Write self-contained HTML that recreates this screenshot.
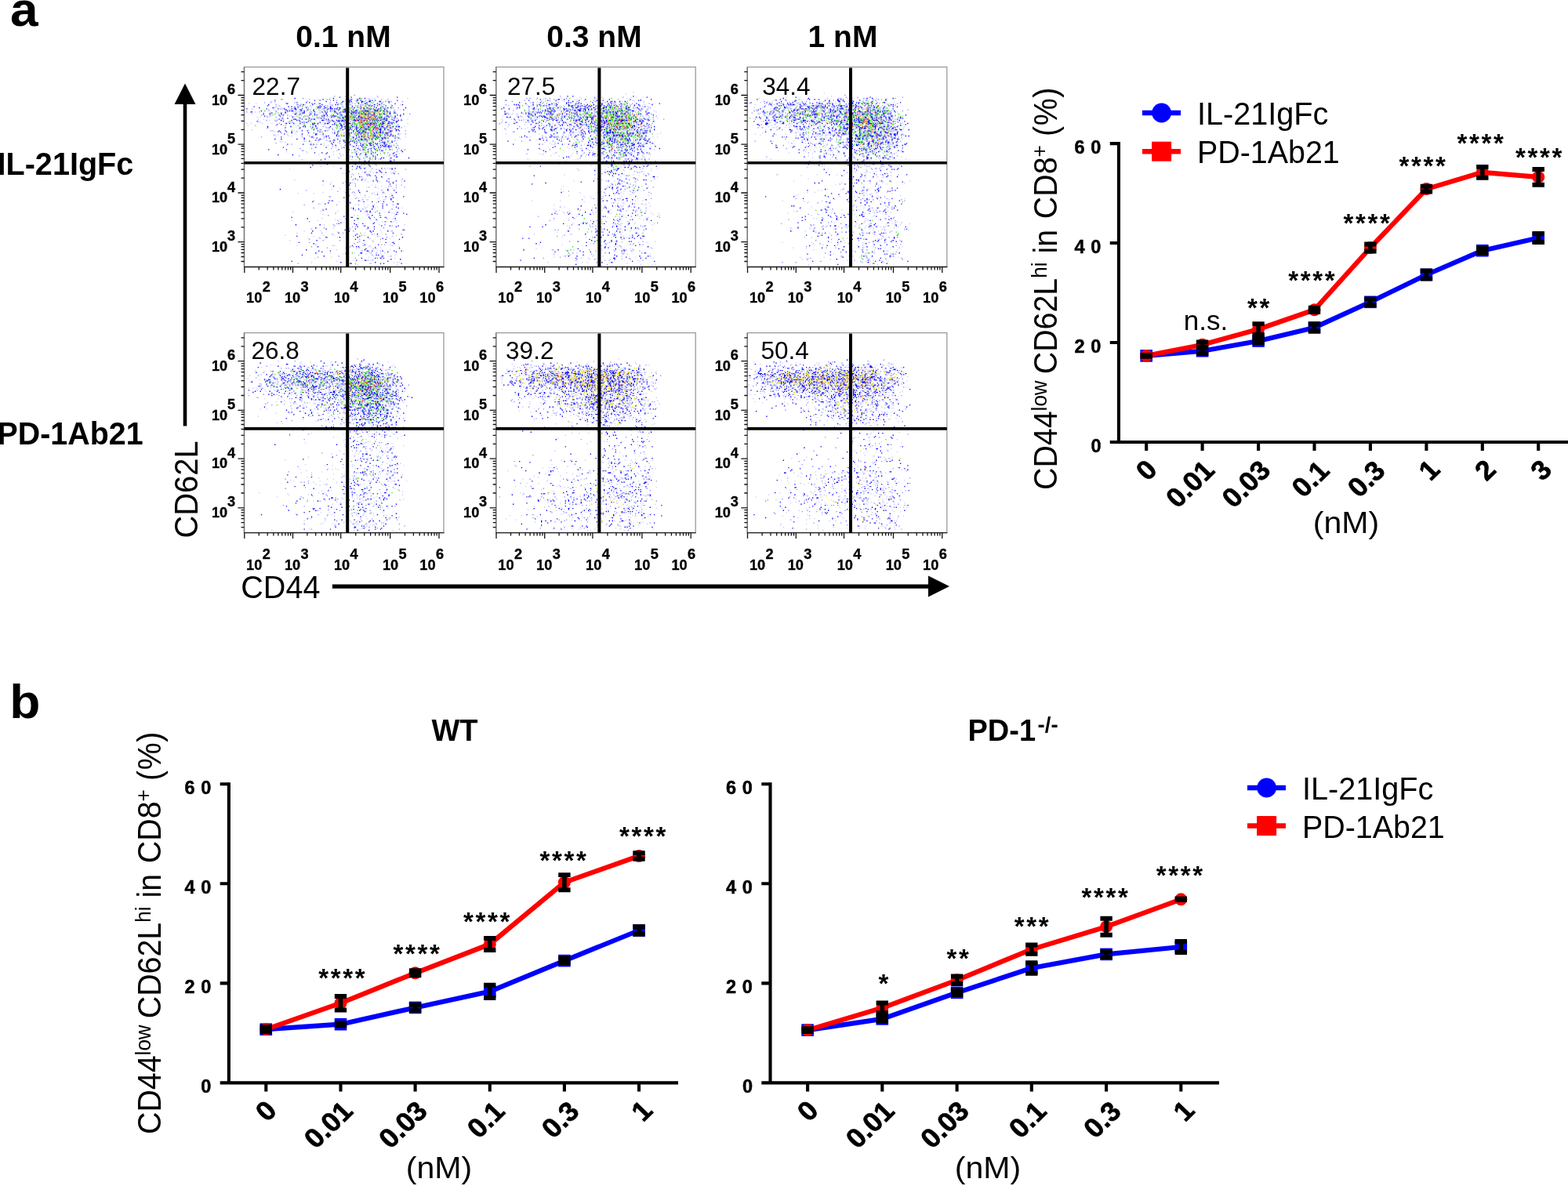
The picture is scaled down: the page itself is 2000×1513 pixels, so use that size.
<!DOCTYPE html>
<html lang="en"><head><meta charset="utf-8"><title>Figure</title>
<style>
html,body{margin:0;padding:0;background:#fff;}
body{width:2000px;height:1513px;overflow:hidden;}
svg{display:block;font-family:"Liberation Sans", sans-serif;fill:#000;}
svg text{fill:#000;}
.tl text{}
</style></head><body>
<svg width="2000" height="1513" viewBox="0 0 2000 1513">
<defs><filter id="bt" x="-5%" y="-5%" width="110%" height="110%"><feGaussianBlur stdDeviation="0.45"/></filter><filter id="bl" x="-5%" y="-5%" width="110%" height="110%"><feGaussianBlur stdDeviation="0.35"/></filter></defs>
<rect width="2000" height="1513" fill="#fff"/>
<g transform="translate(311.5,85.5) scale(1.333)" filter="url(#bl)">
<path d="M105 27h1M86 28h1M127 28h1M56 30h1M35 31h1M36 31h1M62 31h1M79 31h1M100 31h1M109 31h1M119 31h1M131 31h1M137 31h1M82 32h1M88 32h1M107 32h1M116 32h1M60 33h1M107 33h1M115 33h1M140 33h1M151 33h1M19 34h1M25 34h1M48 34h1M82 34h1M100 34h1M101 34h1M108 34h1M132 34h1M64 35h1M65 35h1M71 35h1M90 35h1M99 35h1M117 35h1M30 36h1M50 36h1M51 36h1M54 36h1M93 36h1M97 36h1M101 36h1M111 36h1M113 36h1M118 36h1M120 36h1M33 37h1M56 37h1M63 37h1M77 37h1M79 37h1M84 37h1M103 37h1M106 37h1M108 37h1M116 37h1M120 37h1M30 38h1M48 38h1M60 38h1M70 38h1M94 38h1M116 38h1M28 39h1M51 39h1M71 39h1M78 39h1M79 39h1M83 39h1M100 39h1M111 39h1M118 39h1M124 39h1M142 39h1M147 39h1M34 40h1M36 40h1M47 40h1M61 40h1M74 40h1M87 40h1M99 40h1M104 40h1M129 40h1M131 40h1M133 40h1M23 41h1M63 41h1M94 41h1M97 41h1M98 41h1M131 41h1M30 42h1M76 42h1M84 42h1M99 42h1M122 42h1M143 42h1M2 43h1M14 43h1M30 43h1M49 43h1M53 43h1M63 43h1M64 43h1M143 43h1M18 44h1M24 44h1M25 44h1M50 44h1M62 44h1M72 44h1M75 44h1M105 44h1M111 44h1M125 44h1M133 44h1M64 45h1M92 45h1M98 45h1M103 45h1M110 45h1M158 45h1M16 46h1M25 46h1M36 46h1M41 46h1M75 46h1M99 46h1M110 46h1M118 46h1M121 46h1M129 46h1M136 46h1M21 47h1M24 47h1M45 47h1M58 47h1M60 47h1M79 47h1M82 47h1M85 47h1M97 47h1M106 47h1M121 47h1M22 48h1M30 48h1M56 48h1M61 48h1M85 48h1M86 48h1M97 48h1M129 48h1M130 48h1M134 48h1M141 48h1M70 49h1M71 49h1M74 49h1M92 49h1M109 49h1M114 49h1M122 49h1M130 49h1M131 49h1M133 49h1M146 49h1M37 50h1M95 50h1M97 50h1M99 50h1M115 50h1M150 50h1M21 51h1M29 51h1M31 51h1M63 51h1M76 51h1M78 51h1M80 51h1M81 51h1M92 51h1M113 51h1M142 51h1M30 52h1M43 52h1M63 52h1M80 52h1M82 52h1M84 52h1M86 52h1M94 52h1M97 52h1M101 52h1M111 52h1M112 52h1M118 52h1M125 52h1M42 53h1M46 53h1M60 53h1M87 53h1M96 53h1M103 53h1M104 53h1M119 53h1M120 53h1M131 53h1M139 53h1M33 54h1M39 54h1M66 54h1M140 54h1M70 55h1M76 55h1M93 55h1M116 55h1M123 55h1M125 55h1M126 55h1M141 55h1M147 55h1M10 56h1M30 56h1M39 56h1M105 56h1M115 56h1M124 56h1M63 57h1M65 57h1M75 57h1M91 57h1M104 57h1M105 57h1M116 57h1M58 58h1M69 58h1M78 58h1M96 58h1M102 58h1M106 58h1M109 58h1M130 58h1M134 58h1M135 58h1M137 58h1M140 58h1M150 58h1M52 59h1M53 59h1M84 59h1M91 59h1M124 59h1M127 59h1M129 59h1M135 59h1M140 59h1M72 60h1M73 60h1M84 60h1M117 60h1M125 60h1M138 60h1M146 60h1M25 61h1M27 61h1M79 61h1M86 61h1M100 61h1M125 61h1M138 61h1M139 61h1M154 61h1M50 62h1M111 62h1M35 63h1M66 63h1M84 63h1M89 63h1M95 63h1M113 63h1M138 63h1M86 64h1M100 64h1M105 64h1M135 64h1M154 64h1M28 65h1M55 65h1M75 65h1M95 65h1M106 65h1M111 65h1M127 65h1M62 66h1M101 66h1M141 66h1M16 67h1M55 67h1M76 67h1M100 67h1M103 67h1M127 67h1M133 67h1M146 67h1M66 68h1M100 68h1M114 68h1M122 68h1M123 68h1M73 69h1M119 69h1M78 70h1M94 70h1M97 70h1M113 70h1M115 70h1M122 70h1M144 70h1M57 71h1M81 71h1M102 71h1M117 71h1M143 71h1M110 72h1M117 72h1M131 72h1M30 73h1M91 73h1M105 73h1M139 73h1M145 73h1M45 74h1M64 74h1M69 74h1M111 74h1M114 74h1M127 74h1M96 75h1M101 75h1M127 75h1M134 75h1M140 75h1M146 75h1M84 76h1M105 76h1M128 76h1M131 76h1M139 76h1M93 77h1M114 77h1M53 78h1M64 78h1M83 78h1M109 78h1M119 78h1M141 79h1M146 79h1M153 79h1M55 80h1M56 80h1M106 80h1M111 80h1M146 81h1M106 82h1M121 82h1M137 82h1M91 83h1M134 83h1M110 84h1M115 84h1M122 84h1M139 84h1M52 85h1M92 85h1M101 85h1M138 85h1M90 87h1M114 87h1M125 87h1M139 88h1M55 89h1M122 89h1M110 90h1M113 91h1M115 91h1M123 91h1M124 91h1M71 92h1M111 92h1M114 92h1M133 92h1M115 93h1M125 93h1M112 94h1M126 94h1M108 96h1M114 97h1M122 97h1M134 97h1M139 97h1M126 98h1M154 98h1M116 100h1M129 100h1M144 100h1M127 101h1M142 101h1M109 102h1M147 102h1M104 103h1M118 104h1M112 105h1M126 105h1M113 107h1M151 107h1M108 108h1M127 110h1M142 110h1M94 111h1M82 112h1M106 112h1M145 113h1M150 113h1M106 114h1M138 114h1M140 114h1M119 115h1M125 115h1M145 115h1M153 115h1M101 117h1M59 118h1M131 118h1M89 119h1M109 119h1M103 120h1M105 120h1M132 120h1M133 120h1M122 121h1M100 123h1M115 123h1M81 124h1M82 124h1M107 125h1M113 127h1M66 128h1M83 128h1M110 128h1M71 131h1M57 132h1M88 132h1M109 132h1M142 132h1M66 135h1M102 135h1M113 136h1M141 136h1M106 137h1M116 138h1M127 138h1M117 139h1M125 139h1M87 140h1M118 141h1M146 141h1M80 142h1M130 142h1M119 143h1M124 144h1M134 144h1M136 145h1M89 147h1M62 148h1M134 148h1M135 148h1M88 150h1M85 151h1M134 151h1M86 152h1M114 152h1M141 152h1M103 153h1M106 153h1M118 153h1M76 154h1M133 154h1M64 155h1M101 155h1M117 155h1M151 156h1M153 156h1M104 157h1M141 157h1M89 158h1M74 159h1M94 159h1M84 160h1M107 160h1M108 160h1M122 160h1M135 160h1M150 160h1M112 161h1M104 162h1M127 162h1M79 163h1M136 163h1M72 164h1M62 165h1M110 165h1M130 165h1M75 166h1M91 166h1M99 167h1M110 167h1M62 168h1M108 168h1M141 168h1M105 169h1M68 170h1M131 170h1M134 170h1M141 171h1M64 172h1M101 172h1M104 172h1M79 173h1M97 173h1M110 173h1M123 174h1M148 174h1M112 176h1M130 176h1M119 177h1M121 178h1M126 178h1M99 180h1M109 180h1M122 180h1M90 181h1M140 181h1M70 182h1M106 183h1M127 183h1M118 185h1M122 185h1M51 188h1M120 188h1" stroke="#9090ff" stroke-width="1" fill="none"/>
<path d="M97 28h1M91 29h1M102 29h1M146 29h1M48 30h1M85 30h1M110 30h1M115 30h1M75 31h1M97 31h1M108 31h1M29 32h1M67 32h1M72 32h1M85 32h1M101 32h1M111 32h1M120 32h1M122 32h1M125 32h1M146 32h1M78 33h1M94 33h1M100 33h1M102 33h1M112 33h1M119 33h1M120 33h1M130 33h1M138 33h1M50 34h1M59 34h1M62 34h1M88 34h1M93 34h1M112 34h1M117 34h1M138 34h1M40 35h1M41 35h1M67 35h1M98 35h1M115 35h1M116 35h1M127 35h1M131 35h1M144 35h1M23 36h1M65 36h1M74 36h1M87 36h1M89 36h1M124 36h1M151 36h1M22 37h1M53 37h1M98 37h1M122 37h1M127 37h1M135 37h1M141 37h1M9 38h1M42 38h1M45 38h1M51 38h1M71 38h1M111 38h1M124 38h1M132 38h1M14 39h1M27 39h1M48 39h1M59 39h1M70 39h1M72 39h1M77 39h1M89 39h1M114 39h1M117 39h1M130 39h1M137 39h1M140 39h1M154 39h1M2 40h1M21 40h1M32 40h1M48 40h1M49 40h1M55 40h1M76 40h1M83 40h1M84 40h1M96 40h1M114 40h1M121 40h1M123 40h1M128 40h1M134 40h1M39 41h1M40 41h1M49 41h1M53 41h1M60 41h1M66 41h1M79 41h1M95 41h1M96 41h1M99 41h1M104 41h1M107 41h1M120 41h1M127 41h1M134 41h1M152 41h1M16 42h1M41 42h1M43 42h1M45 42h1M46 42h1M54 42h1M57 42h1M66 42h1M82 42h1M96 42h1M106 42h1M113 42h1M115 42h1M116 42h1M117 42h1M118 42h1M125 42h1M127 42h1M130 42h1M133 42h1M6 43h1M7 43h1M39 43h1M57 43h1M67 43h1M74 43h1M77 43h1M79 43h1M86 43h1M87 43h1M92 43h1M94 43h1M95 43h1M96 43h1M104 43h1M105 43h1M110 43h1M134 43h1M137 43h1M139 43h1M26 44h1M35 44h1M39 44h1M55 44h1M56 44h1M57 44h1M78 44h1M88 44h1M91 44h1M119 44h1M143 44h1M144 44h1M18 45h1M24 45h1M35 45h1M48 45h1M53 45h1M63 45h1M118 45h1M120 45h1M124 45h1M133 45h1M152 45h1M33 46h1M37 46h1M62 46h1M67 46h1M69 46h1M76 46h1M85 46h1M92 46h1M93 46h1M105 46h1M107 46h1M116 46h1M122 46h1M123 46h1M146 46h1M149 46h1M34 47h1M76 47h1M84 47h1M86 47h1M96 47h1M102 47h1M124 47h1M144 47h1M149 47h1M46 48h1M90 48h1M99 48h1M125 48h1M144 48h1M36 49h1M41 49h1M53 49h1M73 49h1M76 49h1M91 49h1M107 49h1M112 49h1M116 49h1M134 49h1M136 49h1M143 49h1M33 50h1M47 50h1M49 50h1M55 50h1M59 50h1M64 50h1M66 50h1M78 50h1M80 50h1M119 50h1M126 50h1M132 50h1M133 50h1M134 50h1M45 51h1M50 51h1M52 51h1M74 51h1M75 51h1M84 51h1M88 51h1M93 51h1M99 51h1M104 51h1M106 51h1M114 51h1M120 51h1M122 51h1M124 51h1M126 51h1M130 51h1M135 51h1M136 51h1M143 51h1M147 51h1M150 51h1M12 52h1M37 52h1M61 52h1M85 52h1M89 52h1M90 52h1M91 52h1M93 52h1M95 52h1M132 52h1M138 52h1M55 53h1M57 53h1M81 53h1M110 53h1M122 53h1M138 53h1M140 53h1M142 53h1M145 53h1M40 54h1M43 54h1M47 54h1M53 54h1M65 54h1M67 54h1M77 54h1M80 54h1M86 54h1M91 54h1M97 54h1M98 54h1M100 54h1M101 54h1M105 54h1M118 54h1M120 54h1M121 54h1M126 54h1M130 54h1M137 54h1M141 54h1M31 55h1M35 55h1M66 55h1M84 55h1M86 55h1M92 55h1M103 55h1M113 55h1M132 55h1M57 56h1M92 56h1M93 56h1M97 56h1M102 56h1M126 56h1M44 57h1M56 57h1M58 57h1M68 57h1M82 57h1M93 57h1M107 57h1M114 57h1M119 57h1M136 57h1M142 57h1M147 57h1M148 57h1M22 58h1M39 58h1M53 58h1M65 58h1M81 58h1M93 58h1M98 58h1M101 58h1M111 58h1M114 58h1M127 58h1M133 58h1M69 59h1M92 59h1M96 59h1M116 59h1M117 59h1M123 59h1M128 59h1M130 59h1M144 59h1M66 60h1M94 60h1M100 60h1M102 60h1M107 60h1M110 60h1M123 60h1M129 60h1M130 60h1M134 60h1M137 60h1M145 60h1M147 60h1M33 61h1M39 61h1M55 61h1M60 61h1M70 61h1M90 61h1M108 61h1M109 61h1M113 61h1M130 61h1M145 61h1M148 61h1M32 62h1M34 62h1M40 62h1M45 62h1M72 62h1M89 62h1M104 62h1M110 62h1M113 62h1M123 62h1M126 62h1M129 62h1M130 62h1M132 62h1M139 62h1M140 62h1M45 63h1M100 63h1M109 63h1M116 63h1M124 63h1M130 63h1M132 63h1M137 63h1M38 64h1M55 64h1M68 64h1M69 64h1M89 64h1M108 64h1M140 64h1M147 64h1M68 65h1M88 65h1M100 65h1M109 65h1M125 65h1M129 65h1M140 65h1M78 66h1M80 66h1M88 66h1M90 66h1M95 66h1M112 66h1M125 66h1M130 66h1M139 66h1M142 66h1M144 66h1M35 67h1M64 67h1M65 67h1M78 67h1M104 67h1M109 67h1M110 67h1M112 67h1M114 67h1M123 67h1M134 67h1M57 68h1M69 68h1M81 68h1M104 68h1M107 68h1M127 68h1M131 68h1M132 68h1M135 68h1M137 68h1M147 68h1M29 69h1M35 69h1M50 69h1M57 69h1M72 69h1M89 69h1M106 69h1M111 69h1M116 69h1M122 69h1M132 69h1M68 70h1M71 70h1M85 70h1M86 70h1M95 70h1M112 70h1M82 71h1M91 71h1M98 71h1M99 71h1M107 71h1M129 71h1M137 71h1M141 71h1M85 72h1M96 72h1M100 72h1M105 72h1M123 72h1M132 72h1M83 73h1M107 73h1M111 73h1M120 73h1M133 73h1M134 73h1M41 74h1M56 74h1M66 74h1M73 74h1M84 74h1M101 74h1M113 74h1M120 74h1M123 74h1M126 74h1M134 74h1M136 74h1M87 75h1M99 75h1M107 75h1M111 75h1M113 75h1M117 75h1M120 75h1M130 75h1M135 75h1M138 75h1M104 76h1M112 76h1M133 76h1M135 76h1M138 76h1M140 76h1M37 77h1M68 77h1M78 77h1M95 77h1M113 77h1M116 77h1M130 77h1M138 77h1M145 77h1M108 78h1M124 78h1M23 79h1M40 79h1M90 79h1M100 79h1M105 79h1M110 79h1M113 79h1M114 79h1M129 79h1M121 80h1M127 80h1M131 80h1M132 80h1M150 80h1M118 81h1M151 81h1M67 82h1M79 82h1M123 82h1M125 82h1M143 82h1M78 83h1M99 83h1M116 83h1M121 83h1M32 84h1M46 84h1M107 84h1M116 84h1M127 84h1M145 84h1M143 85h1M81 86h1M103 86h1M108 86h1M117 86h1M125 86h1M145 86h1M146 86h1M131 87h1M133 87h1M140 87h1M157 87h1M77 88h1M120 88h1M130 88h1M73 89h1M98 89h1M115 90h1M119 90h1M139 90h1M140 90h1M133 91h1M76 92h1M106 92h1M143 92h1M150 92h1M79 93h1M106 93h1M65 94h1M119 94h1M103 95h1M108 95h1M110 95h1M120 95h1M63 96h1M110 96h1M92 97h1M107 97h1M111 97h1M115 97h1M131 97h1M141 97h1M144 97h1M141 98h1M129 99h1M100 100h1M130 100h1M126 101h1M131 101h1M135 101h1M143 102h1M117 103h1M119 103h1M120 104h1M125 104h1M106 107h1M138 107h1M112 108h1M126 108h1M75 109h1M123 109h1M127 109h1M136 109h1M153 109h1M97 110h1M138 110h1M101 111h1M142 111h1M139 112h1M100 113h1M85 114h1M34 117h1M137 117h1M109 118h1M143 118h1M117 119h1M97 120h1M110 120h1M145 120h1M127 122h1M152 124h1M95 125h1M140 126h1M140 127h1M81 128h1M84 128h1M109 128h1M65 129h1M114 129h1M122 129h1M128 129h1M133 129h1M142 129h1M80 130h1M101 130h1M77 131h1M132 131h1M146 131h1M147 131h1M136 132h1M123 133h1M132 133h1M145 134h1M104 135h1M132 135h1M147 135h1M78 136h1M104 136h1M109 136h1M122 136h1M75 137h1M111 138h1M117 138h1M120 138h1M120 139h1M138 139h1M146 139h1M129 140h1M152 140h1M145 141h1M155 141h1M122 142h1M95 143h1M45 144h1M102 144h1M103 144h1M119 144h1M130 144h1M135 144h1M60 145h1M97 145h1M120 145h1M144 145h1M126 146h1M105 147h1M98 148h1M140 148h1M92 149h1M124 149h1M90 150h1M105 150h1M113 150h1M123 150h1M49 151h1M72 151h1M131 152h1M139 152h1M147 152h1M108 153h1M124 153h1M145 153h1M68 154h1M118 154h1M78 155h1M106 155h1M124 155h1M96 156h1M152 156h1M65 157h1M100 157h1M120 157h1M123 157h1M64 159h1M90 159h1M142 159h1M99 160h1M127 160h1M50 162h1M110 162h1M78 163h1M91 163h1M118 163h1M151 163h1M132 164h1M106 165h1M135 165h1M148 165h1M69 166h1M114 166h1M52 168h1M135 168h1M66 169h1M143 169h1M115 170h1M128 170h1M103 171h1M70 172h1M107 172h1M109 172h1M148 173h1M116 174h1M59 175h1M115 175h1M82 176h1M117 176h1M118 176h1M122 176h1M132 176h1M143 176h1M150 176h1M74 177h1M137 177h1M145 177h1M68 178h1M97 178h1M111 178h1M112 178h1M97 179h1M55 180h1M126 180h1M76 181h1M131 182h1M112 183h1M125 183h1M130 183h1M133 183h1M140 184h1M149 184h1M107 185h1M115 185h1M116 185h1M45 186h1M137 186h1M92 187h1M125 187h1M101 188h1M102 188h1M130 188h1M133 188h1M150 188h1" stroke="#1010ff" stroke-width="1" fill="none"/>
<path d="M128 29h1M82 30h1M108 30h1M112 30h1M118 30h1M120 30h1M124 30h1M156 30h1M70 31h1M72 31h1M103 31h1M112 31h1M106 32h1M135 32h1M25 33h1M26 33h1M29 33h1M95 33h1M96 33h1M124 33h1M133 33h1M137 33h1M29 34h1M39 34h1M41 34h1M103 34h1M114 34h1M122 34h1M131 34h1M4 35h1M11 35h1M54 35h1M81 35h1M96 35h1M103 35h1M105 35h1M106 35h1M112 35h1M122 35h1M129 35h1M57 36h1M58 36h1M69 36h1M82 36h1M83 36h1M84 36h1M91 36h1M100 36h1M102 36h1M116 36h1M128 36h1M131 36h1M134 36h1M140 36h1M144 36h1M149 36h1M51 37h1M80 37h1M82 37h1M87 37h1M109 37h1M112 37h1M118 37h1M130 37h1M131 37h1M150 37h1M34 38h1M58 38h1M83 38h1M85 38h1M89 38h1M93 38h1M98 38h1M107 38h1M110 38h1M29 39h1M32 39h1M38 39h1M52 39h1M61 39h1M64 39h1M87 39h1M92 39h1M97 39h1M103 39h1M110 39h1M132 39h1M134 39h1M7 40h1M35 40h1M37 40h1M43 40h1M60 40h1M68 40h1M71 40h1M75 40h1M98 40h1M100 40h1M103 40h1M113 40h1M118 40h1M122 40h1M135 40h1M136 40h1M137 40h1M140 40h1M7 41h1M28 41h1M42 41h1M44 41h1M75 41h1M76 41h1M78 41h1M82 41h1M83 41h1M85 41h1M88 41h1M101 41h1M103 41h1M108 41h1M109 41h1M112 41h1M129 41h1M139 41h1M143 41h1M144 41h1M147 41h1M149 41h1M20 42h1M23 42h1M24 42h1M40 42h1M51 42h1M53 42h1M55 42h1M56 42h1M59 42h1M60 42h1M72 42h1M73 42h1M83 42h1M87 42h1M90 42h1M95 42h1M98 42h1M110 42h1M134 42h1M10 43h1M47 43h1M48 43h1M52 43h1M55 43h1M62 43h1M69 43h1M71 43h1M85 43h1M88 43h1M90 43h1M93 43h1M107 43h1M108 43h1M109 43h1M115 43h1M7 44h1M30 44h1M46 44h1M53 44h1M65 44h1M83 44h1M90 44h1M97 44h1M99 44h1M103 44h1M121 44h1M126 44h1M128 44h1M131 44h1M145 44h1M7 45h1M25 45h1M27 45h1M38 45h1M55 45h1M70 45h1M76 45h1M99 45h1M106 45h1M108 45h1M109 45h1M132 45h1M138 45h1M144 45h1M146 45h1M17 46h1M18 46h1M60 46h1M71 46h1M77 46h1M89 46h1M95 46h1M97 46h1M102 46h1M111 46h1M115 46h1M120 46h1M131 46h1M134 46h1M137 46h1M140 46h1M41 47h1M43 47h1M48 47h1M59 47h1M73 47h1M92 47h1M103 47h1M105 47h1M111 47h1M113 47h1M117 47h1M123 47h1M128 47h1M131 47h1M135 47h1M138 47h1M139 47h1M12 48h1M15 48h1M34 48h1M37 48h1M67 48h1M70 48h1M71 48h1M72 48h1M79 48h1M80 48h1M91 48h1M92 48h1M100 48h1M107 48h1M108 48h1M118 48h1M122 48h1M126 48h1M132 48h1M135 48h1M35 49h1M42 49h1M46 49h1M52 49h1M57 49h1M64 49h1M65 49h1M69 49h1M75 49h1M82 49h1M93 49h1M99 49h1M100 49h1M110 49h1M120 49h1M128 49h1M132 49h1M13 50h1M18 50h1M31 50h1M63 50h1M77 50h1M87 50h1M92 50h1M100 50h1M103 50h1M106 50h1M113 50h1M138 50h1M145 50h1M156 50h1M13 51h1M24 51h1M34 51h1M37 51h1M49 51h1M61 51h1M68 51h1M72 51h1M89 51h1M91 51h1M95 51h1M100 51h1M102 51h1M103 51h1M133 51h1M137 51h1M141 51h1M149 51h1M14 52h1M35 52h1M56 52h1M57 52h1M60 52h1M79 52h1M99 52h1M102 52h1M107 52h1M108 52h1M115 52h1M123 52h1M13 53h1M15 53h1M45 53h1M56 53h1M64 53h1M76 53h1M98 53h1M114 53h1M116 53h1M126 53h1M134 53h1M146 53h1M2 54h1M6 54h1M17 54h1M26 54h1M45 54h1M48 54h1M56 54h1M57 54h1M73 54h1M87 54h1M88 54h1M96 54h1M99 54h1M104 54h1M106 54h1M107 54h1M109 54h1M112 54h1M115 54h1M127 54h1M139 54h1M156 54h1M47 55h1M54 55h1M80 55h1M85 55h1M97 55h1M98 55h1M99 55h1M101 55h1M108 55h1M111 55h1M133 55h1M135 55h1M138 55h1M139 55h1M3 56h1M37 56h1M49 56h1M67 56h1M89 56h1M109 56h1M116 56h1M119 56h1M121 56h1M133 56h1M134 56h1M136 56h1M144 56h1M52 57h1M77 57h1M100 57h1M106 57h1M112 57h1M115 57h1M121 57h1M126 57h1M127 57h1M130 57h1M133 57h1M139 57h1M143 57h1M153 57h1M38 58h1M49 58h1M64 58h1M70 58h1M79 58h1M80 58h1M87 58h1M89 58h1M103 58h1M105 58h1M110 58h1M115 58h1M122 58h1M146 58h1M147 58h1M21 59h1M80 59h1M99 59h1M103 59h1M105 59h1M109 59h1M113 59h1M119 59h1M133 59h1M136 59h1M139 59h1M141 59h1M7 60h1M38 60h1M46 60h1M55 60h1M61 60h1M78 60h1M81 60h1M90 60h1M99 60h1M101 60h1M103 60h1M135 60h1M139 60h1M142 60h1M48 61h1M50 61h1M54 61h1M61 61h1M80 61h1M96 61h1M97 61h1M99 61h1M110 61h1M115 61h1M119 61h1M124 61h1M128 61h1M129 61h1M132 61h1M134 61h1M135 61h1M29 62h1M136 62h1M67 63h1M74 63h1M93 63h1M96 63h1M104 63h1M122 63h1M131 63h1M134 63h1M41 64h1M49 64h1M72 64h1M106 64h1M112 64h1M117 64h1M118 64h1M131 64h1M134 64h1M139 64h1M149 64h1M29 65h1M32 65h1M41 65h1M60 65h1M73 65h1M96 65h1M104 65h1M105 65h1M112 65h1M114 65h1M124 65h1M131 65h1M148 65h1M30 66h1M42 66h1M45 66h1M54 66h1M65 66h1M75 66h1M77 66h1M89 66h1M98 66h1M109 66h1M110 66h1M128 66h1M131 66h1M135 66h1M136 66h1M63 67h1M77 67h1M92 67h1M99 67h1M102 67h1M105 67h1M117 67h1M122 67h1M138 67h1M154 67h1M76 68h1M87 68h1M111 68h1M120 68h1M143 68h1M75 69h1M92 69h1M104 69h1M108 69h1M110 69h1M114 69h1M134 69h1M149 69h1M67 70h1M79 70h1M98 70h1M105 70h1M108 70h1M110 70h1M121 70h1M126 70h1M129 70h1M130 70h1M137 70h1M138 70h1M141 70h1M146 70h1M34 71h1M36 71h1M59 71h1M84 71h1M85 71h1M94 71h1M106 71h1M118 71h1M121 71h1M125 71h1M132 71h1M133 71h1M134 71h1M138 71h1M35 72h1M39 72h1M64 72h1M70 72h1M89 72h1M113 72h1M130 72h1M76 73h1M95 73h1M114 73h1M122 73h1M130 73h1M55 74h1M121 74h1M131 74h1M133 74h1M40 75h1M64 75h1M65 75h1M76 75h1M80 75h1M92 75h1M97 75h1M103 75h1M109 75h1M119 75h1M129 75h1M142 75h1M147 75h1M88 76h1M103 76h1M107 76h1M109 76h1M116 76h1M121 76h1M125 76h1M132 76h1M87 77h1M98 77h1M106 77h1M109 77h1M115 77h1M117 77h1M136 77h1M141 77h1M147 77h1M93 78h1M106 78h1M111 78h1M113 78h1M120 78h1M128 78h1M130 78h1M133 78h1M135 78h1M138 78h1M147 78h1M148 78h1M98 79h1M115 79h1M127 79h1M154 79h1M88 80h1M89 80h1M102 80h1M108 80h1M110 80h1M114 80h1M116 80h1M40 81h1M59 81h1M85 81h1M97 81h1M105 81h1M113 81h1M119 81h1M121 81h1M125 81h1M129 81h1M130 81h1M132 81h1M145 81h1M60 82h1M102 82h1M105 82h1M109 82h1M112 82h1M114 82h1M122 82h1M117 83h1M119 83h1M122 83h1M137 83h1M148 83h1M71 84h1M85 84h1M94 84h1M98 84h1M111 85h1M115 85h1M116 85h1M119 85h1M136 85h1M139 85h1M106 86h1M120 86h1M99 87h1M100 87h1M119 87h1M126 87h1M76 88h1M103 88h1M115 88h1M119 88h1M128 88h1M129 88h1M78 89h1M101 89h1M102 89h1M106 89h1M107 89h1M125 89h1M71 90h1M124 90h1M132 90h1M143 90h1M132 91h1M140 91h1M109 92h1M127 92h1M146 93h1M106 94h1M73 95h1M85 95h1M114 95h1M116 96h1M120 96h1M137 97h1M43 98h1M106 98h1M128 98h1M131 98h1M135 98h1M143 98h1M121 99h1M113 100h1M120 100h1M98 101h1M120 101h1M123 101h1M140 101h1M94 102h1M96 102h1M103 102h1M118 102h1M141 102h1M102 103h1M133 103h1M117 105h1M132 106h1M104 107h1M116 107h1M137 107h1M48 108h1M103 108h1M104 108h1M116 108h1M150 108h1M115 109h1M126 109h1M83 110h1M118 110h1M129 110h1M143 110h1M150 110h1M103 111h1M105 111h1M75 113h1M101 113h1M122 113h1M125 113h1M131 114h1M117 115h1M126 115h1M135 115h1M91 116h1M128 116h1M142 116h1M83 117h1M132 117h1M145 117h1M98 119h1M104 119h1M133 119h1M75 120h1M124 120h1M127 120h1M51 121h1M66 121h1M106 121h1M132 121h1M134 121h1M140 121h1M111 122h1M125 122h1M105 123h1M142 123h1M119 124h1M132 124h1M139 124h1M113 125h1M116 125h1M129 125h1M109 126h1M127 126h1M135 126h1M117 127h1M118 127h1M133 127h1M134 127h1M130 128h1M132 128h1M90 129h1M100 129h1M141 129h1M126 130h1M73 131h1M114 131h1M106 132h1M118 132h1M124 132h1M115 134h1M117 134h1M127 134h1M116 135h1M123 135h1M125 135h1M151 135h1M75 136h1M115 136h1M147 136h1M104 137h1M110 137h1M139 137h1M73 138h1M89 138h1M118 138h1M126 138h1M46 139h1M115 139h1M121 139h1M147 139h1M141 140h1M143 140h1M75 141h1M105 142h1M108 142h1M117 142h1M144 142h1M143 143h1M129 144h1M74 145h1M142 145h1M87 146h1M92 146h1M45 147h1M70 147h1M108 147h1M127 147h1M144 147h1M145 147h1M90 148h1M132 148h1M142 148h1M104 149h1M109 149h1M145 149h1M76 151h1M105 151h1M129 151h1M153 151h1M107 152h1M85 154h1M100 154h1M105 155h1M119 155h1M130 156h1M57 157h1M73 157h1M140 157h1M131 158h1M50 159h1M115 159h1M124 160h1M39 161h1M75 161h1M86 161h1M114 161h1M115 161h1M145 161h1M66 162h1M77 162h1M99 162h1M129 162h1M141 162h1M142 162h1M71 163h1M89 163h1M95 163h1M61 164h1M77 164h1M119 164h1M120 164h1M139 164h1M43 166h1M122 166h1M109 167h1M130 167h1M143 167h1M113 169h1M114 169h1M139 170h1M50 171h1M84 171h1M85 171h1M86 171h1M99 171h1M113 171h1M120 171h1M119 172h1M121 172h1M125 172h1M148 172h1M130 173h1M107 174h1M126 174h1M88 175h1M113 175h1M139 175h1M124 176h1M127 176h1M152 176h1M70 177h1M82 178h1M105 178h1M130 178h1M134 178h1M55 179h1M69 179h1M94 179h1M116 179h1M131 180h1M144 180h1M123 181h1M138 181h1M83 182h1M112 182h1M119 182h1M129 182h1M67 183h1M126 183h1M131 183h1M144 183h1M123 184h1M131 184h1M104 185h1M120 185h1M88 186h1M106 186h1M64 187h1M143 187h1M146 187h1M148 187h1M121 188h1M134 188h1M106 189h1M108 189h1M130 189h1M146 189h1" stroke="#ccccff" stroke-width="1" fill="none"/>
<path d="M111 30h1M81 31h1M100 32h1M135 33h1M109 34h1M121 34h1M123 34h1M92 35h1M117 36h1M125 36h1M133 36h1M115 37h1M121 37h1M55 38h1M69 38h1M108 38h1M121 38h1M131 38h1M140 38h1M108 39h1M135 39h1M95 40h1M115 40h1M117 40h1M130 40h1M61 41h1M71 41h1M89 41h1M100 41h1M115 41h1M116 41h1M136 41h1M19 42h1M77 42h1M108 42h1M124 42h1M129 42h1M132 42h1M41 43h1M111 43h1M113 43h1M119 43h1M121 43h1M123 43h1M124 43h1M125 43h1M127 43h1M133 43h1M136 43h1M144 43h1M32 44h1M101 44h1M110 44h1M112 44h1M116 44h1M123 44h1M113 45h1M127 45h1M130 45h1M136 45h1M27 46h1M52 46h1M83 46h1M84 46h1M91 46h1M103 46h1M50 47h1M57 47h1M65 47h1M77 47h1M88 47h1M93 47h1M101 47h1M104 47h1M112 47h1M114 47h1M125 47h1M127 47h1M129 47h1M130 47h1M140 47h1M52 48h1M69 48h1M103 48h1M104 48h1M106 48h1M119 48h1M123 48h1M128 48h1M95 49h1M102 49h1M104 49h1M108 49h1M123 49h1M135 49h1M61 50h1M96 50h1M101 50h1M108 50h1M116 50h1M118 50h1M124 50h1M125 50h1M131 50h1M62 51h1M83 51h1M116 51h1M123 51h1M125 51h1M131 51h1M44 52h1M105 52h1M119 52h1M124 52h1M129 52h1M67 53h1M105 53h1M113 53h1M121 53h1M123 53h1M128 53h1M133 53h1M92 54h1M110 54h1M117 54h1M119 54h1M134 54h1M143 54h1M57 55h1M63 55h1M88 55h1M90 55h1M106 55h1M110 55h1M112 55h1M115 55h1M58 56h1M111 56h1M112 56h1M123 56h1M127 56h1M128 56h1M129 56h1M146 56h1M45 57h1M89 57h1M95 57h1M122 57h1M123 57h1M100 58h1M116 58h1M118 58h1M123 58h1M132 58h1M136 58h1M141 58h1M148 58h1M64 59h1M67 59h1M88 59h1M106 59h1M108 59h1M114 59h1M118 59h1M120 59h1M125 59h1M131 59h1M105 60h1M113 60h1M120 60h1M131 60h1M45 61h1M92 61h1M107 61h1M120 61h1M121 61h1M133 61h1M74 62h1M90 62h1M107 62h1M115 63h1M127 63h1M101 64h1M121 64h1M122 64h1M132 64h1M92 65h1M97 65h1M107 65h1M121 65h1M130 65h1M142 65h1M93 66h1M100 66h1M113 66h1M114 66h1M123 66h1M126 66h1M137 66h1M97 67h1M116 67h1M125 67h1M130 67h1M109 68h1M121 68h1M124 68h1M126 68h1M128 68h1M101 69h1M126 69h1M129 69h1M135 69h1M96 70h1M104 70h1M111 70h1M119 70h1M104 71h1M105 71h1M110 71h1M114 71h1M116 71h1M122 71h1M123 71h1M108 72h1M120 72h1M133 72h1M137 72h1M100 73h1M115 73h1M129 73h1M116 74h1M117 74h1M114 75h1M143 75h1M123 76h1M99 78h1M115 78h1M135 79h1M115 80h1M126 80h1M107 81h1M103 82h1M115 82h1M116 82h1M118 82h1M133 82h1M134 82h1M130 83h1M125 85h1M116 86h1M123 86h1M109 87h1M120 87h1M135 91h1M114 93h1M118 93h1M103 98h1M102 105h1M106 126h1M129 142h1M109 145h1M111 159h1M123 167h1M114 171h1M103 178h1M106 188h1" stroke="#40e818" stroke-width="1" fill="none"/>
<path d="M102 31h1M108 32h1M113 33h1M129 33h1M72 35h1M109 35h1M56 36h1M129 36h1M72 37h1M119 37h1M73 38h1M76 38h1M82 38h1M103 38h1M82 39h1M91 39h1M105 39h1M126 39h1M38 40h1M45 40h1M80 40h1M82 40h1M86 40h1M88 40h1M91 40h1M111 40h1M119 40h1M54 41h1M90 41h1M124 41h1M125 41h1M86 42h1M102 42h1M107 42h1M126 42h1M136 42h1M100 43h1M103 43h1M114 43h1M118 43h1M102 44h1M104 44h1M106 44h1M107 44h1M109 44h1M114 44h1M124 44h1M139 44h1M49 45h1M67 45h1M78 45h1M89 45h1M102 45h1M112 45h1M115 45h1M116 45h1M129 45h1M134 45h1M139 45h1M79 46h1M19 47h1M74 47h1M87 47h1M109 47h1M110 47h1M118 47h1M126 47h1M136 47h1M137 47h1M83 48h1M94 48h1M96 48h1M98 48h1M105 48h1M109 48h1M120 48h1M131 48h1M138 48h1M62 49h1M94 49h1M111 49h1M113 49h1M115 49h1M118 49h1M127 49h1M129 49h1M48 50h1M67 50h1M105 50h1M110 50h1M123 50h1M136 50h1M141 50h1M35 51h1M90 51h1M94 51h1M96 51h1M105 51h1M108 51h1M109 51h1M128 51h1M53 52h1M117 52h1M127 52h1M134 52h1M145 52h1M146 52h1M59 53h1M72 53h1M97 53h1M112 53h1M125 53h1M132 53h1M70 54h1M79 54h1M116 54h1M123 54h1M132 54h1M133 54h1M138 54h1M65 55h1M95 55h1M114 55h1M117 55h1M120 55h1M124 55h1M129 55h1M131 55h1M68 56h1M88 56h1M107 56h1M120 56h1M137 56h1M139 56h1M22 57h1M96 57h1M103 57h1M118 57h1M125 57h1M129 57h1M131 57h1M132 57h1M145 57h1M107 58h1M112 58h1M119 58h1M124 58h1M139 58h1M101 59h1M107 59h1M111 59h1M115 59h1M134 59h1M116 60h1M119 60h1M77 61h1M98 61h1M104 61h1M114 61h1M140 61h1M108 62h1M114 62h1M61 63h1M86 63h1M102 63h1M110 63h1M112 63h1M118 63h1M126 63h1M135 63h1M75 64h1M111 64h1M114 64h1M124 64h1M136 64h1M118 65h1M123 65h1M134 65h1M137 65h1M107 66h1M124 66h1M118 67h1M126 67h1M128 67h1M119 68h1M134 68h1M144 68h1M112 69h1M115 69h1M125 69h1M109 70h1M117 70h1M131 70h1M62 71h1M95 71h1M101 71h1M103 71h1M134 72h1M141 72h1M119 73h1M121 73h1M125 73h1M127 73h1M63 74h1M121 75h1M132 75h1M124 76h1M134 76h1M137 76h1M128 77h1M121 78h1M118 79h1M125 79h1M139 79h1M74 82h1M107 83h1M111 83h1M142 83h1M123 85h1M110 88h1M125 88h1M143 89h1M134 92h1M115 101h1M110 105h1M131 105h1M126 106h1M145 109h1M137 118h1M141 123h1M135 124h1M142 125h1M123 134h1M108 145h1M107 151h1M115 152h1M137 157h1M121 158h1M106 161h1M108 163h1M142 168h1M125 173h1M71 176h1M128 180h1M132 181h1" stroke="#0000f0" stroke-width="1" fill="none"/>
<path d="M111 37h1M112 39h1M118 41h1M128 43h1M136 44h1M111 45h1M116 47h1M120 47h1M121 48h1M124 49h1M102 50h1M95 54h1M113 54h1M132 56h1M113 57h1M113 58h1M118 60h1M121 63h1M125 64h1M122 66h1M129 67h1M133 68h1M117 69h1" stroke="#ff8a10" stroke-width="1" fill="none"/>
<path d="M114 37h1M109 39h1M119 39h1M69 40h1M124 40h1M112 43h1M126 43h1M115 44h1M117 44h1M125 45h1M104 46h1M106 46h1M113 46h1M113 48h1M111 50h1M128 52h1M129 54h1M136 55h1M108 57h1M110 57h1M120 57h1M117 58h1M128 58h1M112 62h1M113 64h1M120 64h1M127 64h1M128 64h1M123 70h1M123 73h1M122 87h1" stroke="#e8d020" stroke-width="1" fill="none"/>
<path d="M102 39h1M120 39h1M133 39h1M101 40h1M126 41h1M130 41h1M94 42h1M105 42h1M111 42h1M119 42h1M117 43h1M129 43h1M86 44h1M98 44h1M108 44h1M132 44h1M29 45h1M104 45h1M121 45h1M131 45h1M54 46h1M100 46h1M109 46h1M114 46h1M117 46h1M119 46h1M130 46h1M75 48h1M89 48h1M110 48h1M114 48h1M115 48h1M89 49h1M103 49h1M117 50h1M120 50h1M127 50h1M135 50h1M127 51h1M129 51h1M109 52h1M113 52h1M136 52h1M109 53h1M115 53h1M117 53h1M124 53h1M127 53h1M103 54h1M108 54h1M111 54h1M114 54h1M122 54h1M125 54h1M105 55h1M107 55h1M128 55h1M130 55h1M51 56h1M103 56h1M110 56h1M125 56h1M101 57h1M111 57h1M141 57h1M88 58h1M120 58h1M129 58h1M111 60h1M112 60h1M114 60h1M115 60h1M126 60h1M127 60h1M111 61h1M116 61h1M120 62h1M120 63h1M128 63h1M133 63h1M107 64h1M123 64h1M130 64h1M116 65h1M135 65h1M121 66h1M127 66h1M148 68h1M102 69h1M113 69h1M121 69h1M114 70h1M115 76h1M123 77h1M126 78h1M122 81h1" stroke="#48f000" stroke-width="1" fill="none"/>
<path d="M114 41h1M128 41h1M116 43h1M120 43h1M124 46h1M101 48h1M111 48h1M112 48h1M117 49h1M119 49h1M125 49h1M112 50h1M107 51h1M111 51h1M115 51h1M117 51h1M106 52h1M114 52h1M111 53h1M124 54h1M118 55h1M121 55h1M122 55h1M113 56h1M108 58h1M125 58h1M126 58h1M126 59h1M122 61h1M127 61h1M141 61h1M115 62h1M116 62h1M129 63h1M136 63h1M120 66h1" stroke="#ff2000" stroke-width="1" fill="none"/>
<path d="M112 42h1M122 43h1M114 45h1M119 45h1M123 45h1M125 46h1M115 47h1M119 47h1M122 47h1M97 49h1M121 49h1M58 50h1M107 50h1M121 50h1M122 50h1M130 50h1M112 51h1M110 52h1M120 52h1M122 52h1M133 52h1M119 55h1M117 56h1M131 56h1M137 57h1M121 58h1M106 63h1M93 65h1M115 65h1M115 66h1M118 66h1M115 67h1M123 75h1" stroke="#ff7a10" stroke-width="1" fill="none"/>
</g>
<rect x="311.5" y="85.5" width="254.5" height="255.0" fill="none" stroke="#9a9a9a" stroke-width="1.3"/>
<line x1="311.0" y1="340.5" x2="566.5" y2="340.5" stroke="#222" stroke-width="1.4"/>
<line x1="311.5" y1="85.5" x2="311.5" y2="340.5" stroke="#777" stroke-width="1.4"/>
<line x1="443.2" y1="86.5" x2="443.2" y2="340.5" stroke="#000" stroke-width="4"/>
<line x1="311.5" y1="207.8" x2="566.0" y2="207.8" stroke="#000" stroke-width="3.6"/>
<path d="M311.8 340.5v7.5M330.3 340.5v4M341.2 340.5v4M348.9 340.5v4M354.9 340.5v4M359.8 340.5v4M363.9 340.5v4M367.5 340.5v4M370.7 340.5v4M373.5 340.5v7.5M391.9 340.5v4M402.7 340.5v4M410.3 340.5v4M416.3 340.5v4M421.1 340.5v4M425.2 340.5v4M428.8 340.5v4M431.9 340.5v4M434.7 340.5v7.5M453.7 340.5v4M464.8 340.5v4M472.6 340.5v4M478.7 340.5v4M483.7 340.5v4M487.9 340.5v4M491.6 340.5v4M494.8 340.5v4M497.7 340.5v7.5M516.5 340.5v4M527.4 340.5v4M535.2 340.5v4M541.2 340.5v4M546.2 340.5v4M550.3 340.5v4M554.0 340.5v4M557.1 340.5v4M560.0 340.5v7.5" stroke="#111" stroke-width="1.3" fill="none"/>
<path d="M311.5 308.7h-8M311.5 289.9h-4M311.5 278.9h-4M311.5 271.1h-4M311.5 265.1h-4M311.5 260.1h-4M311.5 256.0h-4M311.5 252.3h-4M311.5 249.2h-4M311.5 246.0h-8M311.5 227.2h-4M311.5 216.2h-4M311.5 208.4h-4M311.5 202.4h-4M311.5 197.4h-4M311.5 193.3h-4M311.5 189.6h-4M311.5 186.5h-4M311.5 184.2h-8M311.5 165.4h-4M311.5 154.4h-4M311.5 146.6h-4M311.5 140.6h-4M311.5 135.6h-4M311.5 131.5h-4M311.5 127.8h-4M311.5 124.7h-4M311.5 121.5h-8M311.5 102.7h-4M311.5 91.7h-4M311.5 333.5h-4M311.5 327.5h-4M311.5 322.5h-4M311.5 318.4h-4M311.5 314.7h-4M311.5 311.6h-4" stroke="#111" stroke-width="1.3" fill="none"/>
<g font-size="18.2" font-weight="bold" class="tl" stroke="#000" stroke-width="0.35" filter="url(#bt)">
<text x="314.1" y="385.8">10</text><text x="334.7" y="372.0">2</text>
<text x="362.9" y="385.8">10</text><text x="383.5" y="372.0">3</text>
<text x="425.9" y="385.8">10</text><text x="446.5" y="372.0">4</text>
<text x="487.9" y="385.8">10</text><text x="508.5" y="372.0">5</text>
<text x="535.3" y="385.8">10</text><text x="555.9" y="372.0">6</text>
<text x="269.9" y="321.0">10</text><text x="289.9" y="307.2">3</text>
<text x="269.9" y="258.3">10</text><text x="289.9" y="244.5">4</text>
<text x="269.9" y="196.5">10</text><text x="289.9" y="182.7">5</text>
<text x="269.9" y="133.8">10</text><text x="289.9" y="120.0">6</text>
</g>
<text x="321.6" y="120.8" font-size="31.5">22.7</text>
<g transform="translate(632.7,85.5) scale(1.333)" filter="url(#bl)">
<path d="M131 24h1M124 26h1M86 28h1M80 29h1M101 29h1M129 29h1M140 29h1M62 30h1M81 30h1M102 30h1M125 30h1M38 31h1M45 31h1M64 31h1M75 31h1M77 31h1M116 31h1M117 31h1M47 32h1M63 32h1M84 32h1M127 32h1M130 32h1M131 32h1M47 33h1M57 33h1M65 33h1M69 33h1M78 33h1M94 33h1M109 33h1M114 33h1M120 33h1M132 33h1M141 33h1M32 34h1M33 34h1M39 34h1M49 34h1M55 34h1M86 34h1M102 34h1M117 34h1M141 34h1M35 35h1M55 35h1M80 35h1M89 35h1M127 35h1M29 36h1M46 36h1M56 36h1M57 36h1M66 36h1M80 36h1M99 36h1M110 36h1M112 36h1M113 36h1M117 36h1M119 36h1M128 36h1M129 36h1M137 36h1M142 36h1M11 37h1M12 37h1M30 37h1M33 37h1M47 37h1M55 37h1M61 37h1M64 37h1M74 37h1M79 37h1M80 37h1M85 37h1M88 37h1M97 37h1M99 37h1M102 37h1M109 37h1M119 37h1M122 37h1M124 37h1M133 37h1M39 38h1M44 38h1M51 38h1M60 38h1M62 38h1M71 38h1M83 38h1M89 38h1M91 38h1M100 38h1M108 38h1M111 38h1M121 38h1M127 38h1M128 38h1M131 38h1M138 38h1M34 39h1M38 39h1M56 39h1M62 39h1M64 39h1M72 39h1M81 39h1M112 39h1M119 39h1M133 39h1M13 40h1M38 40h1M40 40h1M70 40h1M87 40h1M90 40h1M99 40h1M109 40h1M120 40h1M123 40h1M131 40h1M132 40h1M12 41h1M16 41h1M31 41h1M36 41h1M37 41h1M42 41h1M45 41h1M46 41h1M49 41h1M60 41h1M61 41h1M68 41h1M69 41h1M84 41h1M95 41h1M99 41h1M103 41h1M109 41h1M113 41h1M115 41h1M125 41h1M129 41h1M134 41h1M138 41h1M140 41h1M16 42h1M36 42h1M46 42h1M55 42h1M58 42h1M65 42h1M69 42h1M71 42h1M77 42h1M88 42h1M93 42h1M96 42h1M101 42h1M107 42h1M117 42h1M129 42h1M132 42h1M136 42h1M151 42h1M24 43h1M30 43h1M37 43h1M39 43h1M48 43h1M56 43h1M69 43h1M88 43h1M97 43h1M100 43h1M104 43h1M113 43h1M131 43h1M135 43h1M153 43h1M16 44h1M25 44h1M36 44h1M49 44h1M51 44h1M53 44h1M59 44h1M64 44h1M103 44h1M110 44h1M111 44h1M112 44h1M127 44h1M135 44h1M137 44h1M144 44h1M12 45h1M15 45h1M19 45h1M20 45h1M26 45h1M29 45h1M32 45h1M46 45h1M49 45h1M51 45h1M58 45h1M69 45h1M73 45h1M79 45h1M82 45h1M85 45h1M91 45h1M93 45h1M94 45h1M96 45h1M99 45h1M105 45h1M113 45h1M128 45h1M132 45h1M143 45h1M150 45h1M32 46h1M33 46h1M51 46h1M67 46h1M79 46h1M88 46h1M91 46h1M92 46h1M107 46h1M127 46h1M143 46h1M6 47h1M28 47h1M34 47h1M37 47h1M42 47h1M44 47h1M49 47h1M60 47h1M67 47h1M75 47h1M82 47h1M87 47h1M91 47h1M104 47h1M107 47h1M109 47h1M112 47h1M128 47h1M129 47h1M133 47h1M134 47h1M143 47h1M24 48h1M25 48h1M30 48h1M37 48h1M40 48h1M55 48h1M71 48h1M93 48h1M95 48h1M102 48h1M107 48h1M118 48h1M12 49h1M36 49h1M41 49h1M50 49h1M60 49h1M63 49h1M64 49h1M66 49h1M77 49h1M80 49h1M83 49h1M85 49h1M96 49h1M113 49h1M117 49h1M120 49h1M132 49h1M154 49h1M5 50h1M14 50h1M21 50h1M26 50h1M28 50h1M39 50h1M67 50h1M72 50h1M90 50h1M98 50h1M104 50h1M113 50h1M114 50h1M123 50h1M125 50h1M136 50h1M144 50h1M147 50h1M6 51h1M26 51h1M31 51h1M33 51h1M45 51h1M59 51h1M61 51h1M62 51h1M78 51h1M86 51h1M92 51h1M93 51h1M98 51h1M101 51h1M112 51h1M138 51h1M144 51h1M17 52h1M30 52h1M31 52h1M47 52h1M48 52h1M60 52h1M61 52h1M64 52h1M68 52h1M70 52h1M75 52h1M79 52h1M87 52h1M96 52h1M97 52h1M98 52h1M104 52h1M110 52h1M112 52h1M122 52h1M127 52h1M134 52h1M145 52h1M30 53h1M31 53h1M37 53h1M47 53h1M83 53h1M88 53h1M96 53h1M99 53h1M108 53h1M110 53h1M111 53h1M113 53h1M118 53h1M124 53h1M132 53h1M133 53h1M136 53h1M141 53h1M18 54h1M39 54h1M54 54h1M59 54h1M69 54h1M72 54h1M81 54h1M94 54h1M97 54h1M101 54h1M108 54h1M110 54h1M122 54h1M131 54h1M132 54h1M134 54h1M135 54h1M2 55h1M27 55h1M37 55h1M49 55h1M56 55h1M59 55h1M62 55h1M83 55h1M85 55h1M87 55h1M88 55h1M96 55h1M134 55h1M20 56h1M45 56h1M55 56h1M65 56h1M70 56h1M78 56h1M83 56h1M89 56h1M97 56h1M101 56h1M105 56h1M120 56h1M134 56h1M136 56h1M138 56h1M143 56h1M11 57h1M40 57h1M70 57h1M95 57h1M105 57h1M107 57h1M108 57h1M109 57h1M133 57h1M134 57h1M138 57h1M145 57h1M30 58h1M34 58h1M44 58h1M48 58h1M61 58h1M64 58h1M71 58h1M75 58h1M81 58h1M84 58h1M94 58h1M101 58h1M109 58h1M117 58h1M120 58h1M121 58h1M122 58h1M131 58h1M134 58h1M135 58h1M27 59h1M33 59h1M42 59h1M61 59h1M70 59h1M78 59h1M82 59h1M84 59h1M90 59h1M114 59h1M121 59h1M132 59h1M9 60h1M41 60h1M44 60h1M51 60h1M61 60h1M66 60h1M74 60h1M83 60h1M89 60h1M96 60h1M98 60h1M100 60h1M106 60h1M125 60h1M128 60h1M130 60h1M140 60h1M145 60h1M32 61h1M91 61h1M112 61h1M115 61h1M119 61h1M121 61h1M122 61h1M127 61h1M128 61h1M131 61h1M136 61h1M141 61h1M57 62h1M64 62h1M74 62h1M76 62h1M78 62h1M79 62h1M81 62h1M85 62h1M90 62h1M94 62h1M95 62h1M96 62h1M112 62h1M117 62h1M122 62h1M124 62h1M130 62h1M136 62h1M142 62h1M148 62h1M71 63h1M74 63h1M80 63h1M96 63h1M115 63h1M118 63h1M127 63h1M157 63h1M9 64h1M41 64h1M93 64h1M95 64h1M96 64h1M98 64h1M101 64h1M104 64h1M109 64h1M133 64h1M139 64h1M154 64h1M63 65h1M64 65h1M74 65h1M76 65h1M82 65h1M91 65h1M100 65h1M102 65h1M121 65h1M122 65h1M126 65h1M130 65h1M134 65h1M136 65h1M143 65h1M58 66h1M64 66h1M69 66h1M77 66h1M84 66h1M100 66h1M110 66h1M111 66h1M114 66h1M116 66h1M127 66h1M22 67h1M32 67h1M53 67h1M67 67h1M85 67h1M93 67h1M102 67h1M106 67h1M110 67h1M116 67h1M119 67h1M126 67h1M131 67h1M136 67h1M139 67h1M142 67h1M150 67h1M154 67h1M41 68h1M60 68h1M68 68h1M83 68h1M89 68h1M104 68h1M125 68h1M132 68h1M135 68h1M137 68h1M147 68h1M64 69h1M74 69h1M94 69h1M95 69h1M96 69h1M97 69h1M101 69h1M103 69h1M124 69h1M128 69h1M133 69h1M142 69h1M18 70h1M38 70h1M96 70h1M100 70h1M120 70h1M127 70h1M134 70h1M135 70h1M141 70h1M146 70h1M49 71h1M81 71h1M89 71h1M107 71h1M114 71h1M117 71h1M123 71h1M124 71h1M132 71h1M134 71h1M136 71h1M46 72h1M56 72h1M105 72h1M111 72h1M119 72h1M122 72h1M124 72h1M133 72h1M141 72h1M51 73h1M56 73h1M91 73h1M97 73h1M105 73h1M112 73h1M117 73h1M118 73h1M131 73h1M132 73h1M53 74h1M55 74h1M56 74h1M65 74h1M84 74h1M90 74h1M99 74h1M107 74h1M115 74h1M126 74h1M134 74h1M136 74h1M141 74h1M142 74h1M147 74h1M96 75h1M99 75h1M103 75h1M106 75h1M110 75h1M115 75h1M122 75h1M127 75h1M128 75h1M132 75h1M151 75h1M91 76h1M104 76h1M123 76h1M128 76h1M134 76h1M135 76h1M148 76h1M50 77h1M68 77h1M102 77h1M111 77h1M113 77h1M124 77h1M125 77h1M131 77h1M70 78h1M80 78h1M81 78h1M82 78h1M97 78h1M110 78h1M116 78h1M123 78h1M127 78h1M131 78h1M132 78h1M134 78h1M146 78h1M31 79h1M43 79h1M73 79h1M76 79h1M88 79h1M113 79h1M116 79h1M118 79h1M130 79h1M136 79h1M141 79h1M151 79h1M64 80h1M91 80h1M105 80h1M109 80h1M117 80h1M118 80h1M123 80h1M143 80h1M93 81h1M109 81h1M111 81h1M114 81h1M119 81h1M120 81h1M121 81h1M127 81h1M98 82h1M102 82h1M106 82h1M108 82h1M109 82h1M114 82h1M124 82h1M128 82h1M141 82h1M41 83h1M45 83h1M55 83h1M73 83h1M83 83h1M110 83h1M122 83h1M123 83h1M130 83h1M137 83h1M44 84h1M82 84h1M86 84h1M98 84h1M102 84h1M103 84h1M110 84h1M113 84h1M117 84h1M128 84h1M136 84h1M147 84h1M52 85h1M60 85h1M71 85h1M96 85h1M97 85h1M101 85h1M105 85h1M110 85h1M114 85h1M85 86h1M92 86h1M117 86h1M120 86h1M131 86h1M141 86h1M70 87h1M108 87h1M127 87h1M135 87h1M142 87h1M30 88h1M78 88h1M99 88h1M117 88h1M118 88h1M136 88h1M138 88h1M139 88h1M140 88h1M76 89h1M101 89h1M103 89h1M125 89h1M132 89h1M139 89h1M66 90h1M128 90h1M50 91h1M78 91h1M90 91h1M102 91h1M106 91h1M135 91h1M100 92h1M129 92h1M60 93h1M98 93h1M143 93h1M148 93h1M91 94h1M108 94h1M140 94h1M119 95h1M107 96h1M111 96h1M119 96h1M122 96h1M77 97h1M95 97h1M115 97h1M148 97h1M154 97h1M78 98h1M104 98h1M121 98h1M130 98h1M138 98h1M79 99h1M98 99h1M113 99h1M122 99h1M148 99h1M103 100h1M107 100h1M134 100h1M141 100h1M141 102h1M65 103h1M122 103h1M131 103h1M141 103h1M126 104h1M136 104h1M112 105h1M119 105h1M154 105h1M94 107h1M131 107h1M101 108h1M74 109h1M113 109h1M132 109h1M98 110h1M120 111h1M126 112h1M133 112h1M64 114h1M106 114h1M109 114h1M122 114h1M130 114h1M139 114h1M128 115h1M145 115h1M106 116h1M131 116h1M62 117h1M136 117h1M118 118h1M64 119h1M122 119h1M133 119h1M80 120h1M119 120h1M132 120h1M104 121h1M121 121h1M131 121h1M118 122h1M128 122h1M69 123h1M105 123h1M113 123h1M134 123h1M146 123h1M84 124h1M90 124h1M99 124h1M120 124h1M91 126h1M135 126h1M34 128h1M61 128h1M117 128h1M120 128h1M133 128h1M140 128h1M84 129h1M128 129h1M110 130h1M121 130h1M130 130h1M146 130h1M122 131h1M143 131h1M55 132h1M97 132h1M141 132h1M143 132h1M103 133h1M104 133h1M114 133h1M119 133h1M121 133h1M147 133h1M65 134h1M120 134h1M129 134h1M92 135h1M102 135h1M121 135h1M55 136h1M60 137h1M101 137h1M109 137h1M125 137h1M143 137h1M70 138h1M108 138h1M124 138h1M143 138h1M64 139h1M92 139h1M95 139h1M65 140h1M68 140h1M108 140h1M110 140h1M148 140h1M155 140h1M93 141h1M135 141h1M150 141h1M121 142h1M135 142h1M156 142h1M77 143h1M117 143h1M137 143h1M106 144h1M118 144h1M124 144h1M143 144h1M145 144h1M75 145h1M116 145h1M118 145h1M137 145h1M69 146h1M101 146h1M104 146h1M115 146h1M141 146h1M69 147h1M128 147h1M101 148h1M125 148h1M126 148h1M133 149h1M73 150h1M81 150h1M111 150h1M120 150h1M132 150h1M151 150h1M154 150h1M89 151h1M112 151h1M114 151h1M117 151h1M118 151h1M149 151h1M68 152h1M70 152h1M89 152h1M119 152h1M113 153h1M117 153h1M124 153h1M119 155h1M132 155h1M134 155h1M149 156h1M91 157h1M95 157h1M101 157h1M118 157h1M123 157h1M128 157h1M58 158h1M91 158h1M114 158h1M120 158h1M134 158h1M113 159h1M116 159h1M36 160h1M71 160h1M72 160h1M106 160h1M112 160h1M119 160h1M134 160h1M95 161h1M106 161h1M139 161h1M141 161h1M63 162h1M121 162h1M128 162h1M131 162h1M86 163h1M110 163h1M122 163h1M125 163h1M138 163h1M119 164h1M129 164h1M98 167h1M120 167h1M152 167h1M120 168h1M136 168h1M144 168h1M90 169h1M106 169h1M115 169h1M128 169h1M41 170h1M63 170h1M130 170h1M82 171h1M108 172h1M113 172h1M116 172h1M144 172h1M38 174h1M100 174h1M120 174h1M128 174h1M130 174h1M149 174h1M53 175h1M67 175h1M74 175h1M101 175h1M112 175h1M66 176h1M130 176h1M77 178h1M71 179h1M125 179h1M147 179h1M68 180h1M93 180h1M64 181h1M92 181h1M102 181h1M120 181h1M55 182h1M99 182h1M113 182h1M133 182h1M81 183h1M88 183h1M96 183h1M120 183h1M150 183h1M89 184h1M109 184h1M120 184h1M135 185h1M137 186h1M49 187h1M82 187h1M87 187h1M108 187h1M125 188h1M98 189h1M138 189h1M149 189h1M152 189h1" stroke="#ccccff" stroke-width="1" fill="none"/>
<path d="M61 28h1M94 29h1M121 29h1M29 30h1M32 30h1M39 30h1M47 30h1M51 30h1M67 30h1M94 30h1M55 31h1M138 31h1M27 32h1M51 32h1M93 32h1M15 33h1M77 33h1M90 33h1M95 33h1M98 33h1M111 33h1M125 33h1M45 34h1M59 34h1M104 34h1M113 34h1M114 34h1M44 35h1M48 35h1M100 35h1M130 35h1M146 35h1M9 36h1M42 36h1M53 36h1M75 36h1M76 36h1M84 36h1M107 36h1M108 36h1M114 36h1M118 36h1M120 36h1M122 36h1M132 36h1M19 37h1M35 37h1M42 37h1M46 37h1M81 37h1M95 37h1M96 37h1M112 37h1M120 37h1M128 37h1M22 38h1M50 38h1M58 38h1M65 38h1M76 38h1M95 38h1M103 38h1M104 38h1M114 38h1M140 38h1M145 38h1M48 39h1M54 39h1M74 39h1M78 39h1M94 39h1M110 39h1M120 39h1M131 39h1M134 39h1M147 39h1M19 40h1M31 40h1M50 40h1M52 40h1M58 40h1M66 40h1M69 40h1M100 40h1M113 40h1M145 40h1M27 41h1M52 41h1M53 41h1M77 41h1M90 41h1M104 41h1M108 41h1M124 41h1M144 41h1M8 42h1M31 42h1M50 42h1M54 42h1M62 42h1M76 42h1M81 42h1M98 42h1M99 42h1M106 42h1M110 42h1M112 42h1M122 42h1M138 42h1M143 42h1M34 43h1M38 43h1M62 43h1M66 43h1M94 43h1M95 43h1M98 43h1M115 43h1M119 43h1M10 44h1M30 44h1M46 44h1M65 44h1M85 44h1M92 44h1M97 44h1M102 44h1M119 44h1M121 44h1M128 44h1M130 44h1M11 45h1M28 45h1M60 45h1M61 45h1M68 45h1M80 45h1M86 45h1M101 45h1M102 45h1M148 45h1M31 46h1M42 46h1M48 46h1M70 46h1M81 46h1M84 46h1M85 46h1M94 46h1M97 46h1M100 46h1M101 46h1M106 46h1M116 46h1M124 46h1M135 46h1M145 46h1M20 47h1M23 47h1M51 47h1M56 47h1M63 47h1M66 47h1M69 47h1M84 47h1M94 47h1M106 47h1M140 47h1M153 47h1M11 48h1M63 48h1M70 48h1M72 48h1M78 48h1M88 48h1M89 48h1M91 48h1M100 48h1M117 48h1M123 48h1M127 48h1M146 48h1M150 48h1M54 49h1M110 49h1M125 49h1M137 49h1M38 50h1M46 50h1M59 50h1M62 50h1M76 50h1M78 50h1M102 50h1M117 50h1M131 50h1M138 50h1M143 50h1M160 50h1M18 51h1M22 51h1M24 51h1M34 51h1M35 51h1M43 51h1M48 51h1M49 51h1M95 51h1M103 51h1M106 51h1M113 51h1M139 51h1M145 51h1M41 52h1M71 52h1M80 52h1M86 52h1M100 52h1M109 52h1M114 52h1M125 52h1M141 52h1M151 52h1M5 53h1M20 53h1M28 53h1M58 53h1M65 53h1M74 53h1M116 53h1M3 54h1M40 54h1M43 54h1M64 54h1M67 54h1M93 54h1M96 54h1M102 54h1M117 54h1M129 54h1M138 54h1M149 54h1M12 55h1M60 55h1M82 55h1M84 55h1M89 55h1M103 55h1M105 55h1M135 55h1M144 55h1M51 56h1M72 56h1M82 56h1M91 56h1M95 56h1M99 56h1M100 56h1M117 56h1M123 56h1M127 56h1M145 56h1M148 56h1M22 57h1M46 57h1M51 57h1M91 57h1M111 57h1M112 57h1M116 57h1M139 57h1M142 57h1M143 57h1M146 57h1M35 58h1M40 58h1M41 58h1M58 58h1M102 58h1M105 58h1M110 58h1M124 58h1M137 58h1M145 58h1M8 59h1M24 59h1M52 59h1M65 59h1M68 59h1M79 59h1M86 59h1M95 59h1M96 59h1M100 59h1M112 59h1M127 59h1M133 59h1M141 59h1M142 59h1M144 59h1M151 59h1M72 60h1M91 60h1M104 60h1M110 60h1M121 60h1M139 60h1M147 60h1M83 61h1M89 61h1M95 61h1M138 61h1M140 61h1M147 61h1M16 62h1M17 62h1M35 62h1M47 62h1M65 62h1M73 62h1M107 62h1M134 62h1M137 62h1M143 62h1M48 63h1M64 63h1M65 63h1M70 63h1M73 63h1M81 63h1M85 63h1M94 63h1M97 63h1M105 63h1M130 63h1M138 63h1M142 63h1M144 63h1M105 64h1M111 64h1M112 64h1M122 64h1M127 64h1M96 65h1M98 65h1M106 65h1M107 65h1M110 65h1M114 65h1M139 65h1M44 66h1M96 66h1M107 66h1M47 67h1M56 67h1M57 67h1M59 67h1M66 67h1M72 67h1M84 67h1M111 67h1M138 67h1M48 68h1M69 68h1M111 68h1M114 68h1M131 68h1M62 69h1M77 69h1M108 69h1M114 69h1M121 69h1M135 69h1M137 69h1M78 70h1M95 70h1M108 70h1M115 70h1M116 70h1M119 70h1M145 70h1M24 71h1M54 71h1M82 71h1M98 71h1M102 71h1M128 71h1M97 72h1M103 72h1M127 72h1M136 72h1M74 73h1M88 73h1M107 73h1M113 73h1M150 73h1M44 74h1M98 74h1M100 74h1M130 74h1M140 74h1M76 75h1M81 75h1M98 75h1M100 75h1M107 75h1M117 75h1M140 75h1M105 76h1M119 76h1M129 76h1M110 77h1M127 77h1M120 78h1M130 78h1M138 78h1M51 79h1M89 80h1M98 80h1M116 80h1M119 80h1M132 80h1M139 80h1M102 81h1M103 81h1M108 81h1M132 81h1M57 82h1M84 82h1M92 82h1M99 82h1M129 82h1M146 82h1M29 83h1M77 83h1M95 83h1M102 83h1M121 83h1M127 83h1M128 83h1M141 83h1M146 83h1M93 84h1M106 84h1M118 84h1M119 84h1M94 85h1M111 85h1M108 86h1M119 86h1M132 86h1M80 87h1M111 87h1M117 87h1M123 88h1M124 88h1M129 88h1M142 88h1M146 88h1M110 89h1M118 89h1M133 89h1M97 90h1M102 90h1M110 90h1M135 90h1M152 90h1M52 91h1M60 91h1M84 91h1M91 91h1M108 91h1M59 92h1M97 92h1M124 92h1M97 93h1M120 93h1M122 93h1M126 93h1M122 94h1M32 95h1M112 96h1M131 96h1M140 97h1M132 100h1M139 100h1M111 101h1M135 101h1M137 101h1M101 102h1M145 102h1M94 103h1M146 103h1M124 104h1M125 104h1M127 104h1M131 106h1M132 106h1M151 107h1M135 108h1M105 109h1M117 109h1M148 109h1M122 110h1M133 110h1M110 112h1M111 112h1M128 112h1M111 113h1M114 113h1M131 113h1M123 114h1M133 114h1M150 115h1M105 116h1M110 116h1M125 116h1M111 117h1M123 117h1M141 118h1M69 119h1M116 119h1M128 119h1M97 120h1M103 120h1M130 120h1M146 120h1M114 121h1M148 121h1M104 123h1M102 124h1M93 126h1M101 126h1M113 126h1M116 126h1M118 126h1M148 126h1M82 127h1M105 128h1M114 128h1M98 130h1M112 130h1M116 131h1M132 131h1M139 131h1M94 132h1M61 134h1M126 134h1M103 135h1M143 135h1M119 136h1M80 137h1M134 137h1M138 137h1M57 138h1M133 138h1M68 139h1M133 139h1M139 139h1M58 141h1M89 141h1M118 141h1M139 142h1M40 143h1M114 143h1M129 143h1M154 143h1M156 144h1M55 145h1M74 145h1M144 145h1M128 146h1M51 147h1M90 147h1M96 147h1M113 147h1M105 148h1M117 148h1M85 149h1M87 149h1M127 149h1M154 149h1M101 150h1M114 150h1M116 150h1M126 150h1M72 151h1M126 151h1M138 152h1M90 153h1M92 153h1M98 153h1M100 153h1M140 153h1M70 154h1M135 154h1M79 155h1M101 155h1M118 155h1M129 155h1M136 155h1M56 156h1M59 156h1M141 156h1M68 157h1M87 158h1M101 158h1M102 158h1M133 159h1M140 159h1M111 160h1M113 160h1M65 161h1M114 161h1M112 162h1M92 163h1M120 165h1M97 166h1M115 166h1M70 167h1M140 167h1M108 168h1M93 169h1M104 169h1M131 169h1M105 170h1M128 170h1M140 170h1M100 171h1M119 172h1M103 173h1M148 173h1M54 175h1M89 175h1M114 175h1M124 175h1M131 175h1M95 176h1M113 176h1M123 176h1M129 176h1M137 176h1M73 178h1M104 178h1M120 178h1M122 178h1M139 178h1M143 178h1M55 179h1M91 179h1M121 179h1M70 180h1M66 181h1M147 181h1M61 182h1M45 183h1M127 183h1M77 184h1M94 184h1M128 184h1M76 185h1M104 185h1M108 185h1M140 185h1M96 187h1M111 187h1M106 189h1" stroke="#9090ff" stroke-width="1" fill="none"/>
<path d="M68 28h1M108 31h1M96 32h1M73 33h1M123 33h1M22 34h1M35 34h1M69 34h1M53 35h1M110 35h1M58 36h1M93 36h1M82 37h1M100 37h1M103 37h1M125 37h1M132 37h1M80 38h1M97 38h1M105 38h1M119 38h1M20 39h1M76 39h1M93 39h1M105 39h1M109 39h1M127 39h1M36 40h1M49 40h1M51 40h1M84 40h1M91 40h1M117 40h1M119 40h1M139 40h1M47 41h1M78 41h1M79 41h1M80 41h1M105 41h1M107 41h1M126 41h1M128 41h1M49 42h1M68 42h1M79 42h1M80 42h1M85 42h1M103 42h1M116 42h1M118 42h1M120 42h1M52 43h1M55 43h1M70 43h1M105 43h1M109 43h1M112 43h1M43 44h1M72 44h1M86 44h1M99 44h1M106 44h1M115 44h1M120 44h1M37 45h1M63 45h1M75 45h1M115 45h1M123 45h1M136 45h1M138 45h1M144 45h1M58 46h1M77 46h1M114 46h1M43 47h1M45 47h1M65 47h1M115 47h1M116 47h1M118 47h1M120 47h1M131 47h1M21 48h1M31 48h1M46 48h1M47 48h1M52 48h1M86 48h1M92 48h1M99 48h1M110 48h1M111 48h1M116 48h1M120 48h1M53 49h1M72 49h1M87 49h1M98 49h1M104 49h1M105 49h1M115 49h1M124 49h1M127 49h1M129 49h1M51 50h1M55 50h1M92 50h1M110 50h1M118 50h1M120 50h1M128 50h1M145 50h1M54 51h1M63 51h1M74 51h1M79 51h1M100 51h1M105 51h1M109 51h1M120 51h1M121 51h1M122 51h1M133 51h1M45 52h1M76 52h1M81 52h1M82 52h1M88 52h1M101 52h1M103 52h1M105 52h1M113 52h1M119 52h1M120 52h1M131 52h1M137 52h1M64 53h1M85 53h1M94 53h1M98 53h1M103 53h1M134 53h1M139 53h1M17 54h1M38 54h1M75 54h1M90 54h1M103 54h1M113 54h1M115 54h1M116 54h1M120 54h1M121 54h1M124 54h1M127 54h1M139 54h1M144 54h1M63 55h1M71 55h1M80 55h1M81 55h1M86 55h1M107 55h1M110 55h1M127 55h1M114 56h1M131 56h1M132 56h1M141 56h1M37 57h1M88 57h1M100 57h1M102 57h1M106 57h1M119 57h1M125 57h1M132 57h1M36 58h1M80 58h1M100 58h1M126 58h1M129 58h1M130 58h1M136 58h1M97 59h1M113 59h1M116 59h1M118 59h1M76 60h1M103 60h1M109 60h1M132 60h1M81 61h1M96 61h1M100 61h1M108 61h1M109 61h1M125 61h1M142 61h1M144 61h1M84 62h1M109 62h1M111 62h1M89 63h1M111 63h1M112 63h1M119 63h1M125 63h1M140 63h1M126 64h1M131 64h1M104 65h1M112 65h1M120 65h1M137 65h1M76 66h1M113 66h1M118 66h1M120 66h1M121 66h1M123 66h1M143 66h1M75 67h1M82 67h1M103 67h1M121 67h1M98 68h1M103 68h1M108 68h1M120 68h1M124 68h1M58 69h1M91 69h1M92 69h1M98 69h1M99 69h1M119 69h1M138 69h1M125 70h1M126 70h1M137 70h1M70 71h1M110 71h1M111 71h1M113 71h1M126 71h1M144 71h1M88 72h1M106 72h1M121 72h1M123 73h1M136 73h1M101 74h1M108 74h1M116 74h1M131 74h1M132 74h1M131 75h1M110 76h1M136 76h1M108 77h1M132 77h1M86 78h1M101 78h1M110 79h1M123 79h1M128 79h1M82 80h1M120 80h1M124 80h1M130 80h1M122 82h1M123 82h1M126 82h1M135 82h1M140 82h1M97 84h1M129 84h1M131 85h1M134 87h1M112 90h1M110 94h1M123 96h1M129 97h1M114 102h1M111 104h1M141 108h1M120 109h1M121 114h1M144 116h1M131 118h1M125 128h1M130 131h1M78 136h1M131 137h1M116 155h1M95 158h1M113 161h1M136 161h1M110 167h1M127 167h1M137 181h1" stroke="#0000f0" stroke-width="1" fill="none"/>
<path d="M73 28h1M131 28h1M144 29h1M42 31h1M59 31h1M60 31h1M65 31h1M85 31h1M128 31h1M148 31h1M9 32h1M31 32h1M49 32h1M57 32h1M69 32h1M79 32h1M102 32h1M136 32h1M138 32h1M106 33h1M110 33h1M113 33h1M118 33h1M42 34h1M67 34h1M71 34h1M79 34h1M92 34h1M109 34h1M28 35h1M57 35h1M67 35h1M76 35h1M78 35h1M81 35h1M101 35h1M107 35h1M119 35h1M125 35h1M134 35h1M156 35h1M17 36h1M19 36h1M21 36h1M35 36h1M41 36h1M50 36h1M51 36h1M69 36h1M87 36h1M101 36h1M136 36h1M149 36h1M22 37h1M39 37h1M45 37h1M48 37h1M57 37h1M69 37h1M70 37h1M72 37h1M73 37h1M78 37h1M86 37h1M89 37h1M91 37h1M106 37h1M108 37h1M110 37h1M115 37h1M137 37h1M31 38h1M72 38h1M78 38h1M84 38h1M85 38h1M88 38h1M90 38h1M109 38h1M116 38h1M124 38h1M142 38h1M7 39h1M22 39h1M36 39h1M51 39h1M59 39h1M73 39h1M77 39h1M87 39h1M97 39h1M98 39h1M102 39h1M103 39h1M113 39h1M124 39h1M126 39h1M135 39h1M5 40h1M12 40h1M35 40h1M54 40h1M64 40h1M65 40h1M67 40h1M80 40h1M81 40h1M83 40h1M85 40h1M88 40h1M95 40h1M97 40h1M102 40h1M124 40h1M125 40h1M136 40h1M40 41h1M55 41h1M65 41h1M71 41h1M73 41h1M75 41h1M85 41h1M88 41h1M94 41h1M120 41h1M127 41h1M137 41h1M44 42h1M47 42h1M53 42h1M56 42h1M67 42h1M75 42h1M83 42h1M102 42h1M130 42h1M131 42h1M8 43h1M35 43h1M40 43h1M42 43h1M50 43h1M51 43h1M77 43h1M96 43h1M108 43h1M111 43h1M114 43h1M116 43h1M124 43h1M125 43h1M143 43h1M24 44h1M28 44h1M31 44h1M39 44h1M41 44h1M52 44h1M74 44h1M76 44h1M87 44h1M91 44h1M101 44h1M105 44h1M109 44h1M114 44h1M123 44h1M126 44h1M145 44h1M146 44h1M8 45h1M9 45h1M31 45h1M33 45h1M48 45h1M50 45h1M52 45h1M54 45h1M67 45h1M77 45h1M97 45h1M112 45h1M119 45h1M122 45h1M34 46h1M37 46h1M53 46h1M89 46h1M110 46h1M112 46h1M128 46h1M132 46h1M150 46h1M30 47h1M35 47h1M41 47h1M46 47h1M74 47h1M78 47h1M93 47h1M95 47h1M98 47h1M100 47h1M114 47h1M117 47h1M124 47h1M10 48h1M13 48h1M39 48h1M44 48h1M65 48h1M80 48h1M83 48h1M87 48h1M90 48h1M101 48h1M133 48h1M33 49h1M48 49h1M49 49h1M57 49h1M62 49h1M70 49h1M74 49h1M81 49h1M91 49h1M92 49h1M97 49h1M102 49h1M114 49h1M131 49h1M141 49h1M17 50h1M53 50h1M68 50h1M79 50h1M80 50h1M86 50h1M87 50h1M91 50h1M122 50h1M129 50h1M134 50h1M135 50h1M142 50h1M30 51h1M37 51h1M57 51h1M58 51h1M76 51h1M77 51h1M85 51h1M102 51h1M108 51h1M114 51h1M117 51h1M119 51h1M124 51h1M125 51h1M137 51h1M140 51h1M146 51h1M34 52h1M91 52h1M116 52h1M132 52h1M133 52h1M138 52h1M140 52h1M150 52h1M9 53h1M19 53h1M35 53h1M41 53h1M60 53h1M66 53h1M82 53h1M91 53h1M101 53h1M105 53h1M119 53h1M50 54h1M80 54h1M92 54h1M107 54h1M126 54h1M33 55h1M51 55h1M70 55h1M77 55h1M94 55h1M97 55h1M98 55h1M101 55h1M106 55h1M116 55h1M136 55h1M146 55h1M41 56h1M48 56h1M56 56h1M61 56h1M63 56h1M68 56h1M77 56h1M86 56h1M96 56h1M98 56h1M103 56h1M125 56h1M128 56h1M53 57h1M74 57h1M78 57h1M93 57h1M101 57h1M113 57h1M118 57h1M130 57h1M151 57h1M45 58h1M53 58h1M95 58h1M97 58h1M108 58h1M115 58h1M118 58h1M123 58h1M125 58h1M148 58h1M20 59h1M41 59h1M44 59h1M56 59h1M57 59h1M62 59h1M73 59h1M88 59h1M105 59h1M106 59h1M122 59h1M34 60h1M36 60h1M46 60h1M52 60h1M53 60h1M55 60h1M67 60h1M70 60h1M101 60h1M112 60h1M114 60h1M117 60h1M135 60h1M138 60h1M151 60h1M35 61h1M53 61h1M67 61h1M71 61h1M88 61h1M94 61h1M134 61h1M143 61h1M31 62h1M37 62h1M46 62h1M71 62h1M88 62h1M91 62h1M93 62h1M103 62h1M105 62h1M106 62h1M114 62h1M125 62h1M135 62h1M147 62h1M47 63h1M58 63h1M82 63h1M102 63h1M106 63h1M107 63h1M108 63h1M109 63h1M116 63h1M128 63h1M131 63h1M135 63h1M141 63h1M143 63h1M55 64h1M83 64h1M85 64h1M106 64h1M121 64h1M125 64h1M128 64h1M130 64h1M141 64h1M52 65h1M71 65h1M78 65h1M81 65h1M103 65h1M113 65h1M115 65h1M116 65h1M117 65h1M118 65h1M127 65h1M133 65h1M27 66h1M53 66h1M83 66h1M90 66h1M98 66h1M112 66h1M115 66h1M126 66h1M129 66h1M135 66h1M139 66h1M24 67h1M29 67h1M51 67h1M52 67h1M55 67h1M63 67h1M99 67h1M105 67h1M44 68h1M95 68h1M99 68h1M109 68h1M127 68h1M142 68h1M41 69h1M42 69h1M68 69h1M83 69h1M109 69h1M111 69h1M113 69h1M123 69h1M125 69h1M127 69h1M141 69h1M146 69h1M32 70h1M45 70h1M48 70h1M60 70h1M89 70h1M109 70h1M113 70h1M128 70h1M133 70h1M142 70h1M143 70h1M11 71h1M62 71h1M99 71h1M108 71h1M145 71h1M92 72h1M95 72h1M101 72h1M113 72h1M115 72h1M118 72h1M147 72h1M59 73h1M96 73h1M102 73h1M103 73h1M106 73h1M108 73h1M111 73h1M125 73h1M126 73h1M129 73h1M130 73h1M135 73h1M138 73h1M143 73h1M144 73h1M149 73h1M16 74h1M41 74h1M63 74h1M69 74h1M76 74h1M77 74h1M93 74h1M119 74h1M120 74h1M121 74h1M123 74h1M73 75h1M75 75h1M87 75h1M88 75h1M90 75h1M119 75h1M124 75h1M130 75h1M137 75h1M56 76h1M77 76h1M90 76h1M99 76h1M121 76h1M125 76h1M127 76h1M138 76h1M140 76h1M141 76h1M152 76h1M54 77h1M75 77h1M92 77h1M115 77h1M117 77h1M41 78h1M99 78h1M102 78h1M103 78h1M129 78h1M147 78h1M156 78h1M30 79h1M104 79h1M125 79h1M135 79h1M138 79h1M45 80h1M108 80h1M113 80h1M125 80h1M47 81h1M77 81h1M139 81h1M89 82h1M101 82h1M113 82h1M115 82h1M118 82h1M136 82h1M144 82h1M93 83h1M94 83h1M88 84h1M92 84h1M112 84h1M124 84h1M135 84h1M81 85h1M98 85h1M106 85h1M107 85h1M113 85h1M122 85h1M124 85h1M67 86h1M69 86h1M105 86h1M64 87h1M103 87h1M107 87h1M110 87h1M115 87h1M126 88h1M134 88h1M135 88h1M97 89h1M130 89h1M142 89h1M105 90h1M122 90h1M124 90h1M127 90h1M129 90h1M140 91h1M148 91h1M111 92h1M113 92h1M116 92h1M139 92h1M154 92h1M110 93h1M111 94h1M127 94h1M145 94h1M42 95h1M110 95h1M132 95h1M133 95h1M141 95h1M144 95h1M153 95h1M126 96h1M134 96h1M137 96h1M116 97h1M117 97h1M116 98h1M94 99h1M110 99h1M115 99h1M106 100h1M108 100h1M110 100h1M104 101h1M109 101h1M112 102h1M120 102h1M108 103h1M117 103h1M36 104h1M143 104h1M150 105h1M151 105h1M97 107h1M116 107h1M124 107h1M133 107h1M118 108h1M143 108h1M93 109h1M107 109h1M81 110h1M47 111h1M117 111h1M125 111h1M34 112h1M116 112h1M118 112h1M143 112h1M108 115h1M111 115h1M116 115h1M127 115h1M136 115h1M111 116h1M115 116h1M104 117h1M119 117h1M116 118h1M135 118h1M62 120h1M115 120h1M112 121h1M117 121h1M108 123h1M133 124h1M110 126h1M124 126h1M125 126h1M113 127h1M121 127h1M130 127h1M143 127h1M102 128h1M106 128h1M81 133h1M111 133h1M116 133h1M127 133h1M104 134h1M117 134h1M132 134h1M95 135h1M105 135h1M136 135h1M121 136h1M91 137h1M116 137h1M118 137h1M107 138h1M119 138h1M85 139h1M107 139h1M56 140h1M70 140h1M130 140h1M142 140h1M53 141h1M69 141h1M79 141h1M90 141h1M82 142h1M126 142h1M133 142h1M102 143h1M104 143h1M120 143h1M73 144h1M112 146h1M118 146h1M130 146h1M144 146h1M116 147h1M148 147h1M93 148h1M83 149h1M112 149h1M64 150h1M83 150h1M86 150h1M92 150h1M99 150h1M103 150h1M127 150h1M47 151h1M79 151h1M115 152h1M142 152h1M32 153h1M44 153h1M99 153h1M111 153h1M115 153h1M123 153h1M129 154h1M133 154h1M95 155h1M103 155h1M143 155h1M106 156h1M123 156h1M69 157h1M96 157h1M115 157h1M108 158h1M118 158h1M134 159h1M85 160h1M96 161h1M102 161h1M107 161h1M130 161h1M135 162h1M140 162h1M141 162h1M94 163h1M100 163h1M114 163h1M119 163h1M130 163h1M25 164h1M31 164h1M122 164h1M127 164h1M132 164h1M138 164h1M89 165h1M91 166h1M104 166h1M110 166h1M78 167h1M94 167h1M103 167h1M115 167h1M129 167h1M42 168h1M86 168h1M38 169h1M114 169h1M114 170h1M137 170h1M86 171h1M133 171h1M104 172h1M145 172h1M104 173h1M107 173h1M78 174h1M114 174h1M26 175h1M59 175h1M122 175h1M68 176h1M80 176h1M120 176h1M122 176h1M56 177h1M83 177h1M90 177h1M99 178h1M108 178h1M142 178h1M83 180h1M113 180h1M69 181h1M77 181h1M115 181h1M145 181h1M124 182h1M36 183h1M76 183h1M112 183h1M113 183h1M138 183h1M143 183h1M113 184h1M23 185h1M130 186h1M151 186h1M101 187h1M110 187h1M98 188h1M76 189h1" stroke="#1010ff" stroke-width="1" fill="none"/>
<path d="M70 30h1M110 30h1M43 33h1M124 34h1M112 35h1M120 35h1M122 35h1M39 36h1M98 36h1M123 36h1M25 37h1M43 37h1M75 37h1M98 37h1M42 38h1M69 38h1M107 38h1M115 38h1M126 38h1M52 39h1M55 39h1M61 39h1M85 39h1M86 39h1M104 39h1M108 39h1M111 39h1M122 39h1M42 40h1M101 40h1M103 40h1M111 40h1M115 40h1M35 41h1M70 41h1M98 41h1M110 41h1M112 41h1M119 41h1M27 42h1M52 42h1M64 42h1M119 42h1M126 42h1M32 43h1M46 43h1M80 43h1M84 43h1M89 43h1M102 43h1M103 43h1M121 43h1M128 43h1M136 43h1M96 44h1M100 44h1M104 44h1M107 44h1M70 45h1M83 45h1M88 45h1M109 45h1M111 45h1M116 45h1M120 45h1M137 45h1M60 46h1M80 46h1M90 46h1M105 46h1M109 46h1M115 46h1M122 46h1M131 46h1M32 47h1M62 47h1M76 47h1M86 47h1M90 47h1M105 47h1M108 47h1M113 47h1M121 47h1M126 47h1M132 47h1M138 47h1M57 48h1M75 48h1M85 48h1M104 48h1M105 48h1M106 48h1M119 48h1M129 48h1M100 49h1M109 49h1M111 49h1M112 49h1M116 49h1M118 49h1M126 49h1M128 49h1M33 50h1M74 50h1M82 50h1M84 50h1M95 50h1M106 50h1M115 50h1M133 50h1M139 50h1M150 50h1M44 51h1M50 51h1M89 51h1M96 51h1M115 51h1M123 51h1M127 51h1M108 52h1M111 52h1M95 53h1M97 53h1M109 53h1M122 53h1M125 53h1M127 53h1M129 53h1M86 54h1M118 54h1M123 54h1M108 55h1M112 55h1M113 55h1M114 55h1M117 55h1M121 55h1M124 55h1M126 55h1M116 56h1M121 56h1M122 56h1M129 56h1M130 56h1M90 57h1M121 57h1M131 57h1M89 58h1M91 58h1M96 58h1M104 58h1M146 58h1M108 59h1M111 59h1M119 59h1M120 59h1M124 59h1M139 59h1M94 60h1M95 60h1M105 60h1M123 60h1M129 60h1M55 61h1M92 61h1M98 61h1M105 61h1M106 61h1M126 61h1M146 61h1M97 62h1M108 62h1M110 62h1M113 62h1M120 62h1M113 63h1M114 63h1M117 63h1M121 63h1M122 63h1M129 63h1M134 63h1M137 63h1M118 64h1M119 64h1M137 64h1M149 64h1M108 65h1M135 65h1M102 66h1M106 66h1M108 66h1M122 66h1M128 66h1M130 66h1M132 66h1M136 66h1M58 67h1M109 67h1M112 67h1M114 67h1M120 67h1M124 67h1M133 67h1M140 67h1M88 68h1M116 68h1M123 68h1M139 68h1M106 69h1M107 69h1M110 69h1M120 69h1M134 69h1M102 70h1M104 70h1M121 70h1M123 70h1M124 70h1M131 70h1M90 71h1M125 71h1M76 72h1M79 72h1M112 72h1M126 72h1M131 72h1M116 73h1M109 74h1M109 75h1M111 75h1M129 75h1M139 75h1M72 76h1M103 76h1M116 76h1M99 77h1M107 77h1M118 77h1M119 77h1M120 77h1M129 77h1M61 78h1M124 78h1M117 79h1M110 80h1M124 81h1M105 82h1M117 82h1M101 83h1M119 83h1M121 84h1M123 84h1M140 85h1M99 86h1M118 87h1M106 90h1M143 90h1M112 91h1M113 93h1M114 95h1M115 95h1M112 98h1M113 98h1M114 98h1M128 98h1M107 102h1M127 108h1M132 116h1M98 134h1M138 139h1M115 141h1M84 145h1M95 152h1M88 155h1M58 162h1M96 166h1M114 167h1M118 171h1M73 172h1M71 175h1M69 178h1" stroke="#40e818" stroke-width="1" fill="none"/>
<path d="M90 36h1M106 36h1M125 38h1M125 39h1M117 41h1M122 41h1M108 42h1M71 43h1M121 46h1M52 47h1M58 47h1M94 48h1M109 48h1M109 50h1M132 51h1M112 53h1M123 53h1M79 54h1M111 54h1M114 54h1M53 56h1M111 56h1M118 56h1M114 57h1M107 58h1M114 58h1M114 64h1M123 67h1M121 68h1M143 69h1M105 71h1M118 71h1M116 72h1M95 75h1M122 76h1M119 150h1" stroke="#e8d020" stroke-width="1" fill="none"/>
<path d="M113 37h1M91 41h1M106 43h1M125 46h1M97 47h1M99 47h1M103 47h1M112 48h1M124 48h1M107 49h1M116 51h1M118 51h1M106 52h1M123 52h1M104 53h1M117 53h1M104 54h1M109 54h1M138 55h1M108 56h1M110 56h1M112 56h1M115 57h1M122 57h1M116 58h1M110 59h1M125 59h1M82 60h1M113 61h1M137 67h1M116 71h1M110 74h1M111 78h1" stroke="#ff2000" stroke-width="1" fill="none"/>
<path d="M117 38h1M114 40h1M87 43h1M63 44h1M77 44h1M87 45h1M127 45h1M130 45h1M134 45h1M59 46h1M89 47h1M123 47h1M51 48h1M134 48h1M126 51h1M93 52h1M107 53h1M120 53h1M128 55h1M87 57h1M120 57h1M123 59h1M131 59h1M118 60h1M116 62h1M136 64h1M118 67h1" stroke="#ff8a10" stroke-width="1" fill="none"/>
<path d="M107 40h1M118 40h1M89 41h1M111 41h1M114 42h1M121 42h1M123 42h1M125 42h1M107 43h1M126 43h1M133 43h1M84 44h1M113 44h1M53 45h1M90 45h1M106 45h1M108 45h1M121 45h1M126 45h1M72 46h1M53 47h1M72 47h1M111 47h1M122 47h1M127 47h1M69 48h1M103 48h1M126 48h1M130 48h1M134 49h1M111 50h1M116 50h1M119 50h1M71 51h1M82 51h1M107 51h1M110 51h1M111 51h1M128 51h1M129 51h1M63 52h1M94 52h1M95 52h1M107 52h1M115 52h1M135 52h1M115 53h1M131 53h1M98 54h1M90 55h1M109 55h1M118 55h1M119 55h1M129 55h1M43 56h1M115 56h1M81 57h1M110 57h1M124 57h1M126 57h1M103 58h1M106 58h1M113 58h1M91 59h1M108 60h1M115 60h1M119 60h1M127 60h1M123 64h1M129 64h1M119 65h1M125 65h1M105 66h1M125 66h1M94 67h1M117 67h1M112 68h1M122 68h1M106 70h1M114 70h1M106 71h1M122 71h1M107 72h1M102 74h1M112 76h1M135 78h1M121 86h1M116 88h1M129 98h1" stroke="#48f000" stroke-width="1" fill="none"/>
<path d="M100 41h1M116 44h1M114 45h1M59 48h1M93 49h1M121 49h1M126 50h1M91 51h1M121 52h1M77 53h1M106 53h1M119 54h1M128 57h1M119 66h1" stroke="#ff7a10" stroke-width="1" fill="none"/>
</g>
<rect x="632.7" y="85.5" width="254.5" height="255.0" fill="none" stroke="#9a9a9a" stroke-width="1.3"/>
<line x1="632.2" y1="340.5" x2="887.7" y2="340.5" stroke="#222" stroke-width="1.4"/>
<line x1="632.7" y1="85.5" x2="632.7" y2="340.5" stroke="#777" stroke-width="1.4"/>
<line x1="764.4000000000001" y1="86.5" x2="764.4000000000001" y2="340.5" stroke="#000" stroke-width="4"/>
<line x1="632.7" y1="207.8" x2="887.2" y2="207.8" stroke="#000" stroke-width="3.6"/>
<path d="M633.0 340.5v7.5M651.5 340.5v4M662.4 340.5v4M670.1 340.5v4M676.1 340.5v4M681.0 340.5v4M685.1 340.5v4M688.7 340.5v4M691.9 340.5v4M694.7 340.5v7.5M713.1 340.5v4M723.9 340.5v4M731.5 340.5v4M737.5 340.5v4M742.3 340.5v4M746.4 340.5v4M750.0 340.5v4M753.1 340.5v4M755.9 340.5v7.5M774.9 340.5v4M786.0 340.5v4M793.8 340.5v4M799.9 340.5v4M804.9 340.5v4M809.1 340.5v4M812.8 340.5v4M816.0 340.5v4M818.9 340.5v7.5M837.7 340.5v4M848.6 340.5v4M856.4 340.5v4M862.4 340.5v4M867.4 340.5v4M871.5 340.5v4M875.2 340.5v4M878.3 340.5v4M881.2 340.5v7.5" stroke="#111" stroke-width="1.3" fill="none"/>
<path d="M632.7 308.7h-8M632.7 289.9h-4M632.7 278.9h-4M632.7 271.1h-4M632.7 265.1h-4M632.7 260.1h-4M632.7 256.0h-4M632.7 252.3h-4M632.7 249.2h-4M632.7 246.0h-8M632.7 227.2h-4M632.7 216.2h-4M632.7 208.4h-4M632.7 202.4h-4M632.7 197.4h-4M632.7 193.3h-4M632.7 189.6h-4M632.7 186.5h-4M632.7 184.2h-8M632.7 165.4h-4M632.7 154.4h-4M632.7 146.6h-4M632.7 140.6h-4M632.7 135.6h-4M632.7 131.5h-4M632.7 127.8h-4M632.7 124.7h-4M632.7 121.5h-8M632.7 102.7h-4M632.7 91.7h-4M632.7 333.5h-4M632.7 327.5h-4M632.7 322.5h-4M632.7 318.4h-4M632.7 314.7h-4M632.7 311.6h-4" stroke="#111" stroke-width="1.3" fill="none"/>
<g font-size="18.2" font-weight="bold" class="tl" stroke="#000" stroke-width="0.35" filter="url(#bt)">
<text x="635.3" y="385.8">10</text><text x="655.9" y="372.0">2</text>
<text x="684.1" y="385.8">10</text><text x="704.7" y="372.0">3</text>
<text x="747.1" y="385.8">10</text><text x="767.7" y="372.0">4</text>
<text x="809.1" y="385.8">10</text><text x="829.7" y="372.0">5</text>
<text x="856.5" y="385.8">10</text><text x="877.1" y="372.0">6</text>
<text x="591.1" y="321.0">10</text><text x="611.1" y="307.2">3</text>
<text x="591.1" y="258.3">10</text><text x="611.1" y="244.5">4</text>
<text x="591.1" y="196.5">10</text><text x="611.1" y="182.7">5</text>
<text x="591.1" y="133.8">10</text><text x="611.1" y="120.0">6</text>
</g>
<text x="646.9" y="120.8" font-size="31.5">27.5</text>
<g transform="translate(953.3,85.5) scale(1.333)" filter="url(#bl)">
<path d="M73 25h1M80 28h1M98 28h1M37 29h1M48 29h1M50 29h1M11 30h1M76 30h1M95 30h1M100 30h1M105 30h1M115 30h1M123 30h1M133 30h1M26 31h1M27 31h1M51 31h1M63 31h1M76 31h1M92 31h1M99 31h1M107 31h1M110 31h1M113 31h1M116 31h1M124 31h1M25 32h1M108 32h1M111 32h1M120 32h1M123 32h1M15 33h1M19 33h1M23 33h1M43 33h1M69 33h1M72 33h1M73 33h1M90 33h1M93 33h1M95 33h1M97 33h1M98 33h1M99 33h1M100 33h1M118 33h1M123 33h1M130 33h1M12 34h1M21 34h1M47 34h1M49 34h1M50 34h1M54 34h1M70 34h1M80 34h1M84 34h1M88 34h1M98 34h1M99 34h1M108 34h1M120 34h1M140 34h1M27 35h1M31 35h1M33 35h1M40 35h1M47 35h1M51 35h1M59 35h1M70 35h1M84 35h1M89 35h1M96 35h1M133 35h1M135 35h1M7 36h1M21 36h1M23 36h1M25 36h1M35 36h1M37 36h1M38 36h1M40 36h1M42 36h1M49 36h1M65 36h1M66 36h1M67 36h1M70 36h1M71 36h1M76 36h1M96 36h1M97 36h1M106 36h1M122 36h1M141 36h1M29 37h1M37 37h1M43 37h1M47 37h1M57 37h1M59 37h1M81 37h1M83 37h1M93 37h1M96 37h1M105 37h1M107 37h1M108 37h1M122 37h1M137 37h1M39 38h1M47 38h1M49 38h1M63 38h1M93 38h1M98 38h1M100 38h1M101 38h1M111 38h1M127 38h1M136 38h1M6 39h1M14 39h1M25 39h1M40 39h1M41 39h1M51 39h1M59 39h1M67 39h1M75 39h1M81 39h1M82 39h1M83 39h1M85 39h1M98 39h1M104 39h1M110 39h1M113 39h1M119 39h1M124 39h1M127 39h1M129 39h1M142 39h1M22 40h1M34 40h1M36 40h1M38 40h1M39 40h1M42 40h1M46 40h1M48 40h1M57 40h1M58 40h1M63 40h1M70 40h1M73 40h1M74 40h1M76 40h1M78 40h1M83 40h1M85 40h1M95 40h1M100 40h1M109 40h1M118 40h1M120 40h1M124 40h1M134 40h1M15 41h1M30 41h1M39 41h1M41 41h1M57 41h1M70 41h1M73 41h1M77 41h1M78 41h1M87 41h1M109 41h1M113 41h1M123 41h1M135 41h1M22 42h1M23 42h1M25 42h1M49 42h1M54 42h1M58 42h1M68 42h1M74 42h1M77 42h1M80 42h1M82 42h1M91 42h1M92 42h1M96 42h1M108 42h1M132 42h1M16 43h1M21 43h1M41 43h1M54 43h1M59 43h1M72 43h1M86 43h1M97 43h1M114 43h1M116 43h1M123 43h1M143 43h1M10 44h1M12 44h1M28 44h1M31 44h1M32 44h1M41 44h1M44 44h1M58 44h1M63 44h1M67 44h1M69 44h1M74 44h1M81 44h1M104 44h1M111 44h1M115 44h1M118 44h1M119 44h1M124 44h1M129 44h1M10 45h1M11 45h1M26 45h1M27 45h1M43 45h1M44 45h1M67 45h1M80 45h1M81 45h1M84 45h1M85 45h1M86 45h1M87 45h1M102 45h1M106 45h1M116 45h1M121 45h1M126 45h1M128 45h1M145 45h1M19 46h1M22 46h1M23 46h1M31 46h1M37 46h1M38 46h1M41 46h1M50 46h1M54 46h1M58 46h1M71 46h1M72 46h1M73 46h1M86 46h1M90 46h1M91 46h1M98 46h1M107 46h1M109 46h1M113 46h1M119 46h1M135 46h1M152 46h1M16 47h1M17 47h1M20 47h1M26 47h1M33 47h1M34 47h1M61 47h1M64 47h1M73 47h1M89 47h1M101 47h1M123 47h1M133 47h1M135 47h1M139 47h1M13 48h1M29 48h1M31 48h1M35 48h1M43 48h1M49 48h1M66 48h1M67 48h1M71 48h1M87 48h1M95 48h1M99 48h1M104 48h1M110 48h1M115 48h1M120 48h1M124 48h1M9 49h1M38 49h1M41 49h1M48 49h1M59 49h1M61 49h1M64 49h1M71 49h1M81 49h1M86 49h1M94 49h1M95 49h1M99 49h1M103 49h1M111 49h1M112 49h1M117 49h1M120 49h1M128 49h1M139 49h1M144 49h1M145 49h1M147 49h1M149 49h1M12 50h1M20 50h1M24 50h1M39 50h1M50 50h1M59 50h1M63 50h1M103 50h1M104 50h1M110 50h1M130 50h1M135 50h1M137 50h1M18 51h1M22 51h1M23 51h1M40 51h1M52 51h1M57 51h1M58 51h1M60 51h1M62 51h1M63 51h1M89 51h1M95 51h1M98 51h1M101 51h1M115 51h1M128 51h1M129 51h1M13 52h1M30 52h1M33 52h1M35 52h1M40 52h1M50 52h1M55 52h1M56 52h1M69 52h1M70 52h1M71 52h1M72 52h1M77 52h1M78 52h1M79 52h1M97 52h1M99 52h1M103 52h1M104 52h1M118 52h1M122 52h1M123 52h1M127 52h1M145 52h1M17 53h1M48 53h1M61 53h1M63 53h1M79 53h1M85 53h1M120 53h1M121 53h1M123 53h1M139 53h1M143 53h1M148 53h1M20 54h1M27 54h1M31 54h1M35 54h1M42 54h1M62 54h1M63 54h1M65 54h1M67 54h1M79 54h1M96 54h1M106 54h1M119 54h1M130 54h1M134 54h1M147 54h1M37 55h1M39 55h1M47 55h1M58 55h1M60 55h1M63 55h1M69 55h1M74 55h1M109 55h1M130 55h1M140 55h1M146 55h1M149 55h1M23 56h1M37 56h1M41 56h1M49 56h1M54 56h1M59 56h1M69 56h1M72 56h1M94 56h1M96 56h1M104 56h1M107 56h1M108 56h1M121 56h1M125 56h1M127 56h1M129 56h1M130 56h1M138 56h1M20 57h1M28 57h1M40 57h1M49 57h1M59 57h1M67 57h1M78 57h1M95 57h1M105 57h1M111 57h1M118 57h1M126 57h1M127 57h1M135 57h1M142 57h1M150 57h1M13 58h1M24 58h1M25 58h1M27 58h1M36 58h1M39 58h1M59 58h1M73 58h1M76 58h1M97 58h1M100 58h1M103 58h1M113 58h1M114 58h1M119 58h1M135 58h1M140 58h1M149 58h1M49 59h1M64 59h1M66 59h1M67 59h1M74 59h1M97 59h1M104 59h1M106 59h1M110 59h1M119 59h1M121 59h1M126 59h1M130 59h1M149 59h1M17 60h1M43 60h1M47 60h1M49 60h1M52 60h1M62 60h1M80 60h1M85 60h1M90 60h1M91 60h1M93 60h1M99 60h1M102 60h1M109 60h1M118 60h1M124 60h1M129 60h1M145 60h1M53 61h1M62 61h1M79 61h1M91 61h1M99 61h1M102 61h1M110 61h1M122 61h1M123 61h1M127 61h1M136 61h1M137 61h1M138 61h1M140 61h1M42 62h1M48 62h1M58 62h1M67 62h1M98 62h1M102 62h1M104 62h1M110 62h1M123 62h1M136 62h1M139 62h1M14 63h1M41 63h1M50 63h1M69 63h1M75 63h1M77 63h1M83 63h1M93 63h1M95 63h1M108 63h1M114 63h1M119 63h1M126 63h1M138 63h1M141 63h1M7 64h1M26 64h1M36 64h1M64 64h1M66 64h1M80 64h1M82 64h1M85 64h1M87 64h1M101 64h1M104 64h1M113 64h1M117 64h1M119 64h1M125 64h1M126 64h1M130 64h1M131 64h1M139 64h1M12 65h1M27 65h1M62 65h1M77 65h1M81 65h1M82 65h1M87 65h1M89 65h1M94 65h1M95 65h1M100 65h1M118 65h1M127 65h1M130 65h1M142 65h1M46 66h1M54 66h1M58 66h1M66 66h1M67 66h1M70 66h1M74 66h1M81 66h1M86 66h1M108 66h1M109 66h1M122 66h1M124 66h1M125 66h1M129 66h1M130 66h1M137 66h1M139 66h1M69 67h1M85 67h1M88 67h1M96 67h1M104 67h1M122 67h1M123 67h1M129 67h1M54 68h1M58 68h1M60 68h1M75 68h1M96 68h1M99 68h1M115 68h1M121 68h1M135 68h1M147 68h1M48 69h1M81 69h1M88 69h1M92 69h1M94 69h1M97 69h1M108 69h1M109 69h1M118 69h1M121 69h1M124 69h1M136 69h1M139 69h1M145 69h1M148 69h1M71 70h1M85 70h1M87 70h1M98 70h1M100 70h1M101 70h1M113 70h1M135 70h1M136 70h1M24 71h1M44 71h1M55 71h1M59 71h1M74 71h1M84 71h1M87 71h1M97 71h1M110 71h1M115 71h1M117 71h1M125 71h1M127 71h1M135 71h1M39 72h1M85 72h1M86 72h1M104 72h1M112 72h1M121 72h1M127 72h1M131 72h1M137 72h1M144 72h1M55 73h1M61 73h1M66 73h1M72 73h1M108 73h1M114 73h1M117 73h1M137 73h1M143 73h1M67 74h1M80 74h1M86 74h1M91 74h1M94 74h1M105 74h1M123 74h1M124 74h1M126 74h1M129 74h1M134 74h1M138 74h1M139 74h1M73 75h1M75 75h1M86 75h1M93 75h1M94 75h1M97 75h1M110 75h1M116 75h1M123 75h1M134 75h1M135 75h1M138 75h1M151 75h1M41 76h1M61 76h1M79 76h1M87 76h1M101 76h1M122 76h1M135 76h1M138 76h1M141 76h1M145 76h1M65 77h1M69 77h1M74 77h1M79 77h1M81 77h1M85 77h1M88 77h1M110 77h1M111 77h1M117 77h1M132 77h1M133 77h1M135 77h1M98 78h1M106 78h1M113 78h1M125 78h1M133 78h1M134 78h1M56 79h1M60 79h1M63 79h1M77 79h1M108 79h1M110 79h1M123 79h1M131 79h1M137 79h1M29 80h1M77 80h1M81 80h1M103 80h1M110 80h1M114 80h1M122 80h1M131 80h1M55 81h1M103 81h1M114 81h1M115 81h1M118 81h1M121 81h1M130 81h1M132 81h1M134 81h1M39 82h1M81 82h1M86 82h1M88 82h1M97 82h1M116 82h1M121 82h1M129 82h1M134 82h1M142 82h1M62 83h1M77 83h1M111 83h1M130 83h1M136 83h1M138 83h1M97 84h1M100 84h1M138 84h1M58 85h1M85 85h1M99 85h1M133 85h1M135 85h1M102 86h1M110 86h1M115 86h1M125 86h1M131 86h1M137 86h1M147 86h1M62 87h1M125 87h1M127 87h1M22 88h1M79 88h1M103 88h1M105 88h1M107 88h1M126 88h1M136 88h1M139 88h1M151 88h1M116 89h1M122 89h1M117 90h1M120 90h1M142 90h1M20 91h1M51 91h1M107 91h1M108 91h1M119 91h1M123 91h1M134 91h1M135 91h1M99 92h1M103 92h1M114 92h1M116 92h1M117 92h1M129 92h1M55 93h1M73 93h1M118 93h1M121 93h1M145 93h1M127 94h1M71 95h1M73 95h1M104 95h1M57 96h1M127 96h1M77 97h1M134 97h1M113 98h1M114 99h1M102 100h1M123 100h1M103 101h1M112 101h1M117 101h1M108 102h1M113 102h1M134 102h1M66 103h1M85 103h1M92 103h1M127 103h1M51 104h1M110 104h1M137 104h1M124 105h1M130 105h1M132 105h1M113 106h1M119 106h1M129 106h1M58 107h1M96 107h1M105 107h1M108 107h1M103 108h1M44 109h1M112 109h1M115 109h1M116 109h1M126 109h1M127 109h1M155 109h1M123 110h1M90 111h1M100 111h1M117 111h1M123 111h1M124 111h1M150 111h1M133 112h1M84 113h1M111 113h1M125 113h1M92 116h1M100 116h1M109 116h1M76 117h1M111 117h1M116 117h1M125 117h1M67 118h1M70 118h1M89 118h1M111 118h1M126 118h1M107 119h1M57 120h1M64 120h1M103 120h1M111 120h1M123 120h1M124 120h1M133 120h1M118 121h1M138 121h1M48 122h1M114 122h1M46 123h1M146 123h1M76 124h1M88 124h1M102 124h1M105 124h1M125 124h1M97 125h1M107 125h1M96 126h1M97 126h1M112 126h1M150 126h1M83 127h1M104 127h1M124 127h1M135 127h1M33 128h1M53 128h1M71 128h1M79 128h1M126 128h1M54 129h1M58 129h1M78 129h1M97 129h1M128 129h1M136 129h1M57 130h1M98 131h1M99 132h1M102 132h1M127 132h1M108 133h1M132 133h1M51 134h1M61 134h1M74 134h1M116 134h1M142 134h1M78 135h1M111 135h1M117 135h1M137 135h1M71 136h1M139 136h1M90 137h1M107 137h1M120 137h1M144 137h1M44 138h1M81 138h1M127 138h1M134 138h1M121 139h1M123 139h1M126 139h1M129 139h1M137 139h1M38 140h1M80 140h1M112 140h1M121 140h1M132 140h1M90 141h1M102 141h1M61 142h1M121 142h1M104 143h1M120 143h1M55 144h1M86 144h1M63 145h1M66 145h1M113 145h1M131 145h1M86 146h1M87 146h1M105 146h1M115 146h1M125 146h1M132 146h1M97 147h1M112 147h1M115 147h1M137 147h1M112 148h1M143 148h1M83 149h1M111 149h1M117 149h1M70 150h1M104 150h1M117 150h1M133 150h1M138 150h1M155 150h1M107 151h1M116 151h1M146 151h1M60 152h1M76 152h1M103 152h1M106 152h1M113 152h1M122 152h1M124 152h1M132 152h1M87 153h1M92 153h1M102 153h1M127 153h1M144 153h1M41 154h1M59 154h1M95 154h1M106 154h1M112 154h1M117 154h1M120 154h1M131 154h1M140 154h1M42 155h1M60 155h1M82 155h1M90 155h1M116 155h1M129 155h1M120 156h1M128 156h1M150 156h1M154 156h1M42 157h1M55 157h1M62 157h1M98 157h1M110 157h1M125 157h1M137 157h1M138 157h1M109 158h1M117 158h1M78 159h1M107 159h1M109 159h1M111 159h1M113 159h1M119 159h1M144 159h1M67 160h1M85 160h1M116 160h1M69 161h1M85 161h1M68 162h1M77 162h1M54 163h1M61 163h1M130 163h1M95 164h1M111 164h1M113 164h1M125 164h1M128 164h1M132 164h1M124 165h1M128 165h1M86 166h1M92 166h1M145 166h1M146 166h1M33 168h1M61 168h1M80 168h1M93 168h1M110 168h1M132 168h1M138 168h1M63 169h1M99 169h1M120 169h1M143 169h1M62 170h1M72 170h1M110 170h1M127 170h1M105 171h1M110 171h1M59 172h1M91 172h1M120 172h1M148 172h1M43 173h1M106 173h1M111 173h1M124 173h1M131 173h1M136 173h1M56 174h1M71 174h1M63 175h1M121 175h1M143 175h1M98 176h1M100 176h1M102 176h1M133 176h1M134 176h1M121 177h1M89 178h1M113 178h1M121 178h1M82 179h1M112 179h1M109 180h1M113 180h1M136 180h1M89 181h1M97 181h1M101 181h1M140 181h1M50 182h1M73 182h1M90 182h1M107 182h1M118 182h1M144 182h1M56 183h1M58 183h1M132 183h1M52 184h1M79 184h1M57 185h1M95 185h1M116 185h1M120 185h1M124 185h1M69 186h1M113 186h1M117 186h1M134 186h1M109 187h1M110 187h1M116 187h1M130 187h1M58 189h1M117 189h1M124 189h1" stroke="#ccccff" stroke-width="1" fill="none"/>
<path d="M93 27h1M94 29h1M105 29h1M148 29h1M87 30h1M89 30h1M111 30h1M141 30h1M36 31h1M57 31h1M91 31h1M120 31h1M125 31h1M128 31h1M36 32h1M37 32h1M45 32h1M82 32h1M97 32h1M100 32h1M113 32h1M114 32h1M122 32h1M16 33h1M52 33h1M56 33h1M38 34h1M40 34h1M52 34h1M59 34h1M68 34h1M77 34h1M124 34h1M2 35h1M16 35h1M23 35h1M32 35h1M34 35h1M48 35h1M94 35h1M101 35h1M110 35h1M116 35h1M126 35h1M143 35h1M20 36h1M28 36h1M45 36h1M56 36h1M72 36h1M74 36h1M87 36h1M94 36h1M113 36h1M118 36h1M17 37h1M23 37h1M34 37h1M55 37h1M61 37h1M66 37h1M67 37h1M77 37h1M103 37h1M115 37h1M124 37h1M129 37h1M139 37h1M27 38h1M37 38h1M52 38h1M65 38h1M80 38h1M81 38h1M88 38h1M90 38h1M104 38h1M105 38h1M115 38h1M27 39h1M31 39h1M38 39h1M66 39h1M70 39h1M71 39h1M72 39h1M114 39h1M115 39h1M120 39h1M126 39h1M26 40h1M41 40h1M45 40h1M49 40h1M82 40h1M111 40h1M129 40h1M130 40h1M8 41h1M25 41h1M29 41h1M35 41h1M49 41h1M71 41h1M74 41h1M119 41h1M130 41h1M153 41h1M6 42h1M9 42h1M24 42h1M59 42h1M60 42h1M61 42h1M66 42h1M73 42h1M83 42h1M95 42h1M99 42h1M118 42h1M122 42h1M127 42h1M137 42h1M148 42h1M14 43h1M19 43h1M33 43h1M34 43h1M53 43h1M77 43h1M96 43h1M110 43h1M120 43h1M124 43h1M136 43h1M4 44h1M17 44h1M21 44h1M36 44h1M52 44h1M54 44h1M99 44h1M109 44h1M110 44h1M112 44h1M134 44h1M135 44h1M15 45h1M23 45h1M33 45h1M38 45h1M62 45h1M107 45h1M112 45h1M129 45h1M131 45h1M16 46h1M44 46h1M46 46h1M53 46h1M59 46h1M79 46h1M95 46h1M104 46h1M105 46h1M108 46h1M130 46h1M137 46h1M138 46h1M32 47h1M36 47h1M43 47h1M58 47h1M66 47h1M74 47h1M79 47h1M80 47h1M81 47h1M87 47h1M102 47h1M114 47h1M117 47h1M121 47h1M127 47h1M141 47h1M32 48h1M42 48h1M53 48h1M56 48h1M72 48h1M80 48h1M98 48h1M130 48h1M136 48h1M138 48h1M144 48h1M19 49h1M37 49h1M44 49h1M45 49h1M46 49h1M82 49h1M92 49h1M93 49h1M107 49h1M109 49h1M122 49h1M123 49h1M126 49h1M127 49h1M7 50h1M26 50h1M27 50h1M38 50h1M43 50h1M45 50h1M46 50h1M47 50h1M53 50h1M64 50h1M68 50h1M77 50h1M80 50h1M87 50h1M92 50h1M95 50h1M100 50h1M132 50h1M133 50h1M138 50h1M141 50h1M46 51h1M66 51h1M87 51h1M100 51h1M127 51h1M15 52h1M54 52h1M82 52h1M88 52h1M112 52h1M114 52h1M129 52h1M132 52h1M143 52h1M49 53h1M68 53h1M86 53h1M92 53h1M105 53h1M124 53h1M132 53h1M136 53h1M144 53h1M40 54h1M51 54h1M56 54h1M59 54h1M94 54h1M102 54h1M109 54h1M115 54h1M139 54h1M141 54h1M146 54h1M13 55h1M26 55h1M93 55h1M116 55h1M120 55h1M131 55h1M63 56h1M74 56h1M80 56h1M88 56h1M92 56h1M97 56h1M106 56h1M126 56h1M133 56h1M147 56h1M44 57h1M45 57h1M53 57h1M97 57h1M99 57h1M101 57h1M104 57h1M115 57h1M123 57h1M140 57h1M10 58h1M14 58h1M30 58h1M50 58h1M56 58h1M93 58h1M105 58h1M115 58h1M47 59h1M57 59h1M68 59h1M89 59h1M91 59h1M101 59h1M108 59h1M131 59h1M145 59h1M28 60h1M33 60h1M53 60h1M55 60h1M77 60h1M115 60h1M122 60h1M137 60h1M143 60h1M72 61h1M74 61h1M88 61h1M90 61h1M97 61h1M105 61h1M113 61h1M134 61h1M139 61h1M56 62h1M114 62h1M118 62h1M128 62h1M130 62h1M137 62h1M144 62h1M46 63h1M55 63h1M84 63h1M109 63h1M118 63h1M123 63h1M52 64h1M56 64h1M65 64h1M67 64h1M68 64h1M94 64h1M96 64h1M118 64h1M142 64h1M148 64h1M54 65h1M71 65h1M75 65h1M79 65h1M92 65h1M116 65h1M122 65h1M133 65h1M143 65h1M149 65h1M97 66h1M35 67h1M121 67h1M138 67h1M144 67h1M147 67h1M56 68h1M95 68h1M97 68h1M118 68h1M130 68h1M139 68h1M36 69h1M69 69h1M72 69h1M80 69h1M89 69h1M95 69h1M111 69h1M120 69h1M128 69h1M129 69h1M52 70h1M78 70h1M79 70h1M95 70h1M112 70h1M114 70h1M119 70h1M125 70h1M129 70h1M7 71h1M70 71h1M79 71h1M95 71h1M104 71h1M109 71h1M118 71h1M126 71h1M134 71h1M146 71h1M94 72h1M99 72h1M103 72h1M128 72h1M139 72h1M42 73h1M60 73h1M120 73h1M129 73h1M135 73h1M62 74h1M64 74h1M76 74h1M87 74h1M95 74h1M108 74h1M121 74h1M130 74h1M132 74h1M136 74h1M34 75h1M59 75h1M80 75h1M81 75h1M92 75h1M95 75h1M98 75h1M99 75h1M101 75h1M120 75h1M122 75h1M45 76h1M56 76h1M88 76h1M111 76h1M114 76h1M115 76h1M116 76h1M124 76h1M134 76h1M112 77h1M141 77h1M148 77h1M37 78h1M78 78h1M82 78h1M84 78h1M114 78h1M118 78h1M120 78h1M148 78h1M54 79h1M114 79h1M53 80h1M79 80h1M80 80h1M86 80h1M106 80h1M126 80h1M147 80h1M64 81h1M102 81h1M107 81h1M135 81h1M149 81h1M58 82h1M75 82h1M102 82h1M115 82h1M119 82h1M73 83h1M108 83h1M140 83h1M79 84h1M116 84h1M98 85h1M110 85h1M114 85h1M124 85h1M143 85h1M18 86h1M68 86h1M74 86h1M81 86h1M101 86h1M123 86h1M138 86h1M74 87h1M102 87h1M99 88h1M135 88h1M85 89h1M96 89h1M130 89h1M59 90h1M69 90h1M94 90h1M109 90h1M110 90h1M111 90h1M75 91h1M122 91h1M92 92h1M71 93h1M107 93h1M128 93h1M105 94h1M112 94h1M106 95h1M114 95h1M116 95h1M128 95h1M130 95h1M136 95h1M106 96h1M137 96h1M118 97h1M122 97h1M123 97h1M126 97h1M104 98h1M119 98h1M104 99h1M114 100h1M95 101h1M137 101h1M133 102h1M28 103h1M123 103h1M144 103h1M109 104h1M100 107h1M129 110h1M102 111h1M109 111h1M88 112h1M122 114h1M91 117h1M114 117h1M109 119h1M109 121h1M110 121h1M117 122h1M111 123h1M119 123h1M131 124h1M106 125h1M123 125h1M46 126h1M110 126h1M133 126h1M108 127h1M116 127h1M120 127h1M147 127h1M150 128h1M96 129h1M114 129h1M67 130h1M79 130h1M113 132h1M101 133h1M116 133h1M76 134h1M104 134h1M134 134h1M138 134h1M119 135h1M125 135h1M81 136h1M132 136h1M138 136h1M71 137h1M76 137h1M123 137h1M47 138h1M126 138h1M124 139h1M116 140h1M58 141h1M67 141h1M110 141h1M132 141h1M84 142h1M135 143h1M71 144h1M80 144h1M140 144h1M72 145h1M132 145h1M139 145h1M39 146h1M141 147h1M80 148h1M77 149h1M135 149h1M141 149h1M147 149h1M32 150h1M89 150h1M118 150h1M60 151h1M63 151h1M141 151h1M142 151h1M61 152h1M72 152h1M134 152h1M135 152h1M48 153h1M71 153h1M75 153h1M94 153h1M130 153h1M64 154h1M90 154h1M107 154h1M63 155h1M150 155h1M98 156h1M131 156h1M97 157h1M65 158h1M90 158h1M101 158h1M122 158h1M136 158h1M71 159h1M110 159h1M114 159h1M132 159h1M107 160h1M121 160h1M126 160h1M127 160h1M80 161h1M108 161h1M127 161h1M129 162h1M135 163h1M143 163h1M77 164h1M80 165h1M111 165h1M114 165h1M126 165h1M131 165h1M132 165h1M65 166h1M106 166h1M138 166h1M116 168h1M131 168h1M69 169h1M86 170h1M146 170h1M142 171h1M56 172h1M99 172h1M75 173h1M84 173h1M110 173h1M122 173h1M145 173h1M109 175h1M110 175h1M114 175h1M89 177h1M103 177h1M130 177h1M142 177h1M74 178h1M116 178h1M137 179h1M141 179h1M90 181h1M113 181h1M137 181h1M139 181h1M136 182h1M60 183h1M109 183h1M114 183h1M147 183h1M57 184h1M116 184h1M132 184h1M148 184h1M102 185h1M70 186h1M108 186h1M129 186h1M33 187h1M46 187h1" stroke="#9090ff" stroke-width="1" fill="none"/>
<path d="M46 29h1M117 29h1M58 30h1M139 30h1M31 31h1M64 31h1M68 31h1M86 31h1M89 31h1M132 31h1M27 32h1M78 32h1M86 32h1M87 32h1M91 32h1M107 32h1M132 32h1M32 33h1M45 33h1M78 33h1M87 33h1M88 33h1M92 33h1M101 33h1M119 33h1M3 34h1M18 34h1M30 34h1M43 34h1M66 34h1M100 34h1M106 34h1M111 34h1M118 34h1M130 34h1M146 34h1M21 35h1M28 35h1M41 35h1M53 35h1M55 35h1M68 35h1M69 35h1M76 35h1M78 35h1M81 35h1M97 35h1M98 35h1M100 35h1M106 35h1M109 35h1M112 35h1M114 35h1M115 35h1M123 35h1M22 36h1M43 36h1M50 36h1M54 36h1M81 36h1M103 36h1M137 36h1M139 36h1M32 37h1M70 37h1M78 37h1M85 37h1M92 37h1M98 37h1M112 37h1M120 37h1M16 38h1M35 38h1M50 38h1M57 38h1M58 38h1M71 38h1M72 38h1M83 38h1M94 38h1M103 38h1M106 38h1M124 38h1M131 38h1M139 38h1M35 39h1M50 39h1M65 39h1M73 39h1M90 39h1M99 39h1M117 39h1M121 39h1M130 39h1M12 40h1M30 40h1M52 40h1M53 40h1M59 40h1M62 40h1M89 40h1M90 40h1M91 40h1M97 40h1M102 40h1M115 40h1M139 40h1M10 41h1M27 41h1M44 41h1M48 41h1M82 41h1M86 41h1M94 41h1M96 41h1M97 41h1M98 41h1M115 41h1M120 41h1M121 41h1M15 42h1M33 42h1M42 42h1M44 42h1M47 42h1M55 42h1M63 42h1M65 42h1M79 42h1M81 42h1M88 42h1M97 42h1M106 42h1M115 42h1M125 42h1M129 42h1M131 42h1M133 42h1M140 42h1M22 43h1M25 43h1M43 43h1M52 43h1M62 43h1M73 43h1M79 43h1M83 43h1M84 43h1M88 43h1M89 43h1M99 43h1M107 43h1M108 43h1M113 43h1M115 43h1M127 43h1M129 43h1M141 43h1M16 44h1M24 44h1M45 44h1M50 44h1M61 44h1M78 44h1M82 44h1M89 44h1M95 44h1M98 44h1M100 44h1M101 44h1M122 44h1M123 44h1M137 44h1M52 45h1M64 45h1M65 45h1M71 45h1M74 45h1M90 45h1M97 45h1M105 45h1M110 45h1M115 45h1M118 45h1M119 45h1M134 45h1M136 45h1M26 46h1M33 46h1M42 46h1M45 46h1M55 46h1M57 46h1M60 46h1M62 46h1M66 46h1M82 46h1M87 46h1M99 46h1M110 46h1M123 46h1M128 46h1M151 46h1M25 47h1M31 47h1M57 47h1M59 47h1M75 47h1M77 47h1M82 47h1M85 47h1M86 47h1M93 47h1M131 47h1M137 47h1M138 47h1M8 48h1M18 48h1M24 48h1M28 48h1M36 48h1M40 48h1M44 48h1M65 48h1M73 48h1M79 48h1M85 48h1M88 48h1M92 48h1M94 48h1M96 48h1M106 48h1M118 48h1M119 48h1M127 48h1M128 48h1M132 48h1M135 48h1M146 48h1M12 49h1M18 49h1M25 49h1M40 49h1M50 49h1M53 49h1M73 49h1M77 49h1M85 49h1M106 49h1M121 49h1M125 49h1M135 49h1M136 49h1M146 49h1M148 49h1M48 50h1M49 50h1M70 50h1M98 50h1M99 50h1M102 50h1M108 50h1M114 50h1M115 50h1M128 50h1M143 50h1M20 51h1M25 51h1M44 51h1M53 51h1M54 51h1M55 51h1M71 51h1M73 51h1M80 51h1M92 51h1M102 51h1M104 51h1M106 51h1M109 51h1M111 51h1M120 51h1M121 51h1M123 51h1M124 51h1M135 51h1M137 51h1M145 51h1M6 52h1M31 52h1M38 52h1M51 52h1M53 52h1M81 52h1M85 52h1M87 52h1M89 52h1M102 52h1M131 52h1M139 52h1M150 52h1M18 53h1M28 53h1M52 53h1M55 53h1M64 53h1M89 53h1M90 53h1M103 53h1M106 53h1M129 53h1M135 53h1M17 54h1M18 54h1M19 54h1M33 54h1M66 54h1M71 54h1M76 54h1M116 54h1M117 54h1M118 54h1M120 54h1M122 54h1M126 54h1M128 54h1M129 54h1M137 54h1M153 54h1M9 55h1M10 55h1M17 55h1M18 55h1M53 55h1M80 55h1M83 55h1M91 55h1M94 55h1M100 55h1M102 55h1M104 55h1M121 55h1M134 55h1M11 56h1M44 56h1M61 56h1M98 56h1M100 56h1M105 56h1M113 56h1M119 56h1M120 56h1M122 56h1M135 56h1M146 56h1M46 57h1M47 57h1M50 57h1M54 57h1M58 57h1M98 57h1M121 57h1M122 57h1M130 57h1M131 57h1M134 57h1M137 57h1M143 57h1M81 58h1M92 58h1M96 58h1M109 58h1M122 58h1M127 58h1M128 58h1M139 58h1M141 58h1M30 59h1M50 59h1M52 59h1M63 59h1M81 59h1M84 59h1M95 59h1M98 59h1M99 59h1M107 59h1M109 59h1M122 59h1M125 59h1M133 59h1M135 59h1M138 59h1M139 59h1M22 60h1M40 60h1M41 60h1M72 60h1M84 60h1M88 60h1M95 60h1M107 60h1M125 60h1M130 60h1M133 60h1M142 60h1M146 60h1M147 60h1M154 60h1M42 61h1M69 61h1M71 61h1M81 61h1M83 61h1M87 61h1M94 61h1M115 61h1M116 61h1M41 62h1M63 62h1M93 62h1M97 62h1M103 62h1M107 62h1M111 62h1M117 62h1M121 62h1M127 62h1M131 62h1M132 62h1M143 62h1M53 63h1M72 63h1M78 63h1M79 63h1M85 63h1M97 63h1M111 63h1M122 63h1M127 63h1M132 63h1M143 63h1M25 64h1M62 64h1M69 64h1M97 64h1M98 64h1M115 64h1M116 64h1M124 64h1M136 64h1M140 64h1M141 64h1M143 64h1M50 65h1M53 65h1M83 65h1M90 65h1M107 65h1M108 65h1M112 65h1M126 65h1M128 65h1M140 65h1M141 65h1M147 65h1M24 66h1M82 66h1M105 66h1M112 66h1M115 66h1M118 66h1M120 66h1M123 66h1M127 66h1M131 66h1M135 66h1M141 66h1M151 66h1M154 66h1M33 67h1M37 67h1M51 67h1M52 67h1M53 67h1M89 67h1M105 67h1M114 67h1M132 67h1M137 67h1M46 68h1M48 68h1M100 68h1M103 68h1M107 68h1M110 68h1M113 68h1M132 68h1M57 69h1M65 69h1M70 69h1M73 69h1M96 69h1M103 69h1M106 69h1M110 69h1M114 69h1M138 69h1M143 69h1M57 70h1M77 70h1M120 70h1M124 70h1M133 70h1M138 70h1M22 71h1M72 71h1M100 71h1M119 71h1M120 71h1M132 71h1M143 71h1M52 72h1M96 72h1M97 72h1M98 72h1M106 72h1M120 72h1M123 72h1M132 72h1M134 72h1M135 72h1M142 72h1M23 73h1M58 73h1M68 73h1M69 73h1M88 73h1M89 73h1M111 73h1M115 73h1M122 73h1M124 73h1M128 73h1M139 73h1M70 74h1M100 74h1M104 74h1M106 74h1M115 74h1M116 74h1M125 74h1M127 74h1M150 74h1M151 74h1M27 75h1M64 75h1M104 75h1M105 75h1M124 75h1M142 75h1M143 75h1M148 75h1M44 76h1M58 76h1M93 76h1M97 76h1M100 76h1M140 76h1M27 77h1M28 77h1M43 77h1M55 77h1M91 77h1M92 77h1M94 77h1M98 77h1M116 77h1M124 77h1M127 77h1M129 77h1M79 78h1M95 78h1M100 78h1M109 78h1M122 78h1M127 78h1M136 78h1M49 79h1M70 79h1M98 79h1M102 79h1M113 79h1M117 79h1M121 79h1M128 79h1M74 80h1M104 80h1M109 80h1M113 80h1M119 80h1M133 80h1M144 80h1M70 81h1M87 81h1M98 81h1M117 81h1M125 81h1M133 81h1M148 81h1M49 82h1M92 82h1M99 82h1M103 82h1M123 82h1M137 82h1M75 83h1M92 83h1M98 83h1M110 83h1M120 83h1M82 84h1M107 84h1M115 84h1M122 84h1M69 85h1M73 85h1M93 85h1M126 85h1M131 85h1M54 86h1M73 86h1M114 86h1M136 86h1M69 87h1M84 87h1M97 87h1M114 87h1M115 87h1M118 87h1M129 87h1M130 87h1M132 87h1M140 87h1M114 88h1M134 88h1M95 89h1M105 89h1M111 89h1M127 90h1M26 91h1M50 91h1M112 91h1M142 92h1M58 93h1M120 93h1M129 93h1M68 94h1M96 94h1M102 94h1M135 94h1M137 95h1M147 95h1M102 97h1M144 97h1M98 98h1M99 98h1M133 98h1M138 98h1M140 98h1M143 98h1M92 99h1M99 99h1M127 99h1M75 101h1M121 102h1M131 102h1M78 103h1M129 103h1M152 103h1M90 104h1M112 104h1M134 104h1M101 105h1M108 105h1M120 105h1M133 105h1M106 108h1M71 109h1M111 109h1M117 109h1M128 109h1M136 109h1M148 110h1M64 111h1M68 111h1M104 111h1M93 112h1M123 112h1M101 114h1M111 115h1M127 115h1M125 116h1M138 116h1M143 116h1M74 117h1M124 117h1M57 118h1M99 118h1M110 118h1M114 118h1M122 118h1M125 118h1M138 118h1M141 118h1M96 119h1M103 119h1M125 119h1M134 119h1M136 119h1M96 120h1M104 120h1M80 121h1M94 121h1M87 122h1M74 123h1M17 124h1M44 124h1M77 124h1M119 124h1M127 125h1M53 126h1M82 126h1M114 126h1M124 126h1M138 126h1M95 127h1M114 127h1M103 128h1M145 128h1M75 129h1M99 129h1M118 129h1M78 130h1M108 130h1M114 130h1M131 130h1M135 130h1M127 131h1M147 131h1M112 132h1M135 132h1M42 133h1M44 133h1M141 133h1M77 134h1M50 135h1M124 135h1M140 135h1M74 136h1M116 136h1M70 137h1M75 137h1M104 137h1M115 137h1M131 137h1M143 137h1M117 138h1M130 138h1M75 139h1M110 139h1M132 139h1M83 140h1M96 141h1M109 141h1M77 142h1M92 142h1M107 142h1M109 142h1M55 143h1M79 143h1M85 143h1M110 143h1M111 143h1M123 143h1M52 144h1M89 144h1M93 144h1M85 145h1M137 145h1M55 146h1M71 146h1M85 146h1M127 146h1M52 147h1M71 147h1M117 147h1M103 148h1M48 149h1M70 149h1M109 150h1M122 150h1M94 151h1M121 151h1M79 152h1M117 152h1M118 152h1M142 152h1M116 153h1M123 153h1M151 153h1M48 154h1M72 155h1M84 155h1M152 155h1M109 156h1M41 157h1M63 157h1M84 158h1M94 158h1M121 158h1M68 159h1M74 159h1M98 159h1M116 159h1M128 159h1M130 159h1M86 160h1M56 161h1M100 161h1M110 161h1M143 161h1M67 162h1M77 163h1M140 163h1M105 164h1M106 164h1M108 164h1M140 164h1M100 165h1M113 165h1M122 166h1M125 166h1M131 166h1M139 166h1M77 167h1M89 167h1M120 167h1M124 167h1M137 167h1M147 167h1M86 168h1M97 169h1M113 169h1M121 170h1M133 170h1M59 171h1M76 171h1M83 171h1M127 171h1M92 172h1M106 172h1M114 172h1M139 172h1M71 173h1M87 174h1M125 174h1M127 174h1M91 175h1M79 177h1M94 177h1M119 177h1M145 178h1M57 179h1M131 179h1M133 179h1M139 179h1M79 180h1M111 181h1M119 181h1M136 181h1M91 182h1M127 183h1M85 184h1M115 185h1M126 185h1M62 186h1M122 186h1M153 186h1M115 187h1M128 187h1M120 188h1M86 189h1" stroke="#1010ff" stroke-width="1" fill="none"/>
<path d="M34 30h1M114 30h1M119 30h1M9 31h1M59 31h1M46 32h1M74 32h1M104 34h1M131 34h1M38 35h1M62 35h1M71 35h1M119 35h1M34 36h1M39 36h1M41 36h1M44 36h1M98 36h1M30 37h1M51 37h1M62 37h1M63 37h1M68 37h1M74 37h1M82 37h1M87 37h1M89 37h1M90 37h1M101 37h1M104 37h1M116 37h1M118 37h1M125 37h1M135 37h1M59 38h1M66 38h1M67 38h1M74 38h1M89 38h1M95 38h1M108 38h1M121 38h1M143 38h1M26 39h1M28 39h1M36 39h1M58 39h1M61 39h1M76 39h1M86 39h1M97 39h1M103 39h1M109 39h1M123 39h1M25 40h1M51 40h1M55 40h1M56 40h1M64 40h1M66 40h1M79 40h1M88 40h1M45 41h1M47 41h1M63 41h1M79 41h1M101 41h1M103 41h1M117 41h1M72 42h1M84 42h1M107 42h1M124 42h1M15 43h1M30 43h1M40 43h1M55 43h1M63 43h1M64 43h1M94 43h1M98 43h1M102 43h1M105 43h1M112 43h1M117 43h1M122 43h1M126 43h1M40 44h1M48 44h1M93 44h1M97 44h1M103 44h1M117 44h1M130 44h1M132 44h1M21 45h1M50 45h1M63 45h1M66 45h1M93 45h1M100 45h1M111 45h1M124 45h1M130 45h1M64 46h1M80 46h1M101 46h1M103 46h1M114 46h1M117 46h1M122 46h1M41 47h1M71 47h1M83 47h1M94 47h1M118 47h1M130 47h1M11 48h1M27 48h1M30 48h1M45 48h1M50 48h1M64 48h1M101 48h1M112 48h1M113 48h1M123 48h1M104 49h1M113 49h1M119 49h1M132 49h1M78 50h1M81 50h1M96 50h1M97 50h1M105 50h1M106 50h1M111 50h1M119 50h1M123 50h1M136 50h1M17 51h1M26 51h1M45 51h1M61 51h1M83 51h1M90 51h1M93 51h1M99 51h1M108 51h1M116 51h1M130 51h1M26 52h1M42 52h1M57 52h1M61 52h1M62 52h1M63 52h1M68 52h1M95 52h1M106 52h1M107 52h1M110 52h1M115 52h1M116 52h1M125 52h1M34 53h1M44 53h1M67 53h1M69 53h1M80 53h1M99 53h1M107 53h1M108 53h1M109 53h1M115 53h1M116 53h1M126 53h1M134 53h1M34 54h1M47 54h1M82 54h1M85 54h1M89 54h1M95 54h1M100 54h1M110 54h1M127 54h1M65 55h1M85 55h1M88 55h1M95 55h1M96 55h1M115 55h1M123 55h1M151 55h1M99 56h1M73 57h1M92 57h1M106 57h1M112 57h1M114 57h1M54 58h1M67 58h1M77 58h1M89 58h1M95 58h1M104 58h1M107 58h1M108 58h1M112 58h1M126 58h1M78 59h1M92 59h1M93 59h1M94 59h1M111 59h1M112 59h1M116 59h1M129 59h1M51 60h1M100 60h1M141 60h1M107 61h1M112 61h1M117 61h1M17 62h1M78 62h1M115 62h1M122 62h1M65 63h1M73 63h1M88 63h1M91 63h1M107 63h1M121 63h1M133 63h1M134 63h1M91 64h1M92 64h1M93 64h1M108 64h1M123 64h1M137 64h1M86 65h1M103 65h1M104 65h1M114 65h1M117 65h1M124 65h1M125 65h1M137 65h1M87 66h1M98 66h1M104 66h1M107 66h1M111 66h1M117 66h1M119 66h1M126 66h1M61 67h1M64 67h1M98 67h1M110 67h1M119 67h1M124 67h1M130 67h1M79 68h1M106 68h1M123 68h1M129 68h1M140 68h1M141 68h1M54 69h1M105 69h1M107 69h1M126 69h1M130 69h1M144 69h1M102 71h1M114 71h1M91 72h1M107 72h1M109 72h1M116 72h1M129 72h1M116 73h1M127 73h1M134 73h1M152 73h1M111 74h1M115 75h1M118 75h1M118 76h1M126 76h1M140 77h1M107 78h1M111 78h1M123 78h1M111 79h1M135 79h1M98 82h1M113 82h1M124 92h1M125 92h1M73 98h1M109 103h1M143 105h1M104 108h1M106 109h1M107 121h1M112 128h1M135 146h1M134 149h1M83 152h1M84 152h1M71 161h1M87 165h1M142 167h1M130 176h1M110 177h1M133 188h1" stroke="#0000f0" stroke-width="1" fill="none"/>
<path d="M49 31h1M110 33h1M107 34h1M113 34h1M119 34h1M129 34h1M43 35h1M60 35h1M79 35h1M88 35h1M104 35h1M115 36h1M134 36h1M31 37h1M53 37h1M65 37h1M99 37h1M100 37h1M141 37h1M51 38h1M69 38h1M99 38h1M118 38h1M123 38h1M60 39h1M63 39h1M69 39h1M92 39h1M94 39h1M107 39h1M133 39h1M72 40h1M98 40h1M105 40h1M125 40h1M132 40h1M26 41h1M56 41h1M80 41h1M85 41h1M92 41h1M110 41h1M114 41h1M122 41h1M124 41h1M125 41h1M127 41h1M29 42h1M34 42h1M57 42h1M70 42h1M86 42h1M102 42h1M103 42h1M117 42h1M119 42h1M134 42h1M135 42h1M81 43h1M92 43h1M131 43h1M133 43h1M39 44h1M47 44h1M55 44h1M65 44h1M75 44h1M80 44h1M88 44h1M107 44h1M114 44h1M125 44h1M131 44h1M30 45h1M47 45h1M53 45h1M54 45h1M58 45h1M88 45h1M91 45h1M109 45h1M113 45h1M114 45h1M123 45h1M144 45h1M56 46h1M61 46h1M65 46h1M67 46h1M77 46h1M92 46h1M102 46h1M112 46h1M120 46h1M126 46h1M47 47h1M76 47h1M97 47h1M100 47h1M103 47h1M112 47h1M119 47h1M122 47h1M124 47h1M146 47h1M148 47h1M55 48h1M60 48h1M97 48h1M117 48h1M126 48h1M2 49h1M32 49h1M33 49h1M52 49h1M56 49h1M65 49h1M68 49h1M70 49h1M75 49h1M80 49h1M96 49h1M97 49h1M100 49h1M102 49h1M108 49h1M110 49h1M124 49h1M29 50h1M79 50h1M126 50h1M37 51h1M42 51h1M51 51h1M70 51h1M75 51h1M84 51h1M85 51h1M86 51h1M107 51h1M133 51h1M32 52h1M59 52h1M66 52h1M83 52h1M84 52h1M86 52h1M98 52h1M101 52h1M105 52h1M117 52h1M140 52h1M21 53h1M51 53h1M78 53h1M82 53h1M91 53h1M94 53h1M102 53h1M104 53h1M117 53h1M119 53h1M128 53h1M64 54h1M97 54h1M123 54h1M125 54h1M101 55h1M103 55h1M110 55h1M119 55h1M87 56h1M102 56h1M103 56h1M109 56h1M144 56h1M69 57h1M89 57h1M107 57h1M117 57h1M124 57h1M128 57h1M31 58h1M91 58h1M129 58h1M133 58h1M136 58h1M58 59h1M70 59h1M88 59h1M103 59h1M118 59h1M101 60h1M106 60h1M108 60h1M120 60h1M121 60h1M131 60h1M135 60h1M89 61h1M92 61h1M108 61h1M114 61h1M125 61h1M128 61h1M72 62h1M108 62h1M135 62h1M58 63h1M94 63h1M101 63h1M106 64h1M110 64h1M121 64h1M128 64h1M101 65h1M115 65h1M134 65h1M103 66h1M110 66h1M113 66h1M99 67h1M106 67h1M108 67h1M118 67h1M71 68h1M108 68h1M111 68h1M116 68h1M124 68h1M85 69h1M99 69h1M119 69h1M127 69h1M88 70h1M106 70h1M110 70h1M121 70h1M105 71h1M138 71h1M87 72h1M89 72h1M105 72h1M108 72h1M110 72h1M109 73h1M102 74h1M114 74h1M72 76h1M108 76h1M133 76h1M136 76h1M122 77h1M130 77h1M143 77h1M112 78h1M116 78h1M112 79h1M129 79h1M69 81h1M113 81h1M119 81h1M120 81h1M131 81h1M104 83h1M105 83h1M109 83h1M122 83h1M133 84h1M111 85h1M123 85h1M130 86h1M118 88h1M98 90h1M108 96h1M148 129h1M65 137h1M101 137h1M119 147h1M96 152h1M109 155h1M142 158h1M144 160h1M70 161h1M91 164h1M115 178h1M109 181h1M114 182h1M110 184h1M121 188h1" stroke="#40e818" stroke-width="1" fill="none"/>
<path d="M115 33h1M88 36h1M110 36h1M40 37h1M88 37h1M95 37h1M46 39h1M99 40h1M58 41h1M102 41h1M106 41h1M126 41h1M134 41h1M39 42h1M130 42h1M18 43h1M50 43h1M66 44h1M70 44h1M117 45h1M125 45h1M49 46h1M94 46h1M118 46h1M129 46h1M141 46h1M37 47h1M60 47h1M96 47h1M106 47h1M115 47h1M102 48h1M111 48h1M76 49h1M90 49h1M118 49h1M109 50h1M127 50h1M96 51h1M103 51h1M110 51h1M117 51h1M118 51h1M108 52h1M119 52h1M121 52h1M112 53h1M114 53h1M133 53h1M78 54h1M99 54h1M124 54h1M105 55h1M106 55h1M114 55h1M127 55h1M138 55h1M139 55h1M117 56h1M82 57h1M86 57h1M88 57h1M116 57h1M119 57h1M133 57h1M117 58h1M118 58h1M120 58h1M117 60h1M118 61h1M100 62h1M112 62h1M124 62h1M98 63h1M99 63h1M102 63h1M113 63h1M115 63h1M128 63h1M107 64h1M112 64h1M110 65h1M115 67h1M113 69h1M108 71h1M122 72h1M137 110h1" stroke="#48f000" stroke-width="1" fill="none"/>
<path d="M42 37h1M76 38h1M61 43h1M106 43h1M121 43h1M68 44h1M108 47h1M110 47h1M115 49h1M107 50h1M113 50h1M116 50h1M112 51h1M114 51h1M110 53h1M108 55h1M124 55h1M112 56h1M100 57h1M128 59h1M119 62h1M131 65h1" stroke="#ff7a10" stroke-width="1" fill="none"/>
<path d="M69 37h1M46 38h1M116 38h1M125 38h1M51 41h1M99 41h1M49 45h1M68 45h1M68 46h1M84 46h1M100 46h1M111 46h1M62 50h1M125 50h1M120 59h1M81 62h1M113 65h1M128 67h1M104 68h1M125 68h1M125 72h1M118 73h1M107 75h1M127 75h1M119 76h1M107 80h1" stroke="#e8d020" stroke-width="1" fill="none"/>
<path d="M116 39h1M113 40h1M34 41h1M76 44h1M57 45h1M94 45h1M115 46h1M38 47h1M107 47h1M93 52h1M141 52h1M75 53h1M127 53h1M84 54h1M107 54h1M117 55h1M103 57h1M113 57h1M96 59h1M130 61h1M135 61h1M99 62h1M120 62h1M123 65h1M134 66h1M119 68h1M116 71h1M125 73h1M126 81h1M111 86h1" stroke="#ff8a10" stroke-width="1" fill="none"/>
<path d="M106 40h1M54 41h1M28 42h1M114 42h1M109 43h1M94 44h1M104 47h1M112 50h1M120 50h1M122 51h1M111 52h1M113 52h1M128 52h1M100 53h1M111 53h1M113 54h1M114 54h1M118 55h1M123 56h1M110 57h1M120 57h1M110 58h1M113 59h1M119 60h1M87 63h1M110 74h1" stroke="#ff2000" stroke-width="1" fill="none"/>
</g>
<rect x="953.3" y="85.5" width="254.5" height="255.0" fill="none" stroke="#9a9a9a" stroke-width="1.3"/>
<line x1="952.8" y1="340.5" x2="1208.3" y2="340.5" stroke="#222" stroke-width="1.4"/>
<line x1="953.3" y1="85.5" x2="953.3" y2="340.5" stroke="#777" stroke-width="1.4"/>
<line x1="1085.0" y1="86.5" x2="1085.0" y2="340.5" stroke="#000" stroke-width="4"/>
<line x1="953.3" y1="207.8" x2="1207.8" y2="207.8" stroke="#000" stroke-width="3.6"/>
<path d="M953.5 340.5v7.5M972.1 340.5v4M983.0 340.5v4M990.7 340.5v4M996.7 340.5v4M1001.6 340.5v4M1005.7 340.5v4M1009.3 340.5v4M1012.5 340.5v4M1015.3 340.5v7.5M1033.7 340.5v4M1044.5 340.5v4M1052.1 340.5v4M1058.1 340.5v4M1062.9 340.5v4M1067.0 340.5v4M1070.6 340.5v4M1073.7 340.5v4M1076.5 340.5v7.5M1095.5 340.5v4M1106.6 340.5v4M1114.4 340.5v4M1120.5 340.5v4M1125.5 340.5v4M1129.7 340.5v4M1133.4 340.5v4M1136.6 340.5v4M1139.5 340.5v7.5M1158.3 340.5v4M1169.2 340.5v4M1177.0 340.5v4M1183.0 340.5v4M1188.0 340.5v4M1192.1 340.5v4M1195.8 340.5v4M1198.9 340.5v4M1201.8 340.5v7.5" stroke="#111" stroke-width="1.3" fill="none"/>
<path d="M953.3 308.7h-8M953.3 289.9h-4M953.3 278.9h-4M953.3 271.1h-4M953.3 265.1h-4M953.3 260.1h-4M953.3 256.0h-4M953.3 252.3h-4M953.3 249.2h-4M953.3 246.0h-8M953.3 227.2h-4M953.3 216.2h-4M953.3 208.4h-4M953.3 202.4h-4M953.3 197.4h-4M953.3 193.3h-4M953.3 189.6h-4M953.3 186.5h-4M953.3 184.2h-8M953.3 165.4h-4M953.3 154.4h-4M953.3 146.6h-4M953.3 140.6h-4M953.3 135.6h-4M953.3 131.5h-4M953.3 127.8h-4M953.3 124.7h-4M953.3 121.5h-8M953.3 102.7h-4M953.3 91.7h-4M953.3 333.5h-4M953.3 327.5h-4M953.3 322.5h-4M953.3 318.4h-4M953.3 314.7h-4M953.3 311.6h-4" stroke="#111" stroke-width="1.3" fill="none"/>
<g font-size="18.2" font-weight="bold" class="tl" stroke="#000" stroke-width="0.35" filter="url(#bt)">
<text x="955.9" y="385.8">10</text><text x="976.5" y="372.0">2</text>
<text x="1004.7" y="385.8">10</text><text x="1025.3" y="372.0">3</text>
<text x="1067.7" y="385.8">10</text><text x="1088.3" y="372.0">4</text>
<text x="1129.7" y="385.8">10</text><text x="1150.3" y="372.0">5</text>
<text x="1177.1" y="385.8">10</text><text x="1197.7" y="372.0">6</text>
<text x="911.7" y="321.0">10</text><text x="931.7" y="307.2">3</text>
<text x="911.7" y="258.3">10</text><text x="931.7" y="244.5">4</text>
<text x="911.7" y="196.5">10</text><text x="931.7" y="182.7">5</text>
<text x="911.7" y="133.8">10</text><text x="931.7" y="120.0">6</text>
</g>
<text x="972.2" y="120.8" font-size="31.5">34.4</text>
<g transform="translate(311.5,424.6) scale(1.333)" filter="url(#bl)">
<path d="M51 25h1M32 27h1M54 28h1M63 28h1M82 28h1M83 28h1M111 28h1M112 28h1M137 28h1M53 29h1M94 29h1M111 29h1M118 29h1M129 29h1M55 30h1M107 30h1M128 30h1M25 31h1M67 31h1M82 31h1M94 31h1M120 31h1M129 31h1M143 31h1M55 32h1M77 32h1M79 32h1M120 32h1M132 32h1M141 32h1M16 33h1M60 33h1M82 33h1M92 33h1M109 33h1M128 33h1M39 34h1M50 34h1M53 34h1M62 34h1M94 34h1M95 34h1M98 34h1M115 34h1M132 34h1M44 35h1M48 35h1M52 35h1M59 35h1M64 35h1M66 35h1M75 35h1M81 35h1M82 35h1M83 35h1M99 35h1M104 35h1M105 35h1M115 35h1M125 35h1M128 35h1M136 35h1M139 35h1M10 36h1M46 36h1M63 36h1M64 36h1M67 36h1M74 36h1M76 36h1M98 36h1M99 36h1M100 36h1M101 36h1M106 36h1M107 36h1M112 36h1M123 36h1M124 36h1M19 37h1M26 37h1M38 37h1M45 37h1M59 37h1M62 37h1M87 37h1M106 37h1M113 37h1M125 37h1M126 37h1M53 38h1M58 38h1M68 38h1M75 38h1M87 38h1M98 38h1M107 38h1M109 38h1M110 38h1M125 38h1M128 38h1M130 38h1M132 38h1M32 39h1M34 39h1M46 39h1M60 39h1M65 39h1M69 39h1M76 39h1M87 39h1M88 39h1M119 39h1M125 39h1M126 39h1M130 39h1M133 39h1M139 39h1M140 39h1M146 39h1M15 40h1M16 40h1M34 40h1M37 40h1M47 40h1M53 40h1M58 40h1M60 40h1M86 40h1M95 40h1M100 40h1M101 40h1M107 40h1M112 40h1M114 40h1M116 40h1M118 40h1M130 40h1M132 40h1M133 40h1M135 40h1M5 41h1M38 41h1M39 41h1M40 41h1M44 41h1M52 41h1M55 41h1M63 41h1M75 41h1M77 41h1M80 41h1M107 41h1M114 41h1M121 41h1M127 41h1M28 42h1M35 42h1M46 42h1M62 42h1M63 42h1M72 42h1M74 42h1M85 42h1M90 42h1M97 42h1M108 42h1M111 42h1M112 42h1M114 42h1M117 42h1M118 42h1M120 42h1M126 42h1M131 42h1M140 42h1M147 42h1M30 43h1M33 43h1M36 43h1M37 43h1M51 43h1M62 43h1M67 43h1M69 43h1M84 43h1M96 43h1M101 43h1M114 43h1M118 43h1M119 43h1M138 43h1M140 43h1M141 43h1M3 44h1M41 44h1M60 44h1M66 44h1M72 44h1M79 44h1M82 44h1M97 44h1M107 44h1M111 44h1M131 44h1M135 44h1M139 44h1M14 45h1M22 45h1M48 45h1M64 45h1M67 45h1M74 45h1M78 45h1M80 45h1M82 45h1M96 45h1M97 45h1M98 45h1M115 45h1M119 45h1M123 45h1M134 45h1M26 46h1M37 46h1M40 46h1M44 46h1M62 46h1M64 46h1M77 46h1M83 46h1M88 46h1M89 46h1M102 46h1M107 46h1M110 46h1M116 46h1M125 46h1M131 46h1M132 46h1M135 46h1M138 46h1M139 46h1M141 46h1M144 46h1M29 47h1M38 47h1M59 47h1M61 47h1M63 47h1M70 47h1M72 47h1M75 47h1M77 47h1M78 47h1M90 47h1M95 47h1M100 47h1M117 47h1M128 47h1M131 47h1M141 47h1M28 48h1M29 48h1M36 48h1M40 48h1M41 48h1M52 48h1M54 48h1M60 48h1M63 48h1M67 48h1M83 48h1M86 48h1M88 48h1M91 48h1M95 48h1M105 48h1M108 48h1M121 48h1M131 48h1M148 48h1M14 49h1M16 49h1M32 49h1M37 49h1M41 49h1M42 49h1M43 49h1M52 49h1M53 49h1M56 49h1M82 49h1M87 49h1M90 49h1M103 49h1M119 49h1M127 49h1M134 49h1M138 49h1M146 49h1M150 49h1M16 50h1M53 50h1M63 50h1M78 50h1M81 50h1M88 50h1M89 50h1M90 50h1M97 50h1M103 50h1M106 50h1M108 50h1M109 50h1M110 50h1M122 50h1M126 50h1M127 50h1M130 50h1M145 50h1M23 51h1M30 51h1M44 51h1M49 51h1M52 51h1M55 51h1M60 51h1M70 51h1M72 51h1M73 51h1M89 51h1M92 51h1M95 51h1M104 51h1M109 51h1M115 51h1M122 51h1M123 51h1M136 51h1M138 51h1M148 51h1M150 51h1M16 52h1M27 52h1M63 52h1M87 52h1M88 52h1M96 52h1M98 52h1M103 52h1M108 52h1M124 52h1M138 52h1M139 52h1M4 53h1M8 53h1M11 53h1M14 53h1M25 53h1M40 53h1M41 53h1M54 53h1M59 53h1M68 53h1M81 53h1M82 53h1M90 53h1M92 53h1M95 53h1M96 53h1M97 53h1M108 53h1M114 53h1M124 53h1M127 53h1M128 53h1M129 53h1M130 53h1M136 53h1M138 53h1M144 53h1M19 54h1M31 54h1M85 54h1M87 54h1M95 54h1M96 54h1M98 54h1M100 54h1M105 54h1M109 54h1M126 54h1M130 54h1M133 54h1M134 54h1M137 54h1M140 54h1M151 54h1M154 54h1M28 55h1M29 55h1M47 55h1M54 55h1M55 55h1M72 55h1M80 55h1M82 55h1M84 55h1M89 55h1M99 55h1M105 55h1M128 55h1M137 55h1M146 55h1M8 56h1M20 56h1M41 56h1M54 56h1M58 56h1M62 56h1M63 56h1M72 56h1M77 56h1M81 56h1M88 56h1M118 56h1M119 56h1M144 56h1M153 56h1M26 57h1M43 57h1M49 57h1M53 57h1M54 57h1M58 57h1M80 57h1M84 57h1M91 57h1M92 57h1M94 57h1M107 57h1M111 57h1M113 57h1M115 57h1M118 57h1M120 57h1M128 57h1M139 57h1M141 57h1M142 57h1M3 58h1M36 58h1M42 58h1M59 58h1M72 58h1M74 58h1M87 58h1M91 58h1M96 58h1M97 58h1M99 58h1M106 58h1M107 58h1M108 58h1M113 58h1M118 58h1M123 58h1M133 58h1M134 58h1M140 58h1M151 58h1M25 59h1M30 59h1M31 59h1M42 59h1M45 59h1M61 59h1M64 59h1M65 59h1M89 59h1M91 59h1M100 59h1M110 59h1M118 59h1M122 59h1M125 59h1M133 59h1M139 59h1M142 59h1M147 59h1M42 60h1M55 60h1M56 60h1M62 60h1M69 60h1M75 60h1M76 60h1M84 60h1M85 60h1M104 60h1M122 60h1M54 61h1M65 61h1M67 61h1M70 61h1M91 61h1M104 61h1M106 61h1M107 61h1M115 61h1M120 61h1M121 61h1M124 61h1M135 61h1M138 61h1M142 61h1M13 62h1M36 62h1M66 62h1M94 62h1M95 62h1M99 62h1M102 62h1M105 62h1M108 62h1M109 62h1M117 62h1M126 62h1M19 63h1M32 63h1M46 63h1M51 63h1M62 63h1M63 63h1M71 63h1M76 63h1M99 63h1M103 63h1M108 63h1M111 63h1M112 63h1M120 63h1M122 63h1M132 63h1M137 63h1M52 64h1M54 64h1M69 64h1M89 64h1M90 64h1M98 64h1M113 64h1M118 64h1M120 64h1M137 64h1M138 64h1M144 64h1M147 64h1M148 64h1M38 65h1M54 65h1M55 65h1M67 65h1M90 65h1M92 65h1M98 65h1M99 65h1M103 65h1M105 65h1M110 65h1M111 65h1M112 65h1M115 65h1M126 65h1M129 65h1M138 65h1M140 65h1M30 66h1M54 66h1M57 66h1M74 66h1M91 66h1M100 66h1M113 66h1M126 66h1M134 66h1M143 66h1M44 67h1M57 67h1M58 67h1M62 67h1M67 67h1M72 67h1M100 67h1M108 67h1M114 67h1M122 67h1M130 67h1M140 67h1M152 67h1M38 68h1M47 68h1M49 68h1M66 68h1M68 68h1M88 68h1M100 68h1M135 68h1M141 68h1M145 68h1M38 69h1M56 69h1M72 69h1M78 69h1M80 69h1M114 69h1M119 69h1M134 69h1M141 69h1M76 70h1M96 70h1M105 70h1M123 70h1M127 70h1M138 70h1M140 70h1M83 71h1M88 71h1M89 71h1M92 71h1M98 71h1M100 71h1M103 71h1M104 71h1M114 71h1M115 71h1M128 71h1M135 71h1M139 71h1M142 71h1M45 72h1M119 72h1M121 72h1M128 72h1M131 72h1M134 72h1M142 72h1M15 73h1M21 73h1M45 73h1M67 73h1M84 73h1M93 73h1M94 73h1M102 73h1M109 73h1M119 73h1M135 73h1M137 73h1M99 74h1M109 74h1M111 74h1M112 74h1M114 74h1M115 74h1M118 74h1M122 74h1M126 74h1M129 74h1M130 74h1M131 74h1M138 74h1M56 75h1M90 75h1M95 75h1M111 75h1M122 75h1M126 75h1M129 75h1M136 75h1M137 75h1M144 75h1M81 76h1M117 76h1M120 76h1M122 76h1M126 76h1M30 77h1M43 77h1M59 77h1M70 77h1M80 77h1M94 77h1M104 77h1M105 77h1M111 77h1M119 77h1M128 77h1M132 77h1M146 77h1M89 78h1M102 78h1M105 78h1M113 78h1M116 78h1M117 78h1M118 78h1M128 78h1M129 78h1M133 78h1M134 78h1M135 78h1M47 79h1M73 79h1M149 79h1M13 80h1M62 80h1M64 80h1M81 80h1M84 80h1M89 80h1M107 80h1M116 80h1M121 80h1M126 80h1M145 80h1M146 80h1M102 81h1M106 81h1M113 81h1M114 81h1M122 81h1M134 81h1M39 82h1M80 82h1M100 82h1M105 82h1M117 82h1M120 82h1M128 82h1M144 82h1M56 83h1M77 83h1M92 83h1M104 83h1M135 83h1M78 84h1M84 84h1M103 84h1M116 84h1M126 84h1M130 84h1M147 84h1M68 85h1M112 85h1M119 85h1M121 85h1M123 85h1M127 85h1M128 85h1M140 85h1M31 86h1M81 86h1M97 86h1M109 86h1M113 86h1M116 86h1M120 86h1M127 86h1M36 87h1M102 87h1M119 87h1M120 87h1M128 87h1M141 87h1M144 87h1M92 88h1M98 88h1M125 88h1M126 88h1M127 88h1M132 88h1M78 89h1M121 89h1M129 89h1M133 89h1M54 90h1M57 90h1M115 90h1M98 91h1M109 91h1M129 91h1M130 91h1M114 92h1M139 92h1M71 93h1M102 93h1M115 93h1M116 93h1M137 93h1M152 93h1M46 94h1M103 94h1M116 94h1M124 94h1M136 94h1M140 94h1M106 95h1M64 96h1M106 96h1M110 96h1M141 96h1M95 97h1M109 97h1M118 97h1M122 97h1M132 97h1M136 97h1M126 98h1M135 98h1M136 98h1M102 99h1M119 99h1M121 99h1M131 99h1M134 99h1M150 99h1M85 100h1M108 100h1M110 100h1M146 101h1M96 102h1M116 102h1M126 102h1M95 103h1M112 104h1M118 104h1M120 104h1M58 105h1M102 105h1M104 105h1M114 106h1M136 106h1M138 106h1M141 106h1M96 107h1M113 107h1M122 107h1M129 108h1M152 108h1M113 110h1M115 110h1M130 110h1M136 110h1M142 111h1M122 112h1M91 113h1M103 113h1M121 113h1M135 113h1M139 113h1M110 114h1M116 114h1M117 114h1M129 114h1M106 115h1M134 115h1M83 116h1M109 116h1M114 116h1M115 117h1M117 117h1M132 117h1M137 117h1M126 118h1M146 118h1M61 119h1M130 119h1M113 120h1M118 120h1M141 120h1M144 121h1M39 122h1M118 122h1M126 122h1M132 123h1M139 124h1M136 125h1M149 125h1M58 126h1M103 126h1M131 126h1M142 126h1M146 126h1M147 126h1M77 127h1M84 127h1M105 127h1M145 127h1M152 127h1M103 128h1M139 128h1M140 128h1M94 129h1M98 129h1M120 129h1M129 129h1M53 130h1M80 130h1M87 130h1M106 130h1M114 130h1M131 130h1M144 130h1M84 131h1M89 131h1M119 131h1M59 132h1M117 132h1M74 133h1M120 133h1M131 133h1M143 133h1M54 134h1M64 134h1M104 134h1M105 134h1M109 134h1M112 134h1M115 134h1M138 134h1M143 134h1M85 135h1M93 135h1M96 135h1M130 135h1M117 136h1M128 136h1M137 136h1M150 136h1M151 136h1M98 137h1M103 137h1M117 137h1M121 137h1M60 138h1M97 138h1M71 139h1M107 139h1M113 139h1M144 139h1M79 140h1M85 140h1M101 140h1M106 140h1M135 140h1M140 140h1M44 141h1M108 141h1M119 141h1M136 141h1M47 142h1M72 142h1M104 142h1M119 142h1M121 142h1M137 142h1M138 142h1M141 142h1M147 142h1M155 142h1M66 143h1M88 143h1M97 143h1M120 143h1M121 143h1M125 143h1M95 144h1M68 145h1M76 145h1M79 145h1M109 145h1M110 145h1M111 145h1M114 145h1M72 146h1M95 146h1M120 146h1M133 146h1M137 146h1M93 147h1M117 147h1M138 147h1M135 148h1M105 149h1M136 149h1M144 149h1M74 151h1M83 151h1M102 152h1M114 152h1M151 152h1M14 153h1M71 153h1M77 153h1M102 153h1M104 153h1M106 153h1M120 153h1M130 153h1M41 154h1M121 154h1M42 155h1M61 155h1M99 155h1M107 155h1M113 155h1M114 155h1M151 155h1M108 156h1M113 156h1M31 157h1M126 157h1M93 158h1M98 158h1M108 158h1M113 158h1M124 158h1M94 159h1M105 159h1M111 159h1M117 159h1M130 159h1M152 159h1M60 160h1M86 160h1M113 160h1M120 160h1M148 160h1M149 160h1M66 161h1M97 161h1M114 161h1M131 161h1M88 162h1M92 162h1M111 162h1M124 162h1M97 163h1M107 163h1M121 163h1M132 163h1M84 164h1M91 164h1M81 165h1M105 165h1M107 165h1M124 165h1M127 166h1M130 166h1M97 167h1M104 167h1M132 167h1M137 168h1M86 169h1M105 169h1M129 169h1M80 170h1M100 170h1M102 170h1M116 170h1M68 171h1M73 172h1M81 172h1M85 172h1M104 172h1M107 172h1M115 172h1M132 172h1M49 173h1M102 173h1M103 173h1M114 173h1M123 173h1M70 174h1M71 174h1M79 174h1M80 174h1M83 174h1M107 174h1M114 174h1M113 175h1M123 175h1M136 175h1M86 176h1M96 176h1M116 176h1M148 176h1M61 177h1M147 177h1M63 178h1M117 178h1M57 180h1M77 180h1M93 180h1M101 180h1M108 180h1M95 181h1M102 181h1M123 181h1M75 182h1M95 182h1M106 182h1M125 182h1M73 183h1M84 183h1M103 183h1M105 183h1M108 183h1M117 183h1M123 183h1M107 184h1M109 184h1M113 184h1M120 184h1M124 184h1M117 185h1M122 185h1M115 186h1M107 187h1M112 187h1M113 187h1M115 187h1M62 188h1M110 188h1M26 189h1M105 189h1M142 189h1" stroke="#ccccff" stroke-width="1" fill="none"/>
<path d="M108 25h1M48 27h1M84 30h1M123 31h1M21 32h1M47 32h1M69 32h1M116 32h1M61 33h1M65 33h1M96 33h1M119 33h1M127 33h1M144 33h1M35 34h1M40 34h1M42 34h1M52 34h1M75 34h1M107 34h1M117 34h1M125 34h1M68 35h1M101 35h1M108 35h1M110 35h1M118 35h1M123 35h1M126 35h1M138 35h1M68 36h1M72 36h1M77 36h1M93 36h1M121 36h1M135 36h1M25 37h1M44 37h1M54 37h1M57 37h1M71 37h1M75 37h1M92 37h1M98 37h1M100 37h1M107 37h1M118 37h1M122 37h1M18 38h1M33 38h1M57 38h1M60 38h1M99 38h1M102 38h1M103 38h1M105 38h1M114 38h1M116 38h1M129 38h1M137 38h1M27 39h1M40 39h1M73 39h1M92 39h1M96 39h1M112 39h1M118 39h1M135 39h1M137 39h1M33 40h1M36 40h1M63 40h1M85 40h1M120 40h1M128 40h1M144 40h1M13 41h1M57 41h1M60 41h1M61 41h1M82 41h1M96 41h1M105 41h1M113 41h1M123 41h1M27 42h1M47 42h1M49 42h1M77 42h1M82 42h1M83 42h1M99 42h1M110 42h1M127 42h1M133 42h1M143 42h1M11 43h1M40 43h1M71 43h1M74 43h1M79 43h1M92 43h1M95 43h1M99 43h1M102 43h1M134 43h1M150 43h1M19 44h1M23 44h1M31 44h1M48 44h1M53 44h1M64 44h1M74 44h1M75 44h1M77 44h1M116 44h1M117 44h1M136 44h1M142 44h1M31 45h1M50 45h1M51 45h1M63 45h1M70 45h1M76 45h1M83 45h1M89 45h1M95 45h1M103 45h1M105 45h1M113 45h1M130 45h1M136 45h1M36 46h1M65 46h1M69 46h1M76 46h1M78 46h1M94 46h1M127 46h1M129 46h1M147 46h1M6 47h1M32 47h1M44 47h1M53 47h1M67 47h1M84 47h1M114 47h1M62 48h1M64 48h1M77 48h1M78 48h1M79 48h1M80 48h1M89 48h1M106 48h1M110 48h1M112 48h1M120 48h1M135 48h1M142 48h1M15 49h1M36 49h1M48 49h1M54 49h1M68 49h1M71 49h1M81 49h1M89 49h1M92 49h1M108 49h1M141 49h1M144 49h1M21 50h1M38 50h1M39 50h1M40 50h1M43 50h1M46 50h1M49 50h1M54 50h1M74 50h1M91 50h1M98 50h1M131 50h1M134 50h1M136 50h1M157 50h1M13 51h1M15 51h1M25 51h1M71 51h1M78 51h1M85 51h1M90 51h1M93 51h1M118 51h1M119 51h1M135 51h1M30 52h1M35 52h1M38 52h1M54 52h1M57 52h1M79 52h1M80 52h1M101 52h1M107 52h1M115 52h1M125 52h1M126 52h1M132 52h1M140 52h1M17 53h1M44 53h1M62 53h1M63 53h1M93 53h1M116 53h1M123 53h1M126 53h1M133 53h1M134 53h1M137 53h1M55 54h1M66 54h1M67 54h1M68 54h1M81 54h1M114 54h1M120 54h1M121 54h1M127 54h1M129 54h1M146 54h1M12 55h1M58 55h1M60 55h1M71 55h1M87 55h1M102 55h1M136 55h1M139 55h1M147 55h1M65 56h1M91 56h1M95 56h1M99 56h1M122 56h1M128 56h1M136 56h1M45 57h1M96 57h1M106 57h1M117 57h1M147 57h1M49 58h1M77 58h1M78 58h1M81 58h1M86 58h1M98 58h1M110 58h1M126 58h1M142 58h1M18 59h1M70 59h1M77 59h1M81 59h1M111 59h1M121 59h1M130 59h1M131 59h1M136 59h1M4 60h1M33 60h1M50 60h1M66 60h1M79 60h1M94 60h1M101 60h1M102 60h1M107 60h1M108 60h1M109 60h1M117 60h1M124 60h1M130 60h1M136 60h1M75 61h1M95 61h1M102 61h1M127 61h1M136 61h1M147 61h1M12 62h1M70 62h1M73 62h1M88 62h1M107 62h1M113 62h1M123 62h1M131 62h1M150 62h1M43 63h1M45 63h1M55 63h1M75 63h1M101 63h1M109 63h1M125 63h1M131 63h1M139 63h1M148 63h1M149 63h1M66 64h1M82 64h1M128 64h1M139 64h1M150 64h1M74 65h1M104 65h1M114 65h1M127 65h1M130 65h1M136 65h1M137 65h1M151 65h1M78 66h1M102 66h1M111 66h1M115 66h1M117 66h1M123 66h1M130 66h1M22 67h1M47 67h1M60 67h1M92 67h1M106 67h1M112 67h1M137 67h1M144 67h1M20 68h1M85 68h1M93 68h1M105 68h1M107 68h1M138 68h1M146 68h1M26 69h1M71 69h1M82 69h1M116 69h1M135 69h1M44 70h1M104 70h1M110 70h1M118 70h1M125 70h1M129 70h1M139 70h1M155 70h1M51 71h1M59 71h1M106 71h1M111 71h1M117 71h1M120 71h1M121 71h1M145 71h1M51 72h1M57 72h1M77 72h1M107 72h1M122 72h1M132 72h1M148 72h1M100 73h1M114 73h1M118 73h1M136 73h1M149 73h1M80 74h1M106 74h1M116 74h1M85 75h1M116 75h1M95 76h1M102 76h1M109 76h1M137 76h1M140 76h1M147 76h1M85 77h1M91 77h1M96 77h1M98 77h1M124 77h1M125 77h1M129 77h1M121 78h1M127 78h1M131 78h1M132 78h1M137 78h1M83 79h1M111 79h1M120 79h1M126 79h1M134 79h1M99 80h1M100 80h1M101 80h1M103 80h1M124 80h1M130 80h1M142 80h1M90 81h1M112 81h1M117 81h1M75 82h1M112 82h1M131 82h1M152 82h1M71 83h1M103 83h1M105 83h1M113 83h1M126 83h1M45 84h1M70 84h1M110 84h1M124 84h1M131 84h1M35 85h1M84 85h1M93 85h1M118 85h1M95 86h1M100 86h1M101 86h1M119 86h1M123 86h1M92 87h1M104 87h1M85 88h1M140 88h1M74 89h1M138 89h1M122 90h1M136 90h1M142 90h1M144 90h1M152 90h1M122 91h1M101 94h1M119 94h1M132 94h1M101 95h1M113 95h1M126 95h1M146 95h1M107 96h1M43 97h1M61 97h1M143 97h1M43 98h1M111 99h1M112 99h1M139 99h1M104 100h1M57 102h1M108 104h1M125 104h1M116 105h1M129 105h1M131 105h1M135 107h1M127 108h1M116 109h1M142 109h1M126 110h1M140 110h1M116 111h1M120 111h1M107 113h1M111 113h1M74 115h1M95 116h1M88 117h1M105 118h1M128 118h1M136 118h1M127 119h1M130 120h1M108 122h1M111 122h1M141 122h1M102 123h1M117 123h1M132 124h1M94 126h1M123 127h1M51 128h1M115 130h1M79 131h1M133 131h1M143 131h1M123 132h1M140 132h1M42 133h1M97 133h1M129 133h1M107 134h1M123 134h1M144 134h1M136 135h1M64 136h1M95 137h1M99 137h1M105 137h1M141 137h1M93 138h1M99 138h1M124 138h1M139 138h1M104 139h1M126 139h1M39 140h1M107 140h1M61 142h1M143 142h1M54 143h1M57 143h1M129 143h1M61 144h1M106 144h1M78 145h1M107 145h1M58 148h1M96 148h1M142 148h1M39 149h1M101 149h1M104 149h1M117 149h1M105 150h1M120 150h1M129 150h1M136 151h1M148 151h1M103 152h1M113 152h1M103 153h1M116 153h1M97 154h1M117 154h1M78 155h1M65 156h1M79 156h1M110 156h1M121 156h1M54 157h1M103 157h1M56 158h1M87 158h1M89 159h1M110 159h1M120 159h1M77 160h1M60 161h1M72 161h1M126 161h1M110 162h1M108 163h1M109 163h1M118 164h1M37 165h1M116 165h1M57 166h1M123 166h1M137 166h1M144 166h1M99 167h1M65 168h1M67 168h1M80 169h1M102 169h1M113 169h1M130 169h1M70 170h1M91 170h1M120 170h1M105 172h1M121 172h1M120 173h1M79 175h1M103 175h1M64 177h1M139 177h1M77 178h1M111 178h1M122 178h1M138 178h1M146 179h1M88 180h1M99 180h1M112 180h1M107 181h1M131 182h1M133 182h1M57 183h1M116 183h1M126 183h1M148 183h1M87 184h1M86 185h1M153 185h1M119 186h1M105 187h1M127 187h1M64 188h1M148 188h1" stroke="#9090ff" stroke-width="1" fill="none"/>
<path d="M114 26h1M73 27h1M112 27h1M87 28h1M15 29h1M76 29h1M93 29h1M127 29h1M40 30h1M41 30h1M110 30h1M119 30h1M66 31h1M89 31h1M105 31h1M111 31h1M32 32h1M48 32h1M53 32h1M57 32h1M64 32h1M75 32h1M102 32h1M106 32h1M110 32h1M118 32h1M13 33h1M54 33h1M97 33h1M104 33h1M111 33h1M114 33h1M117 33h1M122 33h1M139 33h1M73 34h1M111 34h1M112 34h1M113 34h1M116 34h1M126 34h1M46 35h1M54 35h1M60 35h1M109 35h1M119 35h1M130 35h1M56 36h1M59 36h1M96 36h1M103 36h1M122 36h1M125 36h1M131 36h1M27 37h1M34 37h1M47 37h1M48 37h1M52 37h1M53 37h1M72 37h1M80 37h1M91 37h1M96 37h1M104 37h1M109 37h1M127 37h1M11 38h1M37 38h1M50 38h1M56 38h1M65 38h1M77 38h1M82 38h1M84 38h1M93 38h1M106 38h1M112 38h1M121 38h1M124 38h1M38 39h1M50 39h1M58 39h1M62 39h1M67 39h1M68 39h1M70 39h1M72 39h1M74 39h1M79 39h1M91 39h1M94 39h1M98 39h1M106 39h1M110 39h1M116 39h1M120 39h1M132 39h1M21 40h1M42 40h1M43 40h1M49 40h1M55 40h1M59 40h1M61 40h1M70 40h1M76 40h1M77 40h1M79 40h1M108 40h1M122 40h1M138 40h1M140 40h1M25 41h1M34 41h1M46 41h1M65 41h1M81 41h1M83 41h1M98 41h1M109 41h1M126 41h1M143 41h1M38 42h1M52 42h1M58 42h1M59 42h1M66 42h1M71 42h1M78 42h1M91 42h1M98 42h1M100 42h1M105 42h1M107 42h1M109 42h1M113 42h1M116 42h1M125 42h1M129 42h1M132 42h1M149 42h1M35 43h1M39 43h1M45 43h1M54 43h1M59 43h1M66 43h1M77 43h1M83 43h1M88 43h1M93 43h1M97 43h1M98 43h1M100 43h1M108 43h1M112 43h1M113 43h1M116 43h1M121 43h1M137 43h1M29 44h1M36 44h1M42 44h1M50 44h1M70 44h1M76 44h1M86 44h1M90 44h1M103 44h1M115 44h1M118 44h1M128 44h1M144 44h1M150 44h1M19 45h1M23 45h1M24 45h1M35 45h1M38 45h1M44 45h1M47 45h1M62 45h1M73 45h1M81 45h1M94 45h1M102 45h1M104 45h1M122 45h1M126 45h1M128 45h1M132 45h1M142 45h1M146 45h1M147 45h1M21 46h1M22 46h1M42 46h1M51 46h1M52 46h1M86 46h1M91 46h1M98 46h1M112 46h1M114 46h1M115 46h1M120 46h1M7 47h1M20 47h1M24 47h1M41 47h1M47 47h1M50 47h1M52 47h1M83 47h1M94 47h1M105 47h1M109 47h1M119 47h1M120 47h1M124 47h1M134 47h1M142 47h1M24 48h1M27 48h1M37 48h1M46 48h1M57 48h1M58 48h1M73 48h1M102 48h1M128 48h1M143 48h1M150 48h1M21 49h1M45 49h1M55 49h1M57 49h1M84 49h1M93 49h1M94 49h1M97 49h1M100 49h1M121 49h1M126 49h1M130 49h1M132 49h1M26 50h1M56 50h1M58 50h1M60 50h1M72 50h1M102 50h1M104 50h1M112 50h1M142 50h1M151 50h1M14 51h1M22 51h1M28 51h1M34 51h1M59 51h1M66 51h1M75 51h1M87 51h1M102 51h1M105 51h1M125 51h1M130 51h1M131 51h1M137 51h1M139 51h1M145 51h1M149 51h1M31 52h1M41 52h1M58 52h1M60 52h1M64 52h1M66 52h1M67 52h1M68 52h1M72 52h1M81 52h1M89 52h1M100 52h1M102 52h1M118 52h1M119 52h1M120 52h1M39 53h1M42 53h1M45 53h1M66 53h1M71 53h1M78 53h1M89 53h1M99 53h1M110 53h1M118 53h1M153 53h1M16 54h1M35 54h1M45 54h1M61 54h1M64 54h1M111 54h1M117 54h1M128 54h1M4 55h1M32 55h1M43 55h1M61 55h1M66 55h1M101 55h1M112 55h1M117 55h1M119 55h1M123 55h1M127 55h1M135 55h1M10 56h1M15 56h1M24 56h1M31 56h1M39 56h1M86 56h1M98 56h1M126 56h1M134 56h1M145 56h1M151 56h1M8 57h1M33 57h1M59 57h1M66 57h1M68 57h1M70 57h1M72 57h1M82 57h1M83 57h1M85 57h1M86 57h1M90 57h1M103 57h1M105 57h1M132 57h1M26 58h1M38 58h1M48 58h1M61 58h1M100 58h1M114 58h1M121 58h1M122 58h1M137 58h1M23 59h1M28 59h1M54 59h1M76 59h1M84 59h1M85 59h1M88 59h1M94 59h1M103 59h1M115 59h1M117 59h1M127 59h1M132 59h1M145 59h1M26 60h1M87 60h1M89 60h1M92 60h1M112 60h1M116 60h1M119 60h1M120 60h1M127 60h1M132 60h1M134 60h1M143 60h1M144 60h1M35 61h1M41 61h1M66 61h1M85 61h1M93 61h1M98 61h1M103 61h1M122 61h1M130 61h1M140 61h1M145 61h1M156 61h1M53 62h1M54 62h1M61 62h1M75 62h1M82 62h1M86 62h1M97 62h1M100 62h1M121 62h1M135 62h1M136 62h1M149 62h1M160 62h1M64 63h1M77 63h1M81 63h1M84 63h1M116 63h1M124 63h1M126 63h1M138 63h1M141 63h1M145 63h1M53 64h1M64 64h1M71 64h1M72 64h1M80 64h1M97 64h1M102 64h1M115 64h1M146 64h1M75 65h1M81 65h1M102 65h1M122 65h1M131 65h1M148 65h1M35 66h1M48 66h1M86 66h1M103 66h1M110 66h1M128 66h1M136 66h1M142 66h1M79 67h1M89 67h1M120 67h1M127 67h1M74 68h1M84 68h1M99 68h1M104 68h1M110 68h1M117 68h1M123 68h1M125 68h1M126 68h1M128 68h1M129 68h1M140 68h1M143 68h1M147 68h1M70 69h1M74 69h1M88 69h1M96 69h1M98 69h1M99 69h1M111 69h1M112 69h1M115 69h1M117 69h1M118 69h1M129 69h1M130 69h1M143 69h1M53 70h1M100 70h1M116 70h1M117 70h1M126 70h1M128 70h1M135 70h1M19 71h1M81 71h1M85 71h1M101 71h1M102 71h1M122 71h1M123 71h1M131 71h1M133 71h1M56 72h1M80 72h1M93 72h1M95 72h1M96 72h1M99 72h1M109 72h1M111 72h1M120 72h1M124 72h1M127 72h1M133 72h1M70 73h1M105 73h1M128 73h1M132 73h1M40 74h1M63 74h1M78 74h1M82 74h1M86 74h1M98 74h1M101 74h1M103 74h1M108 74h1M119 74h1M136 74h1M137 74h1M53 75h1M76 75h1M127 75h1M130 75h1M146 75h1M45 76h1M64 76h1M99 76h1M113 76h1M119 76h1M130 76h1M58 77h1M102 77h1M114 77h1M120 77h1M123 77h1M140 77h1M152 77h1M47 78h1M75 78h1M114 78h1M130 78h1M61 79h1M65 79h1M71 79h1M98 79h1M101 79h1M117 79h1M122 79h1M130 79h1M111 80h1M114 80h1M119 80h1M139 80h1M56 81h1M123 81h1M127 81h1M136 81h1M142 81h1M40 82h1M86 82h1M114 82h1M135 82h1M148 82h1M73 83h1M80 83h1M93 83h1M97 83h1M107 83h1M110 83h1M111 83h1M116 83h1M118 83h1M120 83h1M121 83h1M123 83h1M133 83h1M140 83h1M98 84h1M140 84h1M153 84h1M126 85h1M129 85h1M145 85h1M108 86h1M115 86h1M128 86h1M136 86h1M145 86h1M98 87h1M115 87h1M133 87h1M135 87h1M99 88h1M110 88h1M114 88h1M123 88h1M141 88h1M145 88h1M127 89h1M78 90h1M83 90h1M85 90h1M109 90h1M127 90h1M135 90h1M138 90h1M63 91h1M101 91h1M114 91h1M133 91h1M26 92h1M115 92h1M131 92h1M132 92h1M56 93h1M112 93h1M132 93h1M105 94h1M107 94h1M117 95h1M134 95h1M145 95h1M108 97h1M124 97h1M129 97h1M134 98h1M153 98h1M122 99h1M124 100h1M134 100h1M101 101h1M105 103h1M104 104h1M111 106h1M112 106h1M124 106h1M137 106h1M29 107h1M88 107h1M107 107h1M109 107h1M104 108h1M97 109h1M114 109h1M123 109h1M105 110h1M107 110h1M140 111h1M139 112h1M131 113h1M132 114h1M137 114h1M98 115h1M141 115h1M113 116h1M116 116h1M117 116h1M120 117h1M113 118h1M144 118h1M84 119h1M143 119h1M145 119h1M111 120h1M121 120h1M137 120h1M56 121h1M93 121h1M114 121h1M117 121h1M106 122h1M127 122h1M92 123h1M112 123h1M116 124h1M120 125h1M146 125h1M79 126h1M144 126h1M99 127h1M111 127h1M126 127h1M139 127h1M141 127h1M118 128h1M137 129h1M146 130h1M117 131h1M98 132h1M132 132h1M137 132h1M105 133h1M113 133h1M115 133h1M121 133h1M140 133h1M111 134h1M113 134h1M146 134h1M116 135h1M125 135h1M41 136h1M114 136h1M123 136h1M142 136h1M49 138h1M64 138h1M150 138h1M128 139h1M112 140h1M123 140h1M136 140h1M104 141h1M114 141h1M127 141h1M147 141h1M108 142h1M41 143h1M93 143h1M105 143h1M126 143h1M99 144h1M102 144h1M120 144h1M98 145h1M108 145h1M134 145h1M144 145h1M145 145h1M57 146h1M105 146h1M109 146h1M135 146h1M148 146h1M48 147h1M95 147h1M101 147h1M82 148h1M121 148h1M66 149h1M99 149h1M102 149h1M115 149h1M136 150h1M80 151h1M119 151h1M105 153h1M115 153h1M134 153h1M135 153h1M75 154h1M95 154h1M114 154h1M123 154h1M127 154h1M64 155h1M103 155h1M111 155h1M138 155h1M132 156h1M138 156h1M114 157h1M83 158h1M84 158h1M129 158h1M134 158h1M53 159h1M76 159h1M81 159h1M118 159h1M121 159h1M133 159h1M136 159h1M87 160h1M100 160h1M116 160h1M50 161h1M104 161h1M49 163h1M131 163h1M92 164h1M109 164h1M119 164h1M126 164h1M145 164h1M129 165h1M40 166h1M80 166h1M100 166h1M136 166h1M141 166h1M83 167h1M93 167h1M109 167h1M113 167h1M128 167h1M66 168h1M72 168h1M116 168h1M66 169h1M88 169h1M104 169h1M111 169h1M42 170h1M68 170h1M110 170h1M114 170h1M133 170h1M62 171h1M115 171h1M57 172h1M86 172h1M109 173h1M145 173h1M16 174h1M50 174h1M94 174h1M127 174h1M99 175h1M141 175h1M64 176h1M135 177h1M145 177h1M60 178h1M93 179h1M136 179h1M120 180h1M123 180h1M129 180h1M110 181h1M119 181h1M90 183h1M135 183h1M112 185h1M114 185h1M133 185h1M87 186h1M105 186h1M106 186h1M125 186h1M114 187h1M131 187h1M57 188h1M82 188h1M125 188h1M130 188h1M108 189h1" stroke="#1010ff" stroke-width="1" fill="none"/>
<path d="M123 30h1M84 31h1M132 31h1M103 32h1M94 33h1M51 34h1M65 34h1M120 34h1M61 36h1M88 37h1M103 37h1M110 37h1M63 38h1M79 38h1M119 38h1M122 38h1M53 39h1M122 39h1M131 39h1M141 39h1M26 40h1M56 40h1M97 40h1M110 40h1M121 40h1M127 40h1M41 41h1M64 41h1M118 41h1M122 41h1M124 41h1M128 41h1M24 42h1M36 42h1M55 42h1M60 42h1M64 42h1M84 42h1M95 42h1M128 42h1M146 42h1M28 43h1M61 43h1M73 43h1M85 43h1M124 43h1M139 43h1M37 44h1M68 44h1M69 44h1M85 44h1M101 44h1M105 44h1M108 44h1M112 44h1M120 44h1M137 44h1M65 45h1M88 45h1M91 45h1M93 45h1M106 45h1M120 45h1M124 45h1M39 46h1M53 46h1M59 46h1M61 46h1M66 46h1M85 46h1M93 46h1M95 46h1M99 46h1M108 46h1M122 46h1M54 47h1M56 47h1M68 47h1M79 47h1M118 47h1M125 47h1M127 47h1M146 47h1M38 48h1M103 48h1M107 48h1M109 48h1M125 48h1M76 49h1M96 49h1M106 49h1M114 49h1M120 49h1M122 49h1M128 49h1M136 49h1M51 50h1M65 50h1M111 50h1M118 50h1M139 50h1M65 51h1M68 51h1M69 51h1M82 51h1M110 51h1M111 51h1M113 51h1M114 51h1M116 51h1M126 51h1M133 51h1M56 52h1M105 52h1M106 52h1M112 52h1M113 52h1M116 52h1M121 52h1M101 53h1M104 53h1M107 53h1M113 53h1M120 53h1M92 54h1M102 54h1M115 54h1M123 54h1M135 54h1M136 54h1M139 54h1M94 55h1M106 55h1M107 55h1M109 55h1M113 55h1M116 55h1M120 55h1M132 55h1M85 56h1M96 56h1M113 56h1M117 56h1M121 56h1M142 56h1M56 57h1M73 57h1M97 57h1M99 57h1M109 57h1M116 57h1M119 57h1M122 57h1M124 57h1M130 57h1M137 57h1M144 57h1M43 58h1M67 58h1M104 58h1M115 58h1M119 58h1M124 58h1M125 58h1M127 58h1M135 58h1M136 58h1M138 58h1M145 58h1M74 59h1M96 59h1M105 59h1M114 59h1M120 59h1M123 59h1M126 59h1M141 59h1M98 60h1M100 60h1M105 60h1M61 61h1M94 61h1M109 61h1M111 61h1M126 61h1M128 61h1M141 61h1M49 62h1M118 62h1M119 62h1M120 62h1M95 63h1M113 63h1M114 63h1M117 63h1M118 63h1M127 63h1M133 63h1M68 64h1M100 64h1M132 64h1M133 64h1M153 64h1M106 65h1M123 65h1M105 66h1M125 66h1M127 66h1M140 66h1M103 67h1M110 67h1M142 67h1M101 68h1M118 68h1M121 68h1M90 69h1M109 69h1M126 69h1M132 69h1M120 70h1M69 71h1M96 71h1M97 71h1M127 71h1M50 72h1M97 72h1M108 72h1M110 72h1M114 72h1M126 72h1M147 72h1M88 73h1M99 73h1M115 73h1M126 73h1M141 73h1M100 74h1M105 74h1M113 74h1M121 74h1M133 74h1M89 75h1M113 75h1M119 75h1M42 76h1M114 76h1M64 77h1M109 77h1M118 77h1M126 77h1M136 77h1M137 77h1M103 78h1M106 78h1M108 78h1M115 78h1M119 78h1M105 79h1M125 79h1M136 79h1M134 80h1M136 80h1M118 81h1M128 81h1M132 84h1M107 86h1M122 86h1M112 87h1M112 88h1M107 89h1M113 89h1M130 89h1M108 93h1M138 93h1M102 109h1M123 122h1M128 128h1M108 130h1M139 139h1M94 150h1M112 150h1M113 150h1M133 160h1M70 161h1M112 164h1M111 176h1M86 179h1M105 179h1M119 189h1" stroke="#0000f0" stroke-width="1" fill="none"/>
<path d="M98 33h1M115 33h1M66 34h1M86 35h1M103 35h1M113 35h1M120 35h1M45 36h1M55 36h1M71 36h1M119 36h1M46 37h1M117 37h1M119 37h1M123 37h1M32 38h1M83 38h1M115 38h1M117 38h1M146 38h1M36 39h1M56 39h1M97 39h1M113 39h1M29 40h1M75 40h1M89 40h1M102 40h1M119 40h1M129 40h1M43 41h1M50 41h1M51 41h1M66 41h1M72 41h1M84 41h1M95 41h1M117 41h1M119 41h1M136 41h1M138 41h1M79 42h1M80 42h1M115 42h1M121 42h1M124 42h1M47 43h1M56 43h1M89 43h1M104 43h1M117 43h1M126 43h1M127 43h1M130 43h1M143 43h1M45 44h1M59 44h1M67 44h1M84 44h1M87 44h1M89 44h1M104 44h1M109 44h1M110 44h1M122 44h1M125 44h1M57 45h1M87 45h1M99 45h1M114 45h1M129 45h1M43 46h1M75 46h1M96 46h1M101 46h1M103 46h1M104 46h1M119 46h1M134 46h1M137 46h1M25 47h1M51 47h1M64 47h1M73 47h1M97 47h1M101 47h1M107 47h1M110 47h1M121 47h1M122 47h1M123 47h1M130 47h1M145 47h1M45 48h1M48 48h1M51 48h1M66 48h1M97 48h1M104 48h1M127 48h1M62 49h1M73 49h1M88 49h1M99 49h1M104 49h1M113 49h1M117 49h1M125 49h1M35 50h1M55 50h1M75 50h1M101 50h1M114 50h1M115 50h1M120 50h1M43 51h1M81 51h1M97 51h1M106 51h1M107 51h1M112 51h1M121 51h1M28 52h1M65 52h1M91 52h1M117 52h1M122 52h1M129 52h1M50 53h1M103 53h1M111 53h1M115 53h1M135 53h1M37 54h1M44 54h1M65 54h1M73 54h1M74 54h1M93 54h1M101 54h1M113 54h1M138 54h1M56 55h1M91 55h1M110 55h1M115 55h1M121 55h1M122 55h1M125 55h1M129 55h1M47 56h1M71 56h1M92 56h1M93 56h1M97 56h1M100 56h1M106 56h1M108 56h1M127 56h1M137 56h1M126 57h1M109 58h1M112 58h1M116 58h1M129 58h1M106 59h1M124 59h1M140 59h1M60 60h1M97 60h1M103 60h1M129 60h1M142 60h1M146 60h1M82 61h1M105 61h1M108 61h1M117 61h1M79 62h1M112 62h1M125 62h1M128 62h1M130 62h1M133 62h1M87 63h1M102 63h1M110 63h1M119 63h1M129 63h1M87 64h1M92 64h1M95 64h1M106 64h1M107 64h1M111 64h1M117 64h1M121 64h1M119 65h1M125 65h1M135 65h1M139 65h1M94 66h1M101 66h1M112 66h1M138 66h1M103 68h1M116 68h1M119 68h1M122 68h1M31 69h1M76 69h1M77 69h1M83 69h1M95 69h1M103 69h1M120 69h1M112 70h1M115 70h1M130 70h1M73 71h1M112 71h1M113 71h1M132 71h1M100 72h1M106 73h1M107 73h1M108 73h1M121 73h1M142 73h1M120 74h1M123 74h1M127 74h1M128 74h1M112 75h1M115 75h1M85 76h1M106 76h1M125 76h1M134 76h1M62 78h1M85 78h1M120 78h1M135 80h1M94 81h1M133 81h1M106 82h1M115 82h1M132 82h1M115 83h1M120 84h1M121 84h1M107 88h1M137 88h1M134 92h1M112 103h1M128 122h1M114 134h1M120 135h1M109 139h1M131 145h1M117 148h1M147 150h1M141 153h1M104 166h1M130 167h1M108 170h1M116 171h1M108 173h1M104 183h1" stroke="#40e818" stroke-width="1" fill="none"/>
<path d="M101 33h1M116 33h1M89 36h1M141 36h1M106 40h1M115 40h1M100 41h1M120 41h1M56 42h1M92 42h1M87 43h1M125 43h1M49 44h1M99 44h1M121 44h1M21 45h1M116 45h1M118 45h1M121 45h1M125 45h1M100 46h1M117 46h1M121 46h1M123 46h1M136 46h1M74 47h1M111 47h1M129 47h1M74 48h1M101 48h1M113 48h1M114 48h1M132 48h1M31 49h1M59 49h1M105 49h1M116 49h1M118 49h1M76 50h1M116 50h1M129 50h1M103 51h1M108 51h1M127 51h1M128 51h1M40 52h1M110 52h1M111 52h1M127 52h1M128 52h1M130 52h1M106 53h1M109 53h1M112 53h1M122 54h1M124 54h1M114 56h1M55 57h1M104 57h1M121 57h1M127 57h1M111 58h1M117 58h1M132 58h1M87 59h1M109 59h1M119 59h1M129 59h1M118 61h1M123 61h1M131 61h1M129 62h1M134 62h1M142 63h1M114 64h1M134 64h1M107 65h1M109 65h1M121 65h1M93 66h1M124 66h1M132 66h1M118 67h1M125 67h1M128 67h1M109 68h1M111 68h1M112 68h1M125 73h1M130 73h1M134 73h1M135 75h1M126 82h1M122 83h1M118 91h1M108 139h1M133 175h1" stroke="#48f000" stroke-width="1" fill="none"/>
<path d="M96 35h1M119 42h1M146 43h1M113 44h1M59 45h1M79 45h1M113 46h1M60 47h1M115 48h1M105 50h1M119 50h1M123 50h1M84 51h1M134 51h1M109 52h1M90 55h1M114 55h1M126 55h1M110 56h1M120 56h1M101 58h1M103 58h1M102 59h1M108 59h1M112 59h1M123 60h1M121 63h1M105 64h1M98 66h1" stroke="#e8d020" stroke-width="1" fill="none"/>
<path d="M101 37h1M89 39h1M90 40h1M61 42h1M133 44h1M137 45h1M62 47h1M102 47h1M115 47h1M111 48h1M118 48h1M126 48h1M102 49h1M123 49h1M56 51h1M124 51h1M125 53h1M76 54h1M108 57h1M95 60h1M116 64h1M131 64h1M113 67h1M126 67h1M82 68h1M113 102h1" stroke="#ff8a10" stroke-width="1" fill="none"/>
<path d="M69 38h1M89 38h1M103 41h1M111 41h1M115 41h1M107 43h1M124 44h1M137 47h1M116 48h1M117 48h1M129 48h1M130 48h1M101 49h1M109 49h1M112 49h1M124 50h1M128 50h1M120 51h1M116 54h1M118 54h1M111 55h1M101 56h1M112 56h1M113 60h1M126 60h1M139 60h1M130 63h1M113 65h1" stroke="#ff2000" stroke-width="1" fill="none"/>
<path d="M106 41h1M115 43h1M122 43h1M66 45h1M108 45h1M106 46h1M108 47h1M116 47h1M100 48h1M129 49h1M95 50h1M129 51h1M123 52h1M85 53h1M119 53h1M121 53h1M75 54h1M108 54h1M61 56h1M103 56h1M116 59h1M106 60h1M106 62h1M108 68h1M113 82h1" stroke="#ff7a10" stroke-width="1" fill="none"/>
</g>
<rect x="311.5" y="424.6" width="254.5" height="255.0" fill="none" stroke="#9a9a9a" stroke-width="1.3"/>
<line x1="311.0" y1="679.6" x2="566.5" y2="679.6" stroke="#222" stroke-width="1.4"/>
<line x1="311.5" y1="424.6" x2="311.5" y2="679.6" stroke="#777" stroke-width="1.4"/>
<line x1="443.2" y1="425.6" x2="443.2" y2="679.6" stroke="#000" stroke-width="4"/>
<line x1="311.5" y1="546.9" x2="566.0" y2="546.9" stroke="#000" stroke-width="3.6"/>
<path d="M311.8 679.6v7.5M330.3 679.6v4M341.2 679.6v4M348.9 679.6v4M354.9 679.6v4M359.8 679.6v4M363.9 679.6v4M367.5 679.6v4M370.7 679.6v4M373.5 679.6v7.5M391.9 679.6v4M402.7 679.6v4M410.3 679.6v4M416.3 679.6v4M421.1 679.6v4M425.2 679.6v4M428.8 679.6v4M431.9 679.6v4M434.7 679.6v7.5M453.7 679.6v4M464.8 679.6v4M472.6 679.6v4M478.7 679.6v4M483.7 679.6v4M487.9 679.6v4M491.6 679.6v4M494.8 679.6v4M497.7 679.6v7.5M516.5 679.6v4M527.4 679.6v4M535.2 679.6v4M541.2 679.6v4M546.2 679.6v4M550.3 679.6v4M554.0 679.6v4M557.1 679.6v4M560.0 679.6v7.5" stroke="#111" stroke-width="1.3" fill="none"/>
<path d="M311.5 647.8h-8M311.5 629.0h-4M311.5 618.0h-4M311.5 610.2h-4M311.5 604.2h-4M311.5 599.2h-4M311.5 595.1h-4M311.5 591.4h-4M311.5 588.3h-4M311.5 585.1h-8M311.5 566.3h-4M311.5 555.3h-4M311.5 547.5h-4M311.5 541.5h-4M311.5 536.5h-4M311.5 532.4h-4M311.5 528.7h-4M311.5 525.6h-4M311.5 523.3h-8M311.5 504.5h-4M311.5 493.5h-4M311.5 485.7h-4M311.5 479.7h-4M311.5 474.7h-4M311.5 470.6h-4M311.5 466.9h-4M311.5 463.8h-4M311.5 460.6h-8M311.5 441.8h-4M311.5 430.8h-4M311.5 672.6h-4M311.5 666.6h-4M311.5 661.6h-4M311.5 657.5h-4M311.5 653.8h-4M311.5 650.7h-4" stroke="#111" stroke-width="1.3" fill="none"/>
<g font-size="18.2" font-weight="bold" class="tl" stroke="#000" stroke-width="0.35" filter="url(#bt)">
<text x="314.1" y="726.5">10</text><text x="334.7" y="712.7">2</text>
<text x="362.9" y="726.5">10</text><text x="383.5" y="712.7">3</text>
<text x="425.9" y="726.5">10</text><text x="446.5" y="712.7">4</text>
<text x="487.9" y="726.5">10</text><text x="508.5" y="712.7">5</text>
<text x="535.3" y="726.5">10</text><text x="555.9" y="712.7">6</text>
<text x="269.9" y="660.1">10</text><text x="289.9" y="646.3">3</text>
<text x="269.9" y="597.4">10</text><text x="289.9" y="583.6">4</text>
<text x="269.9" y="535.6">10</text><text x="289.9" y="521.8">5</text>
<text x="269.9" y="472.9">10</text><text x="289.9" y="459.1">6</text>
</g>
<text x="320.5" y="457.6" font-size="31.5">26.8</text>
<g transform="translate(632.7,424.6) scale(1.333)" filter="url(#bl)">
<path d="M117 25h1M93 27h1M77 28h1M88 28h1M93 28h1M45 29h1M133 29h1M15 30h1M46 30h1M69 30h1M86 30h1M87 30h1M134 30h1M45 31h1M71 31h1M77 31h1M85 31h1M88 31h1M100 31h1M106 31h1M115 31h1M125 31h1M146 31h1M17 32h1M36 32h1M47 32h1M79 32h1M87 32h1M117 32h1M128 32h1M129 32h1M20 33h1M22 33h1M29 33h1M32 33h1M41 33h1M49 33h1M69 33h1M72 33h1M79 33h1M95 33h1M104 33h1M107 33h1M118 33h1M122 33h1M17 34h1M23 34h1M32 34h1M64 34h1M68 34h1M71 34h1M105 34h1M110 34h1M116 34h1M120 34h1M122 34h1M124 34h1M126 34h1M138 34h1M141 34h1M10 35h1M16 35h1M30 35h1M50 35h1M53 35h1M61 35h1M68 35h1M72 35h1M82 35h1M84 35h1M88 35h1M105 35h1M108 35h1M118 35h1M121 35h1M126 35h1M142 35h1M30 36h1M35 36h1M39 36h1M44 36h1M46 36h1M50 36h1M65 36h1M67 36h1M71 36h1M79 36h1M80 36h1M85 36h1M88 36h1M108 36h1M138 36h1M141 36h1M18 37h1M25 37h1M37 37h1M39 37h1M76 37h1M83 37h1M84 37h1M86 37h1M88 37h1M93 37h1M98 37h1M100 37h1M101 37h1M104 37h1M109 37h1M113 37h1M129 37h1M131 37h1M137 37h1M153 37h1M24 38h1M36 38h1M56 38h1M59 38h1M60 38h1M73 38h1M76 38h1M83 38h1M87 38h1M88 38h1M99 38h1M100 38h1M106 38h1M115 38h1M120 38h1M121 38h1M128 38h1M129 38h1M130 38h1M134 38h1M139 38h1M148 38h1M152 38h1M11 39h1M16 39h1M19 39h1M37 39h1M43 39h1M45 39h1M56 39h1M60 39h1M65 39h1M70 39h1M73 39h1M82 39h1M88 39h1M94 39h1M96 39h1M99 39h1M114 39h1M18 40h1M40 40h1M41 40h1M44 40h1M52 40h1M56 40h1M57 40h1M59 40h1M84 40h1M98 40h1M99 40h1M110 40h1M112 40h1M119 40h1M137 40h1M142 40h1M26 41h1M40 41h1M46 41h1M51 41h1M57 41h1M63 41h1M68 41h1M71 41h1M86 41h1M88 41h1M96 41h1M101 41h1M109 41h1M123 41h1M126 41h1M127 41h1M129 41h1M133 41h1M134 41h1M136 41h1M138 41h1M4 42h1M19 42h1M33 42h1M36 42h1M37 42h1M43 42h1M49 42h1M55 42h1M60 42h1M63 42h1M70 42h1M71 42h1M79 42h1M80 42h1M81 42h1M83 42h1M92 42h1M97 42h1M105 42h1M109 42h1M123 42h1M146 42h1M149 42h1M6 43h1M32 43h1M36 43h1M39 43h1M52 43h1M62 43h1M74 43h1M84 43h1M93 43h1M94 43h1M107 43h1M115 43h1M118 43h1M126 43h1M140 43h1M5 44h1M25 44h1M26 44h1M31 44h1M67 44h1M68 44h1M69 44h1M70 44h1M72 44h1M73 44h1M87 44h1M91 44h1M96 44h1M108 44h1M111 44h1M119 44h1M134 44h1M141 44h1M149 44h1M16 45h1M18 45h1M26 45h1M41 45h1M45 45h1M51 45h1M52 45h1M59 45h1M61 45h1M65 45h1M70 45h1M73 45h1M74 45h1M86 45h1M92 45h1M95 45h1M104 45h1M111 45h1M118 45h1M124 45h1M125 45h1M130 45h1M5 46h1M18 46h1M30 46h1M31 46h1M37 46h1M47 46h1M53 46h1M55 46h1M62 46h1M63 46h1M68 46h1M72 46h1M84 46h1M85 46h1M100 46h1M115 46h1M116 46h1M117 46h1M118 46h1M126 46h1M134 46h1M137 46h1M138 46h1M139 46h1M152 46h1M32 47h1M44 47h1M58 47h1M61 47h1M71 47h1M82 47h1M87 47h1M88 47h1M101 47h1M106 47h1M115 47h1M120 47h1M126 47h1M140 47h1M148 47h1M5 48h1M49 48h1M50 48h1M65 48h1M69 48h1M91 48h1M106 48h1M110 48h1M113 48h1M120 48h1M121 48h1M125 48h1M130 48h1M134 48h1M139 48h1M144 48h1M12 49h1M21 49h1M24 49h1M43 49h1M47 49h1M50 49h1M55 49h1M67 49h1M72 49h1M76 49h1M78 49h1M81 49h1M86 49h1M99 49h1M116 49h1M122 49h1M24 50h1M33 50h1M45 50h1M47 50h1M69 50h1M70 50h1M78 50h1M84 50h1M86 50h1M88 50h1M93 50h1M96 50h1M104 50h1M130 50h1M148 50h1M17 51h1M39 51h1M42 51h1M46 51h1M59 51h1M60 51h1M74 51h1M93 51h1M104 51h1M111 51h1M117 51h1M127 51h1M132 51h1M138 51h1M145 51h1M149 51h1M42 52h1M52 52h1M55 52h1M59 52h1M66 52h1M68 52h1M70 52h1M74 52h1M77 52h1M90 52h1M95 52h1M101 52h1M108 52h1M116 52h1M121 52h1M125 52h1M126 52h1M135 52h1M138 52h1M23 53h1M48 53h1M57 53h1M61 53h1M74 53h1M93 53h1M102 53h1M112 53h1M119 53h1M122 53h1M123 53h1M124 53h1M131 53h1M137 53h1M140 53h1M151 53h1M153 53h1M5 54h1M51 54h1M55 54h1M58 54h1M63 54h1M69 54h1M84 54h1M89 54h1M92 54h1M118 54h1M123 54h1M124 54h1M126 54h1M135 54h1M23 55h1M38 55h1M64 55h1M66 55h1M70 55h1M78 55h1M108 55h1M123 55h1M125 55h1M126 55h1M135 55h1M146 55h1M33 56h1M55 56h1M62 56h1M65 56h1M78 56h1M87 56h1M96 56h1M102 56h1M118 56h1M131 56h1M140 56h1M30 57h1M42 57h1M56 57h1M63 57h1M89 57h1M99 57h1M100 57h1M102 57h1M112 57h1M113 57h1M117 57h1M128 57h1M22 58h1M48 58h1M51 58h1M72 58h1M84 58h1M87 58h1M96 58h1M101 58h1M110 58h1M111 58h1M112 58h1M113 58h1M136 58h1M140 58h1M143 58h1M18 59h1M44 59h1M72 59h1M76 59h1M83 59h1M90 59h1M96 59h1M103 59h1M105 59h1M114 59h1M120 59h1M121 59h1M126 59h1M134 59h1M140 59h1M37 60h1M50 60h1M68 60h1M75 60h1M77 60h1M89 60h1M97 60h1M104 60h1M116 60h1M123 60h1M132 60h1M32 61h1M38 61h1M51 61h1M58 61h1M91 61h1M99 61h1M101 61h1M102 61h1M103 61h1M107 61h1M109 61h1M134 61h1M47 62h1M57 62h1M63 62h1M69 62h1M77 62h1M79 62h1M82 62h1M83 62h1M85 62h1M91 62h1M93 62h1M95 62h1M98 62h1M104 62h1M115 62h1M124 62h1M125 62h1M126 62h1M127 62h1M153 62h1M35 63h1M82 63h1M88 63h1M89 63h1M90 63h1M93 63h1M107 63h1M110 63h1M112 63h1M118 63h1M120 63h1M68 64h1M87 64h1M90 64h1M93 64h1M98 64h1M101 64h1M103 64h1M105 64h1M108 64h1M112 64h1M113 64h1M114 64h1M117 64h1M120 64h1M132 64h1M140 64h1M145 64h1M46 65h1M47 65h1M86 65h1M87 65h1M88 65h1M89 65h1M91 65h1M93 65h1M95 65h1M102 65h1M111 65h1M118 65h1M127 65h1M128 65h1M129 65h1M142 65h1M145 65h1M154 65h1M32 66h1M71 66h1M76 66h1M77 66h1M105 66h1M118 66h1M120 66h1M121 66h1M133 66h1M42 67h1M59 67h1M62 67h1M66 67h1M84 67h1M92 67h1M95 67h1M97 67h1M110 67h1M127 67h1M136 67h1M32 68h1M58 68h1M61 68h1M82 68h1M85 68h1M104 68h1M107 68h1M115 68h1M125 68h1M156 68h1M43 69h1M67 69h1M75 69h1M86 69h1M91 69h1M92 69h1M98 69h1M104 69h1M111 69h1M120 69h1M121 69h1M145 69h1M152 69h1M59 70h1M78 70h1M81 70h1M92 70h1M94 70h1M107 70h1M108 70h1M110 70h1M117 70h1M121 70h1M127 70h1M134 70h1M139 70h1M142 70h1M25 71h1M70 71h1M73 71h1M76 71h1M85 71h1M105 71h1M107 71h1M118 71h1M119 71h1M128 71h1M41 72h1M50 72h1M71 72h1M72 72h1M85 72h1M129 72h1M131 72h1M132 72h1M153 72h1M36 73h1M83 73h1M94 73h1M103 73h1M107 73h1M114 73h1M118 73h1M123 73h1M143 73h1M54 74h1M66 74h1M72 74h1M75 74h1M98 74h1M106 74h1M108 74h1M114 74h1M116 74h1M120 74h1M141 74h1M142 74h1M22 75h1M48 75h1M54 75h1M83 75h1M85 75h1M88 75h1M91 75h1M95 75h1M97 75h1M98 75h1M99 75h1M107 75h1M126 75h1M33 76h1M58 76h1M63 76h1M67 76h1M78 76h1M91 76h1M94 76h1M120 76h1M133 76h1M82 77h1M95 77h1M101 77h1M107 77h1M124 77h1M143 77h1M148 77h1M85 78h1M93 78h1M115 78h1M118 78h1M121 78h1M122 78h1M53 79h1M63 79h1M71 79h1M92 79h1M104 79h1M118 79h1M126 79h1M137 79h1M78 80h1M79 80h1M114 80h1M121 80h1M127 80h1M128 80h1M66 81h1M82 81h1M103 81h1M104 81h1M106 81h1M107 81h1M110 81h1M119 81h1M133 81h1M138 81h1M82 82h1M84 82h1M86 82h1M92 82h1M95 82h1M121 82h1M122 82h1M127 82h1M36 83h1M81 83h1M96 83h1M101 83h1M105 83h1M108 83h1M130 83h1M138 83h1M142 83h1M87 84h1M98 84h1M99 84h1M113 84h1M119 84h1M133 84h1M138 84h1M90 85h1M103 85h1M112 85h1M72 86h1M91 86h1M108 86h1M57 87h1M96 87h1M104 87h1M110 87h1M113 87h1M151 87h1M87 88h1M149 88h1M103 89h1M114 89h1M141 89h1M108 90h1M112 90h1M117 90h1M84 91h1M110 91h1M105 92h1M109 92h1M154 92h1M98 93h1M140 93h1M116 94h1M127 94h1M147 94h1M136 95h1M72 96h1M79 96h1M88 96h1M111 96h1M66 98h1M104 98h1M111 98h1M129 98h1M135 99h1M145 99h1M59 101h1M57 103h1M130 103h1M90 104h1M103 104h1M106 104h1M120 104h1M135 104h1M87 106h1M135 107h1M115 108h1M136 110h1M143 110h1M104 112h1M133 112h1M56 113h1M118 114h1M99 115h1M133 115h1M142 116h1M101 117h1M124 117h1M121 118h1M137 118h1M142 119h1M106 121h1M133 121h1M62 122h1M85 122h1M117 122h1M123 122h1M129 122h1M149 122h1M108 123h1M110 123h1M114 123h1M101 124h1M102 124h1M108 124h1M130 124h1M145 124h1M75 125h1M107 125h1M115 125h1M128 125h1M132 125h1M146 125h1M53 126h1M113 127h1M133 127h1M19 128h1M57 128h1M68 128h1M123 128h1M142 128h1M44 129h1M51 129h1M100 129h1M108 129h1M137 129h1M152 130h1M80 131h1M82 131h1M114 131h1M115 131h1M142 131h1M11 132h1M50 133h1M59 133h1M103 133h1M112 133h1M121 133h1M144 133h1M67 134h1M90 134h1M120 134h1M135 134h1M41 135h1M47 135h1M73 135h1M80 135h1M111 135h1M136 135h1M143 135h1M139 136h1M36 137h1M61 137h1M79 137h1M103 137h1M146 137h1M40 138h1M118 138h1M124 138h1M147 138h1M141 139h1M25 140h1M81 140h1M84 140h1M86 140h1M109 140h1M119 140h1M121 140h1M128 140h1M129 140h1M49 141h1M72 141h1M112 141h1M118 141h1M145 141h1M48 142h1M61 142h1M75 142h1M122 142h1M136 142h1M104 143h1M105 143h1M144 143h1M29 144h1M40 144h1M73 145h1M85 145h1M87 145h1M91 145h1M110 145h1M115 145h1M116 145h1M118 145h1M130 145h1M133 145h1M60 146h1M18 147h1M28 147h1M58 147h1M92 147h1M124 147h1M126 147h1M128 147h1M139 147h1M65 148h1M68 148h1M69 148h1M76 148h1M84 148h1M122 148h1M153 148h1M91 149h1M111 149h1M113 149h1M118 149h1M130 149h1M43 150h1M91 150h1M134 150h1M53 151h1M106 151h1M115 151h1M118 151h1M55 152h1M108 152h1M115 152h1M124 152h1M23 153h1M103 153h1M111 153h1M128 153h1M133 153h1M134 153h1M49 154h1M72 154h1M73 154h1M91 154h1M119 154h1M121 154h1M129 154h1M25 155h1M108 155h1M109 155h1M112 155h1M120 155h1M131 155h1M140 155h1M44 156h1M80 156h1M113 156h1M115 156h1M121 156h1M141 156h1M80 157h1M83 157h1M110 157h1M125 157h1M129 157h1M90 158h1M109 158h1M116 158h1M136 158h1M42 159h1M51 159h1M57 159h1M58 159h1M68 159h1M72 159h1M102 159h1M112 159h1M113 159h1M148 159h1M39 160h1M42 160h1M47 160h1M66 160h1M102 160h1M104 160h1M118 160h1M123 160h1M149 160h1M41 161h1M86 161h1M87 161h1M103 161h1M141 161h1M49 162h1M101 162h1M133 162h1M134 162h1M54 163h1M61 163h1M71 163h1M115 163h1M116 163h1M138 163h1M140 163h1M79 164h1M96 164h1M101 164h1M103 164h1M107 164h1M152 164h1M59 165h1M89 165h1M125 165h1M131 165h1M139 165h1M142 165h1M36 166h1M119 166h1M129 166h1M46 167h1M62 167h1M70 167h1M114 167h1M125 167h1M129 167h1M130 167h1M131 167h1M138 167h1M63 168h1M70 168h1M101 168h1M105 168h1M113 168h1M153 168h1M30 169h1M35 169h1M65 169h1M86 169h1M100 169h1M123 169h1M125 169h1M57 170h1M105 170h1M137 170h1M51 171h1M88 171h1M89 171h1M127 171h1M139 171h1M65 172h1M66 172h1M86 172h1M121 172h1M139 172h1M64 173h1M97 173h1M114 173h1M148 173h1M34 174h1M62 174h1M69 174h1M74 174h1M82 174h1M90 174h1M97 174h1M13 175h1M24 175h1M70 175h1M72 175h1M130 175h1M141 175h1M39 176h1M70 176h1M82 176h1M89 176h1M104 176h1M126 176h1M145 176h1M73 177h1M128 177h1M9 178h1M100 178h1M140 178h1M19 179h1M72 179h1M88 179h1M124 179h1M81 180h1M113 180h1M119 180h1M123 180h1M128 180h1M37 181h1M129 181h1M140 181h1M131 182h1M105 183h1M106 183h1M116 183h1M144 183h1M98 184h1M105 184h1M117 184h1M136 184h1M123 185h1M125 185h1M80 186h1M30 187h1M61 187h1M72 187h1M81 187h1M114 187h1M119 187h1M54 188h1M65 188h1M79 188h1M94 188h1M118 188h1M150 188h1M87 189h1M90 189h1M99 189h1M122 189h1" stroke="#ccccff" stroke-width="1" fill="none"/>
<path d="M17 26h1M52 29h1M71 29h1M102 29h1M125 29h1M28 30h1M30 30h1M113 30h1M115 30h1M26 31h1M55 31h1M63 31h1M79 31h1M111 31h1M127 31h1M44 32h1M54 32h1M76 32h1M86 32h1M106 32h1M108 32h1M27 33h1M66 33h1M68 33h1M117 33h1M41 34h1M51 34h1M52 34h1M62 34h1M87 34h1M89 34h1M123 34h1M136 34h1M28 35h1M42 35h1M47 35h1M57 35h1M62 35h1M74 35h1M96 35h1M99 35h1M103 35h1M136 35h1M141 35h1M38 36h1M43 36h1M73 36h1M100 36h1M105 36h1M109 36h1M113 36h1M115 36h1M131 36h1M134 36h1M11 37h1M15 37h1M19 37h1M36 37h1M42 37h1M53 37h1M68 37h1M89 37h1M95 37h1M103 37h1M106 37h1M108 37h1M110 37h1M112 37h1M119 37h1M28 38h1M44 38h1M46 38h1M52 38h1M63 38h1M66 38h1M67 38h1M68 38h1M69 38h1M72 38h1M85 38h1M93 38h1M109 38h1M35 39h1M39 39h1M41 39h1M53 39h1M54 39h1M58 39h1M68 39h1M74 39h1M75 39h1M76 39h1M80 39h1M87 39h1M89 39h1M93 39h1M107 39h1M126 39h1M129 39h1M34 40h1M47 40h1M67 40h1M68 40h1M76 40h1M79 40h1M82 40h1M91 40h1M96 40h1M101 40h1M118 40h1M121 40h1M125 40h1M135 40h1M138 40h1M6 41h1M13 41h1M43 41h1M45 41h1M49 41h1M69 41h1M70 41h1M87 41h1M91 41h1M100 41h1M111 41h1M112 41h1M113 41h1M132 41h1M139 41h1M150 41h1M35 42h1M47 42h1M88 42h1M90 42h1M98 42h1M99 42h1M120 42h1M127 42h1M130 42h1M15 43h1M31 43h1M38 43h1M40 43h1M56 43h1M68 43h1M79 43h1M81 43h1M86 43h1M88 43h1M90 43h1M91 43h1M97 43h1M105 43h1M109 43h1M110 43h1M119 43h1M120 43h1M125 43h1M130 43h1M34 44h1M50 44h1M79 44h1M95 44h1M102 44h1M116 44h1M133 44h1M135 44h1M31 45h1M33 45h1M36 45h1M48 45h1M53 45h1M58 45h1M62 45h1M69 45h1M71 45h1M88 45h1M91 45h1M117 45h1M140 45h1M153 45h1M14 46h1M19 46h1M22 46h1M34 46h1M35 46h1M36 46h1M46 46h1M48 46h1M52 46h1M59 46h1M75 46h1M76 46h1M83 46h1M97 46h1M98 46h1M101 46h1M106 46h1M107 46h1M121 46h1M132 46h1M13 47h1M15 47h1M23 47h1M49 47h1M50 47h1M57 47h1M63 47h1M73 47h1M77 47h1M92 47h1M94 47h1M98 47h1M109 47h1M112 47h1M117 47h1M121 47h1M122 47h1M132 47h1M137 47h1M141 47h1M14 48h1M18 48h1M32 48h1M35 48h1M47 48h1M52 48h1M58 48h1M71 48h1M77 48h1M92 48h1M102 48h1M129 48h1M15 49h1M31 49h1M41 49h1M54 49h1M63 49h1M64 49h1M69 49h1M75 49h1M107 49h1M112 49h1M114 49h1M115 49h1M126 49h1M127 49h1M129 49h1M131 49h1M139 49h1M7 50h1M11 50h1M16 50h1M41 50h1M43 50h1M94 50h1M109 50h1M114 50h1M117 50h1M119 50h1M125 50h1M128 50h1M131 50h1M22 51h1M23 51h1M32 51h1M36 51h1M44 51h1M64 51h1M66 51h1M75 51h1M81 51h1M84 51h1M85 51h1M87 51h1M101 51h1M105 51h1M112 51h1M146 51h1M29 52h1M43 52h1M56 52h1M57 52h1M61 52h1M63 52h1M65 52h1M71 52h1M81 52h1M87 52h1M97 52h1M117 52h1M120 52h1M124 52h1M140 52h1M145 52h1M29 53h1M40 53h1M51 53h1M60 53h1M67 53h1M71 53h1M91 53h1M97 53h1M100 53h1M113 53h1M118 53h1M142 53h1M62 54h1M74 54h1M120 54h1M146 54h1M29 55h1M74 55h1M84 55h1M86 55h1M90 55h1M94 55h1M112 55h1M128 55h1M131 55h1M28 56h1M38 56h1M66 56h1M69 56h1M71 56h1M74 56h1M82 56h1M83 56h1M86 56h1M91 56h1M108 56h1M110 56h1M114 56h1M117 56h1M124 56h1M139 56h1M18 57h1M46 57h1M64 57h1M76 57h1M103 57h1M105 57h1M114 57h1M119 57h1M121 57h1M129 57h1M135 57h1M21 58h1M31 58h1M37 58h1M41 58h1M42 58h1M46 58h1M52 58h1M65 58h1M100 58h1M103 58h1M104 58h1M117 58h1M124 58h1M21 59h1M30 59h1M33 59h1M58 59h1M67 59h1M69 59h1M81 59h1M91 59h1M99 59h1M100 59h1M109 59h1M116 59h1M118 59h1M128 59h1M137 59h1M21 60h1M91 60h1M93 60h1M102 60h1M111 60h1M124 60h1M125 60h1M131 60h1M27 61h1M42 61h1M44 61h1M49 61h1M50 61h1M66 61h1M70 61h1M73 61h1M125 61h1M127 61h1M88 62h1M90 62h1M100 62h1M101 62h1M109 62h1M116 62h1M122 62h1M77 63h1M92 63h1M97 63h1M101 63h1M113 63h1M115 63h1M116 63h1M122 63h1M125 63h1M129 63h1M139 63h1M60 64h1M73 64h1M82 64h1M88 64h1M89 64h1M94 64h1M99 64h1M136 64h1M139 64h1M64 65h1M66 65h1M106 65h1M108 65h1M109 65h1M110 65h1M112 65h1M125 65h1M56 66h1M59 66h1M60 66h1M88 66h1M91 66h1M95 66h1M96 66h1M98 66h1M109 66h1M22 67h1M46 67h1M72 67h1M74 67h1M77 67h1M86 67h1M94 67h1M96 67h1M105 67h1M130 67h1M45 68h1M60 68h1M66 68h1M74 68h1M75 68h1M91 68h1M92 68h1M93 68h1M99 68h1M117 68h1M118 68h1M138 68h1M147 68h1M85 69h1M89 69h1M93 69h1M97 69h1M100 69h1M108 69h1M139 69h1M147 69h1M80 70h1M104 70h1M146 70h1M21 71h1M51 71h1M54 71h1M87 71h1M90 71h1M92 71h1M96 71h1M97 71h1M98 71h1M110 71h1M111 71h1M115 71h1M117 71h1M61 72h1M80 72h1M86 72h1M92 72h1M104 72h1M113 72h1M114 72h1M119 72h1M120 72h1M124 72h1M62 73h1M80 73h1M89 73h1M93 73h1M106 73h1M108 73h1M111 73h1M121 73h1M125 73h1M133 73h1M147 73h1M150 73h1M152 73h1M63 74h1M74 74h1M95 74h1M99 74h1M125 74h1M138 74h1M38 75h1M67 75h1M70 75h1M100 75h1M112 75h1M121 75h1M127 75h1M132 75h1M135 75h1M138 75h1M49 76h1M64 76h1M82 76h1M102 76h1M106 76h1M118 76h1M42 77h1M79 77h1M86 77h1M99 77h1M110 77h1M123 77h1M128 77h1M136 77h1M142 77h1M61 78h1M89 78h1M91 78h1M96 78h1M110 78h1M113 78h1M116 78h1M86 79h1M88 79h1M103 79h1M107 79h1M117 79h1M34 80h1M63 80h1M152 80h1M49 81h1M93 81h1M97 81h1M102 81h1M122 81h1M44 82h1M93 82h1M150 82h1M80 83h1M87 83h1M99 83h1M104 83h1M134 83h1M85 84h1M96 84h1M117 84h1M123 84h1M137 84h1M87 85h1M99 85h1M104 85h1M105 85h1M106 85h1M134 85h1M92 86h1M100 86h1M118 86h1M77 87h1M102 88h1M103 88h1M139 88h1M99 89h1M134 90h1M142 90h1M61 91h1M105 91h1M119 91h1M141 91h1M100 92h1M107 92h1M25 94h1M97 94h1M33 95h1M105 95h1M113 95h1M140 95h1M148 95h1M106 96h1M106 97h1M112 98h1M114 98h1M108 99h1M115 101h1M139 101h1M57 102h1M130 102h1M131 104h1M139 104h1M141 104h1M119 105h1M140 105h1M129 107h1M108 108h1M113 108h1M137 108h1M66 109h1M140 109h1M149 109h1M123 110h1M103 111h1M114 112h1M104 113h1M132 113h1M114 114h1M71 116h1M90 116h1M103 117h1M112 118h1M124 118h1M102 119h1M95 120h1M107 120h1M143 120h1M149 120h1M113 121h1M117 121h1M141 121h1M22 123h1M65 123h1M72 123h1M76 123h1M144 123h1M32 124h1M110 124h1M118 124h1M110 125h1M113 125h1M117 125h1M134 125h1M114 128h1M122 128h1M136 128h1M24 129h1M55 129h1M80 129h1M78 131h1M146 131h1M28 132h1M52 132h1M54 132h1M93 132h1M102 132h1M104 132h1M126 132h1M129 132h1M142 132h1M52 133h1M119 133h1M41 134h1M107 134h1M109 134h1M119 134h1M145 134h1M82 135h1M97 135h1M125 135h1M132 135h1M50 136h1M51 136h1M123 136h1M124 136h1M113 137h1M133 137h1M140 137h1M129 138h1M143 138h1M102 139h1M123 139h1M102 140h1M115 140h1M124 140h1M126 140h1M17 141h1M68 141h1M78 141h1M95 141h1M109 141h1M117 141h1M148 141h1M34 142h1M98 142h1M102 142h1M107 142h1M116 142h1M72 143h1M120 143h1M122 143h1M142 143h1M143 143h1M52 144h1M90 144h1M141 144h1M97 145h1M128 145h1M137 145h1M54 146h1M95 146h1M111 147h1M130 147h1M143 147h1M3 148h1M73 148h1M112 148h1M136 148h1M35 149h1M90 149h1M108 149h1M114 149h1M85 150h1M103 150h1M133 150h1M136 150h1M138 150h1M74 151h1M103 151h1M110 151h1M119 151h1M132 151h1M67 152h1M128 152h1M64 153h1M73 153h1M74 153h1M107 153h1M115 153h1M43 154h1M45 154h1M46 154h1M55 154h1M90 154h1M124 154h1M126 154h1M134 154h1M15 155h1M84 155h1M93 155h1M147 155h1M32 156h1M120 156h1M147 156h1M29 157h1M31 157h1M71 157h1M88 157h1M102 157h1M108 157h1M119 157h1M122 157h1M133 157h1M87 158h1M100 158h1M117 158h1M77 159h1M84 159h1M124 159h1M40 160h1M49 160h1M54 160h1M69 160h1M74 160h1M81 160h1M85 160h1M96 160h1M105 160h1M125 160h1M40 161h1M52 161h1M55 161h1M66 161h1M69 161h1M127 161h1M135 161h1M138 161h1M143 161h1M73 162h1M81 162h1M95 162h1M110 162h1M123 162h1M29 163h1M66 163h1M81 163h1M16 164h1M76 164h1M105 164h1M56 165h1M158 165h1M66 166h1M135 166h1M97 167h1M147 167h1M36 168h1M69 168h1M73 168h1M114 168h1M122 168h1M126 168h1M131 168h1M62 169h1M69 169h1M89 169h1M127 169h1M48 170h1M84 170h1M88 170h1M95 170h1M105 171h1M107 171h1M120 171h1M126 171h1M128 171h1M130 171h1M81 172h1M120 172h1M122 172h1M136 172h1M76 173h1M98 173h1M100 173h1M102 173h1M141 173h1M29 174h1M42 174h1M72 174h1M96 174h1M112 174h1M139 174h1M147 174h1M151 174h1M112 175h1M139 175h1M158 175h1M78 177h1M94 177h1M111 177h1M142 177h1M37 178h1M58 178h1M119 178h1M86 179h1M127 179h1M43 180h1M47 180h1M52 180h1M75 180h1M111 180h1M121 180h1M43 181h1M62 181h1M96 181h1M98 181h1M49 182h1M127 182h1M137 182h1M151 182h1M24 183h1M110 183h1M128 183h1M43 184h1M97 184h1M109 184h1M72 185h1M73 185h1M82 185h1M86 185h1M108 185h1M127 185h1M131 185h1M87 186h1M123 186h1M125 186h1M149 186h1M55 187h1M128 187h1M29 188h1M62 188h1" stroke="#1010ff" stroke-width="1" fill="none"/>
<path d="M34 27h1M109 28h1M58 29h1M45 30h1M99 30h1M102 30h1M108 30h1M24 31h1M29 31h1M33 31h1M103 31h1M109 31h1M116 31h1M137 31h1M143 31h1M38 32h1M40 32h1M52 32h1M81 32h1M83 32h1M85 32h1M109 32h1M111 32h1M116 32h1M137 32h1M34 33h1M86 33h1M136 33h1M47 34h1M49 34h1M50 34h1M65 34h1M69 34h1M86 34h1M106 34h1M29 35h1M44 35h1M49 35h1M58 35h1M71 35h1M73 35h1M80 35h1M87 35h1M89 35h1M90 35h1M93 35h1M114 35h1M116 35h1M123 35h1M128 35h1M13 36h1M24 36h1M91 36h1M101 36h1M104 36h1M110 36h1M111 36h1M20 37h1M27 37h1M33 37h1M55 37h1M59 37h1M72 37h1M78 37h1M91 37h1M102 37h1M105 37h1M111 37h1M122 37h1M135 37h1M136 37h1M41 38h1M54 38h1M78 38h1M79 38h1M101 38h1M122 38h1M127 38h1M132 38h1M136 38h1M137 38h1M142 38h1M9 39h1M27 39h1M36 39h1M57 39h1M67 39h1M72 39h1M91 39h1M111 39h1M118 39h1M122 39h1M134 39h1M153 39h1M29 40h1M51 40h1M63 40h1M64 40h1M65 40h1M85 40h1M88 40h1M94 40h1M95 40h1M109 40h1M111 40h1M126 40h1M139 40h1M5 41h1M22 41h1M31 41h1M34 41h1M47 41h1M62 41h1M75 41h1M94 41h1M117 41h1M135 41h1M157 41h1M20 42h1M50 42h1M51 42h1M67 42h1M96 42h1M110 42h1M128 42h1M47 43h1M50 43h1M54 43h1M55 43h1M57 43h1M58 43h1M64 43h1M70 43h1M89 43h1M19 44h1M44 44h1M53 44h1M62 44h1M75 44h1M78 44h1M86 44h1M121 44h1M140 44h1M23 45h1M29 45h1M30 45h1M39 45h1M79 45h1M83 45h1M94 45h1M107 45h1M110 45h1M126 45h1M143 45h1M144 45h1M41 46h1M44 46h1M58 46h1M60 46h1M64 46h1M70 46h1M71 46h1M96 46h1M133 46h1M135 46h1M22 47h1M35 47h1M48 47h1M53 47h1M55 47h1M85 47h1M93 47h1M103 47h1M23 48h1M25 48h1M55 48h1M75 48h1M85 48h1M109 48h1M115 48h1M117 48h1M135 48h1M150 48h1M152 48h1M45 49h1M59 49h1M71 49h1M97 49h1M100 49h1M118 49h1M134 49h1M46 50h1M75 50h1M76 50h1M83 50h1M91 50h1M99 50h1M108 50h1M113 50h1M134 50h1M33 51h1M65 51h1M82 51h1M86 51h1M92 51h1M94 51h1M100 51h1M114 51h1M120 51h1M123 51h1M128 51h1M131 51h1M150 51h1M26 52h1M48 52h1M78 52h1M84 52h1M110 52h1M132 52h1M141 52h1M28 53h1M56 53h1M80 53h1M87 53h1M89 53h1M95 53h1M98 53h1M35 54h1M47 54h1M53 54h1M77 54h1M86 54h1M90 54h1M91 54h1M94 54h1M112 54h1M125 54h1M132 54h1M140 54h1M141 54h1M152 54h1M44 55h1M52 55h1M60 55h1M97 55h1M109 55h1M113 55h1M114 55h1M120 55h1M124 55h1M72 56h1M84 56h1M92 56h1M101 56h1M105 56h1M106 56h1M111 56h1M112 56h1M116 56h1M120 56h1M136 56h1M43 57h1M45 57h1M51 57h1M66 57h1M92 57h1M98 57h1M36 58h1M69 58h1M74 58h1M80 58h1M81 58h1M123 58h1M125 58h1M130 58h1M138 58h1M45 59h1M102 59h1M106 59h1M108 59h1M111 59h1M60 60h1M70 60h1M101 60h1M105 60h1M122 60h1M130 60h1M46 61h1M85 61h1M89 61h1M90 61h1M92 61h1M96 61h1M97 61h1M100 61h1M113 61h1M126 61h1M22 62h1M40 62h1M61 62h1M80 62h1M89 62h1M99 62h1M110 62h1M128 62h1M134 62h1M24 63h1M44 63h1M67 63h1M69 63h1M78 63h1M80 63h1M85 63h1M95 63h1M99 63h1M126 63h1M133 63h1M15 64h1M21 64h1M45 64h1M56 64h1M106 64h1M118 64h1M135 64h1M141 64h1M14 65h1M65 65h1M67 65h1M96 65h1M97 65h1M100 65h1M104 65h1M136 65h1M17 66h1M97 66h1M106 66h1M149 66h1M151 66h1M88 67h1M93 67h1M102 67h1M107 67h1M108 67h1M125 67h1M128 67h1M65 68h1M90 68h1M94 68h1M95 68h1M122 68h1M126 68h1M129 68h1M142 68h1M71 69h1M78 69h1M127 69h1M84 70h1M86 70h1M93 70h1M99 70h1M111 70h1M116 70h1M124 70h1M141 70h1M31 71h1M78 71h1M91 71h1M99 71h1M104 71h1M125 71h1M126 71h1M73 72h1M89 72h1M96 72h1M140 72h1M40 73h1M45 73h1M66 73h1M82 73h1M87 73h1M92 73h1M96 73h1M101 73h1M104 73h1M140 73h1M129 74h1M92 75h1M71 76h1M88 76h1M115 76h1M124 76h1M142 76h1M55 77h1M57 77h1M87 77h1M97 77h1M105 77h1M145 77h1M74 78h1M83 78h1M98 78h1M105 78h1M125 78h1M142 78h1M43 79h1M57 79h1M99 79h1M114 79h1M128 79h1M129 79h1M91 80h1M104 80h1M122 80h1M101 81h1M120 81h1M131 81h1M38 82h1M107 82h1M115 82h1M118 82h1M113 83h1M115 83h1M120 83h1M95 84h1M69 85h1M93 85h1M143 85h1M99 86h1M104 86h1M109 86h1M110 86h1M139 86h1M119 87h1M72 89h1M104 89h1M106 89h1M108 89h1M133 89h1M46 90h1M73 90h1M139 90h1M112 91h1M113 91h1M129 91h1M70 92h1M133 92h1M112 93h1M129 93h1M137 94h1M138 95h1M101 96h1M146 96h1M124 100h1M135 100h1M81 102h1M106 102h1M144 102h1M146 104h1M117 108h1M142 108h1M113 109h1M111 111h1M141 114h1M132 115h1M138 115h1M35 117h1M104 118h1M52 122h1M71 122h1M140 122h1M17 123h1M133 124h1M75 126h1M116 126h1M18 127h1M108 127h1M126 127h1M128 127h1M111 128h1M147 128h1M107 129h1M128 129h1M58 130h1M97 130h1M111 130h1M149 130h1M129 131h1M89 132h1M105 132h1M119 132h1M124 132h1M138 132h1M87 134h1M88 134h1M77 137h1M126 137h1M113 138h1M86 139h1M101 139h1M114 139h1M120 139h1M32 140h1M64 140h1M67 140h1M74 140h1M106 140h1M141 140h1M144 140h1M97 141h1M153 142h1M110 143h1M23 144h1M108 144h1M130 144h1M93 145h1M145 145h1M81 146h1M103 146h1M125 146h1M137 146h1M33 147h1M61 147h1M109 147h1M122 147h1M129 147h1M133 147h1M134 148h1M143 148h1M34 149h1M45 149h1M71 149h1M85 149h1M115 149h1M144 149h1M110 150h1M113 150h1M90 151h1M97 151h1M147 151h1M86 152h1M96 152h1M112 152h1M127 152h1M50 153h1M87 153h1M97 153h1M106 153h1M121 153h1M122 153h1M26 154h1M106 154h1M116 154h1M120 154h1M123 154h1M86 155h1M118 155h1M145 155h1M84 156h1M94 156h1M130 156h1M143 156h1M3 157h1M33 157h1M43 157h1M56 157h1M65 157h1M114 157h1M45 158h1M74 158h1M91 158h1M120 158h1M96 159h1M91 160h1M129 160h1M89 161h1M102 161h1M142 161h1M153 161h1M132 162h1M133 163h1M53 164h1M70 164h1M73 164h1M82 165h1M86 165h1M141 165h1M50 166h1M109 166h1M132 166h1M57 167h1M98 167h1M117 167h1M127 167h1M86 168h1M130 169h1M139 169h1M90 170h1M96 170h1M98 170h1M107 170h1M123 170h1M134 170h1M52 171h1M64 171h1M82 171h1M113 171h1M53 172h1M67 172h1M100 172h1M102 172h1M115 172h1M124 172h1M90 173h1M128 173h1M133 173h1M35 174h1M102 174h1M118 175h1M133 175h1M99 176h1M35 177h1M84 177h1M87 177h1M96 177h1M110 177h1M60 179h1M67 179h1M65 180h1M56 181h1M87 181h1M101 181h1M118 181h1M147 182h1M116 184h1M128 184h1M43 185h1M118 185h1M65 186h1M86 186h1M42 187h1M84 187h1M99 187h1M126 189h1" stroke="#9090ff" stroke-width="1" fill="none"/>
<path d="M62 30h1M60 32h1M60 33h1M67 33h1M106 33h1M57 34h1M93 34h1M97 34h1M109 34h1M132 34h1M134 34h1M52 35h1M91 35h1M104 35h1M119 35h1M21 36h1M56 36h1M70 36h1M81 36h1M99 36h1M112 36h1M32 37h1M50 37h1M52 37h1M82 37h1M107 37h1M126 37h1M75 38h1M80 38h1M84 38h1M116 38h1M117 38h1M123 38h1M126 38h1M22 39h1M42 39h1M44 39h1M49 39h1M55 39h1M59 39h1M63 39h1M90 39h1M104 39h1M116 39h1M124 39h1M17 40h1M38 40h1M58 40h1M66 40h1M75 40h1M81 40h1M90 40h1M97 40h1M103 40h1M106 40h1M113 40h1M114 40h1M117 40h1M122 40h1M129 40h1M136 40h1M38 41h1M66 41h1M72 41h1M81 41h1M32 42h1M48 42h1M54 42h1M74 42h1M75 42h1M76 42h1M87 42h1M95 42h1M100 42h1M121 42h1M147 42h1M42 43h1M66 43h1M76 43h1M82 43h1M87 43h1M96 43h1M128 43h1M129 43h1M135 43h1M139 43h1M23 44h1M49 44h1M56 44h1M60 44h1M71 44h1M82 44h1M89 44h1M100 44h1M110 44h1M112 44h1M128 44h1M136 44h1M25 45h1M105 45h1M135 45h1M21 46h1M33 46h1M43 46h1M61 46h1M74 46h1M78 46h1M81 46h1M94 46h1M103 46h1M108 46h1M114 46h1M119 46h1M42 47h1M54 47h1M75 47h1M86 47h1M102 47h1M104 47h1M114 47h1M123 47h1M127 47h1M128 47h1M36 48h1M53 48h1M56 48h1M67 48h1M82 48h1M84 48h1M118 48h1M122 48h1M51 49h1M58 49h1M65 49h1M66 49h1M82 49h1M83 49h1M84 49h1M88 49h1M90 49h1M94 49h1M113 49h1M128 49h1M72 50h1M90 50h1M107 50h1M47 51h1M77 51h1M83 51h1M91 51h1M96 51h1M98 51h1M107 51h1M108 51h1M137 51h1M62 52h1M88 52h1M89 52h1M91 52h1M98 52h1M103 52h1M122 52h1M129 52h1M32 53h1M34 53h1M49 53h1M63 53h1M86 53h1M108 53h1M109 53h1M135 53h1M39 54h1M98 54h1M99 54h1M109 54h1M121 54h1M122 54h1M91 55h1M116 55h1M122 55h1M79 56h1M104 56h1M123 56h1M84 57h1M86 57h1M91 57h1M93 57h1M115 57h1M78 58h1M89 58h1M116 58h1M65 59h1M117 59h1M88 60h1M94 60h1M110 60h1M120 60h1M74 61h1M118 61h1M87 62h1M92 62h1M129 62h1M141 62h1M60 63h1M73 63h1M94 63h1M132 63h1M107 64h1M111 64h1M128 64h1M101 65h1M105 65h1M119 65h1M90 66h1M99 66h1M103 66h1M107 66h1M111 66h1M130 66h1M85 67h1M123 67h1M137 67h1M89 68h1M109 68h1M110 68h1M111 68h1M112 68h1M119 68h1M58 69h1M70 69h1M82 69h1M95 69h1M105 69h1M134 69h1M61 70h1M68 70h1M100 71h1M130 71h1M125 72h1M93 75h1M119 77h1M77 79h1M105 79h1M98 80h1M116 88h1M130 130h1M118 132h1M123 142h1M96 149h1M49 153h1M103 154h1M127 154h1M127 155h1M103 156h1M144 159h1M109 160h1M115 161h1M91 164h1M121 164h1M66 165h1M73 165h1M119 171h1M101 180h1M135 181h1M96 186h1" stroke="#e8e010" stroke-width="1" fill="none"/>
<path d="M119 30h1M88 32h1M100 32h1M83 33h1M91 33h1M55 34h1M63 34h1M78 34h1M69 35h1M94 35h1M106 35h1M127 35h1M23 36h1M93 36h1M120 36h1M121 36h1M130 36h1M12 37h1M51 37h1M75 37h1M79 37h1M87 37h1M35 38h1M98 38h1M104 38h1M111 38h1M112 38h1M114 38h1M118 38h1M135 38h1M24 39h1M66 39h1M78 39h1M110 39h1M112 39h1M113 39h1M28 40h1M45 40h1M49 40h1M55 40h1M78 40h1M80 40h1M89 40h1M105 40h1M42 41h1M53 41h1M56 41h1M58 41h1M82 41h1M97 41h1M99 41h1M107 41h1M118 41h1M119 41h1M34 42h1M62 42h1M66 42h1M69 42h1M77 42h1M85 42h1M91 42h1M103 42h1M112 42h1M116 42h1M125 42h1M41 43h1M45 43h1M63 43h1M69 43h1M92 43h1M100 43h1M106 43h1M112 43h1M117 43h1M127 43h1M29 44h1M36 44h1M47 44h1M54 44h1M57 44h1M63 44h1M64 44h1M107 44h1M109 44h1M113 44h1M122 44h1M125 44h1M131 44h1M132 44h1M138 44h1M76 45h1M85 45h1M98 45h1M101 45h1M114 45h1M131 45h1M39 46h1M51 46h1M87 46h1M88 46h1M91 46h1M92 46h1M93 46h1M110 46h1M111 46h1M113 46h1M120 46h1M124 46h1M33 47h1M64 47h1M72 47h1M78 47h1M80 47h1M81 47h1M90 47h1M91 47h1M107 47h1M111 47h1M118 47h1M125 47h1M144 47h1M17 48h1M33 48h1M66 48h1M72 48h1M80 48h1M86 48h1M88 48h1M93 48h1M97 48h1M100 48h1M101 48h1M108 48h1M56 49h1M87 49h1M108 49h1M109 49h1M117 49h1M144 49h1M56 50h1M58 50h1M71 50h1M80 50h1M87 50h1M89 50h1M92 50h1M98 50h1M120 50h1M63 51h1M89 51h1M106 51h1M109 51h1M118 51h1M129 51h1M85 52h1M92 52h1M105 52h1M35 53h1M77 53h1M82 53h1M104 53h1M110 53h1M117 53h1M82 54h1M88 54h1M103 54h1M105 54h1M110 54h1M116 54h1M129 54h1M39 55h1M79 55h1M83 55h1M100 55h1M110 55h1M115 55h1M117 55h1M118 55h1M63 56h1M98 56h1M107 56h1M125 56h1M55 58h1M131 58h1M87 59h1M93 59h1M97 59h1M138 59h1M95 60h1M96 60h1M63 61h1M86 61h1M95 61h1M86 62h1M94 62h1M143 62h1M104 63h1M74 64h1M85 64h1M96 64h1M121 64h1M122 64h1M120 65h1M137 66h1M81 67h1M106 67h1M121 67h1M68 68h1M105 68h1M72 69h1M101 69h1M114 70h1M123 70h1M133 70h1M108 71h1M112 74h1M113 75h1M121 76h1M95 78h1M97 78h1M105 80h1M105 84h1M120 84h1M136 85h1M108 134h1M129 139h1M146 140h1M110 141h1M131 143h1M142 144h1M138 152h1M130 153h1M68 155h1M138 155h1M88 156h1M116 156h1M139 159h1M60 168h1M79 178h1M108 180h1M120 180h1" stroke="#0000f0" stroke-width="1" fill="none"/>
<path d="M98 33h1M60 34h1M86 36h1M87 36h1M57 37h1M132 39h1M116 40h1M64 41h1M84 41h1M108 41h1M114 41h1M39 42h1M109 45h1M99 47h1M99 48h1M103 49h1M102 50h1M86 52h1M99 52h1M105 55h1M93 61h1M115 61h1M94 65h1M89 67h1M84 69h1M127 148h1" stroke="#e8d020" stroke-width="1" fill="none"/>
<path d="M28 36h1M92 39h1M102 40h1M59 41h1M59 42h1M106 44h1M60 45h1M64 48h1M123 48h1M65 50h1M82 50h1M110 51h1M94 52h1M119 54h1" stroke="#ff2000" stroke-width="1" fill="none"/>
<path d="M83 36h1M90 36h1M96 37h1M43 38h1M62 38h1M82 38h1M103 38h1M50 39h1M70 40h1M108 40h1M127 40h1M61 41h1M74 41h1M116 41h1M124 41h1M104 42h1M113 42h1M72 43h1M73 43h1M77 43h1M98 43h1M102 43h1M104 43h1M108 43h1M39 44h1M74 44h1M76 44h1M105 44h1M57 45h1M66 45h1M68 45h1M102 45h1M113 45h1M127 45h1M40 46h1M73 46h1M89 46h1M90 46h1M95 46h1M59 47h1M79 47h1M134 47h1M27 48h1M68 48h1M96 48h1M112 48h1M53 49h1M95 49h1M101 49h1M78 51h1M99 51h1M100 52h1M104 52h1M113 52h1M107 53h1M93 54h1M115 54h1M127 54h1M95 55h1M127 55h1M94 56h1M99 56h1M103 56h1M148 56h1M101 57h1M105 58h1M125 59h1M84 60h1M109 60h1M126 60h1M117 61h1M121 61h1M62 65h1M89 66h1M123 66h1M96 68h1M115 70h1M117 86h1" stroke="#f0e000" stroke-width="1" fill="none"/>
<path d="M64 38h1M119 38h1M95 39h1M117 39h1M62 40h1M67 41h1M61 42h1M99 43h1M94 44h1M98 44h1M90 45h1M100 45h1M102 46h1M70 47h1M83 47h1M54 48h1M121 50h1M38 52h1M96 54h1M133 54h1M87 61h1M78 68h1M112 162h1" stroke="#ff8a10" stroke-width="1" fill="none"/>
<path d="M105 39h1M89 41h1M102 41h1M104 41h1M106 41h1M102 42h1M106 42h1M77 44h1M89 45h1M108 45h1M89 48h1M118 50h1M97 51h1M76 52h1" stroke="#ff7a10" stroke-width="1" fill="none"/>
</g>
<rect x="632.7" y="424.6" width="254.5" height="255.0" fill="none" stroke="#9a9a9a" stroke-width="1.3"/>
<line x1="632.2" y1="679.6" x2="887.7" y2="679.6" stroke="#222" stroke-width="1.4"/>
<line x1="632.7" y1="424.6" x2="632.7" y2="679.6" stroke="#777" stroke-width="1.4"/>
<line x1="764.4000000000001" y1="425.6" x2="764.4000000000001" y2="679.6" stroke="#000" stroke-width="4"/>
<line x1="632.7" y1="546.9" x2="887.2" y2="546.9" stroke="#000" stroke-width="3.6"/>
<path d="M633.0 679.6v7.5M651.5 679.6v4M662.4 679.6v4M670.1 679.6v4M676.1 679.6v4M681.0 679.6v4M685.1 679.6v4M688.7 679.6v4M691.9 679.6v4M694.7 679.6v7.5M713.1 679.6v4M723.9 679.6v4M731.5 679.6v4M737.5 679.6v4M742.3 679.6v4M746.4 679.6v4M750.0 679.6v4M753.1 679.6v4M755.9 679.6v7.5M774.9 679.6v4M786.0 679.6v4M793.8 679.6v4M799.9 679.6v4M804.9 679.6v4M809.1 679.6v4M812.8 679.6v4M816.0 679.6v4M818.9 679.6v7.5M837.7 679.6v4M848.6 679.6v4M856.4 679.6v4M862.4 679.6v4M867.4 679.6v4M871.5 679.6v4M875.2 679.6v4M878.3 679.6v4M881.2 679.6v7.5" stroke="#111" stroke-width="1.3" fill="none"/>
<path d="M632.7 647.8h-8M632.7 629.0h-4M632.7 618.0h-4M632.7 610.2h-4M632.7 604.2h-4M632.7 599.2h-4M632.7 595.1h-4M632.7 591.4h-4M632.7 588.3h-4M632.7 585.1h-8M632.7 566.3h-4M632.7 555.3h-4M632.7 547.5h-4M632.7 541.5h-4M632.7 536.5h-4M632.7 532.4h-4M632.7 528.7h-4M632.7 525.6h-4M632.7 523.3h-8M632.7 504.5h-4M632.7 493.5h-4M632.7 485.7h-4M632.7 479.7h-4M632.7 474.7h-4M632.7 470.6h-4M632.7 466.9h-4M632.7 463.8h-4M632.7 460.6h-8M632.7 441.8h-4M632.7 430.8h-4M632.7 672.6h-4M632.7 666.6h-4M632.7 661.6h-4M632.7 657.5h-4M632.7 653.8h-4M632.7 650.7h-4" stroke="#111" stroke-width="1.3" fill="none"/>
<g font-size="18.2" font-weight="bold" class="tl" stroke="#000" stroke-width="0.35" filter="url(#bt)">
<text x="635.3" y="726.5">10</text><text x="655.9" y="712.7">2</text>
<text x="684.1" y="726.5">10</text><text x="704.7" y="712.7">3</text>
<text x="747.1" y="726.5">10</text><text x="767.7" y="712.7">4</text>
<text x="809.1" y="726.5">10</text><text x="829.7" y="712.7">5</text>
<text x="856.5" y="726.5">10</text><text x="877.1" y="712.7">6</text>
<text x="591.1" y="660.1">10</text><text x="611.1" y="646.3">3</text>
<text x="591.1" y="597.4">10</text><text x="611.1" y="583.6">4</text>
<text x="591.1" y="535.6">10</text><text x="611.1" y="521.8">5</text>
<text x="591.1" y="472.9">10</text><text x="611.1" y="459.1">6</text>
</g>
<text x="645.1" y="457.6" font-size="31.5">39.2</text>
<g transform="translate(953.3,424.6) scale(1.333)" filter="url(#bl)">
<path d="M97 25h1M130 26h1M115 27h1M31 28h1M77 28h1M81 28h1M90 29h1M135 29h1M50 30h1M100 30h1M137 30h1M31 31h1M41 31h1M64 31h1M117 31h1M29 32h1M35 32h1M76 32h1M52 33h1M62 33h1M73 33h1M93 33h1M96 33h1M109 33h1M26 34h1M66 34h1M79 34h1M102 34h1M103 34h1M136 34h1M29 35h1M44 35h1M60 35h1M76 35h1M84 35h1M98 35h1M103 35h1M120 35h1M124 35h1M139 35h1M21 36h1M23 36h1M29 36h1M32 36h1M60 36h1M101 36h1M118 36h1M145 36h1M7 37h1M51 37h1M52 37h1M76 37h1M92 37h1M93 37h1M104 37h1M105 37h1M115 37h1M116 37h1M127 37h1M132 37h1M133 37h1M65 38h1M72 38h1M74 38h1M88 38h1M90 38h1M93 38h1M134 38h1M144 38h1M17 39h1M25 39h1M32 39h1M33 39h1M43 39h1M45 39h1M56 39h1M59 39h1M67 39h1M72 39h1M109 39h1M120 39h1M123 39h1M137 39h1M140 39h1M15 40h1M17 40h1M26 40h1M43 40h1M95 40h1M97 40h1M101 40h1M113 40h1M114 40h1M121 40h1M122 40h1M139 40h1M1 41h1M13 41h1M17 41h1M30 41h1M58 41h1M62 41h1M69 41h1M73 41h1M76 41h1M100 41h1M122 41h1M123 41h1M137 41h1M12 42h1M16 42h1M27 42h1M40 42h1M47 42h1M49 42h1M54 42h1M59 42h1M64 42h1M81 42h1M82 42h1M105 42h1M116 42h1M2 43h1M21 43h1M23 43h1M30 43h1M36 43h1M50 43h1M72 43h1M106 43h1M108 43h1M122 43h1M131 43h1M138 43h1M21 44h1M62 44h1M72 44h1M93 44h1M119 44h1M128 44h1M148 44h1M13 45h1M32 45h1M35 45h1M40 45h1M50 45h1M57 45h1M69 45h1M71 45h1M75 45h1M80 45h1M85 45h1M97 45h1M139 45h1M43 46h1M62 46h1M91 46h1M96 46h1M106 46h1M110 46h1M112 46h1M117 46h1M118 46h1M123 46h1M144 46h1M15 47h1M17 47h1M39 47h1M45 47h1M69 47h1M87 47h1M91 47h1M92 47h1M101 47h1M129 47h1M28 48h1M30 48h1M49 48h1M50 48h1M54 48h1M59 48h1M73 48h1M86 48h1M87 48h1M94 48h1M108 48h1M111 48h1M16 49h1M46 49h1M72 49h1M73 49h1M106 49h1M119 49h1M125 49h1M141 49h1M147 49h1M8 50h1M25 50h1M26 50h1M41 50h1M50 50h1M53 50h1M61 50h1M69 50h1M80 50h1M83 50h1M85 50h1M99 50h1M101 50h1M108 50h1M114 50h1M115 50h1M118 50h1M5 51h1M17 51h1M24 51h1M27 51h1M101 51h1M113 51h1M117 51h1M121 51h1M129 51h1M130 51h1M131 51h1M23 52h1M35 52h1M52 52h1M63 52h1M64 52h1M71 52h1M72 52h1M75 52h1M84 52h1M93 52h1M98 52h1M149 52h1M64 53h1M86 53h1M89 53h1M98 53h1M106 53h1M133 53h1M17 54h1M22 54h1M41 54h1M49 54h1M61 54h1M67 54h1M72 54h1M77 54h1M82 54h1M87 54h1M91 54h1M121 54h1M15 55h1M27 55h1M29 55h1M36 55h1M50 55h1M86 55h1M88 55h1M98 55h1M103 55h1M110 55h1M114 55h1M131 55h1M139 55h1M12 56h1M22 56h1M33 56h1M67 56h1M80 56h1M83 56h1M110 56h1M111 56h1M121 56h1M71 57h1M74 57h1M77 57h1M102 57h1M108 57h1M116 57h1M120 57h1M127 57h1M55 58h1M61 58h1M73 58h1M94 58h1M114 58h1M116 58h1M119 58h1M126 58h1M140 58h1M26 59h1M43 59h1M72 59h1M84 59h1M94 59h1M115 59h1M48 60h1M59 60h1M92 60h1M96 60h1M110 60h1M116 60h1M118 60h1M125 60h1M126 60h1M147 60h1M15 61h1M26 61h1M54 61h1M56 61h1M62 61h1M95 61h1M109 61h1M131 61h1M41 62h1M45 62h1M64 62h1M82 62h1M95 62h1M64 63h1M65 63h1M77 63h1M78 63h1M119 63h1M18 64h1M67 64h1M71 64h1M81 64h1M96 64h1M121 64h1M143 64h1M68 65h1M75 65h1M119 65h1M126 65h1M86 66h1M95 66h1M102 66h1M121 66h1M137 66h1M57 67h1M72 67h1M76 67h1M92 67h1M104 67h1M108 68h1M56 69h1M79 69h1M125 69h1M132 69h1M139 69h1M91 70h1M81 71h1M89 71h1M109 71h1M120 71h1M135 71h1M81 72h1M83 72h1M65 73h1M72 73h1M105 73h1M113 73h1M122 73h1M151 73h1M36 74h1M53 74h1M81 74h1M96 74h1M104 74h1M123 74h1M80 75h1M93 75h1M94 75h1M100 75h1M112 75h1M118 75h1M71 76h1M82 76h1M89 76h1M92 76h1M109 76h1M114 76h1M131 76h1M84 77h1M92 77h1M131 77h1M63 79h1M70 79h1M80 79h1M98 79h1M109 79h1M119 79h1M120 79h1M82 80h1M93 80h1M145 80h1M80 81h1M91 81h1M109 81h1M117 81h1M81 82h1M105 82h1M123 82h1M92 83h1M102 83h1M69 84h1M103 84h1M61 85h1M96 85h1M148 85h1M100 86h1M104 86h1M116 86h1M94 87h1M104 87h1M113 87h1M73 88h1M88 88h1M124 88h1M83 90h1M114 91h1M97 92h1M153 97h1M74 100h1M116 100h1M126 100h1M86 101h1M101 101h1M132 102h1M100 104h1M117 106h1M122 106h1M126 106h1M137 107h1M119 108h1M117 109h1M84 110h1M63 113h1M134 113h1M104 115h1M127 119h1M135 120h1M77 121h1M132 121h1M54 122h1M106 122h1M49 123h1M108 123h1M128 123h1M121 124h1M52 126h1M84 127h1M62 128h1M71 128h1M125 129h1M144 129h1M139 130h1M152 132h1M95 133h1M81 134h1M90 134h1M111 135h1M122 135h1M70 136h1M116 136h1M73 137h1M105 137h1M60 138h1M73 138h1M123 138h1M38 139h1M70 139h1M72 139h1M86 139h1M104 139h1M113 139h1M155 139h1M92 140h1M94 140h1M108 141h1M71 142h1M107 142h1M141 142h1M114 143h1M134 143h1M74 144h1M155 144h1M64 145h1M81 145h1M109 145h1M124 146h1M81 147h1M111 147h1M112 147h1M118 147h1M65 148h1M109 148h1M135 148h1M82 149h1M115 149h1M123 149h1M132 149h1M47 150h1M123 150h1M138 150h1M74 151h1M113 151h1M129 151h1M140 151h1M151 151h1M69 152h1M111 152h1M136 152h1M94 153h1M123 153h1M138 153h1M148 153h1M82 154h1M111 154h1M104 155h1M127 155h1M53 156h1M57 156h1M93 156h1M138 156h1M40 157h1M87 157h1M102 157h1M136 157h1M44 158h1M59 158h1M107 158h1M108 158h1M33 159h1M96 159h1M115 159h1M19 160h1M71 160h1M109 160h1M114 160h1M146 160h1M17 161h1M49 161h1M54 161h1M139 161h1M57 162h1M84 162h1M101 162h1M65 163h1M93 163h1M121 163h1M144 164h1M80 165h1M82 165h1M86 165h1M102 165h1M150 165h1M129 166h1M59 167h1M140 167h1M69 168h1M73 169h1M111 169h1M39 170h1M57 170h1M93 170h1M52 171h1M59 171h1M66 171h1M85 171h1M25 172h1M71 172h1M89 172h1M109 172h1M26 173h1M90 173h1M122 173h1M123 174h1M59 175h1M136 175h1M103 176h1M109 176h1M116 176h1M144 176h1M81 177h1M126 178h1M41 179h1M112 179h1M94 180h1M123 180h1M63 182h1M89 182h1M126 182h1M136 182h1M95 184h1M133 184h1M105 185h1M145 185h1M132 187h1M56 188h1M147 188h1" stroke="#9090ff" stroke-width="1" fill="none"/>
<path d="M95 26h1M37 27h1M25 28h1M83 28h1M27 29h1M79 29h1M7 30h1M80 30h1M115 30h1M127 30h1M46 31h1M53 31h1M75 31h1M91 31h1M101 31h1M111 31h1M18 32h1M26 32h1M85 32h1M100 32h1M34 33h1M43 33h1M56 33h1M59 33h1M69 33h1M103 33h1M105 33h1M106 33h1M112 33h1M117 33h1M118 33h1M119 33h1M128 33h1M139 33h1M149 33h1M12 34h1M38 34h1M42 34h1M52 34h1M65 34h1M70 34h1M86 34h1M137 34h1M12 35h1M24 35h1M53 35h1M65 35h1M68 35h1M81 35h1M102 35h1M140 35h1M141 35h1M31 36h1M33 36h1M47 36h1M49 36h1M59 36h1M74 36h1M76 36h1M83 36h1M90 36h1M93 36h1M95 36h1M99 36h1M102 36h1M106 36h1M110 36h1M120 36h1M136 36h1M143 36h1M11 37h1M29 37h1M38 37h1M46 37h1M57 37h1M65 37h1M72 37h1M75 37h1M79 37h1M88 37h1M96 37h1M101 37h1M112 37h1M117 37h1M120 37h1M122 37h1M136 37h1M147 37h1M23 38h1M28 38h1M40 38h1M46 38h1M58 38h1M81 38h1M84 38h1M98 38h1M109 38h1M133 38h1M10 39h1M11 39h1M12 39h1M13 39h1M16 39h1M26 39h1M34 39h1M38 39h1M42 39h1M44 39h1M50 39h1M76 39h1M94 39h1M100 39h1M113 39h1M146 39h1M12 40h1M14 40h1M19 40h1M22 40h1M24 40h1M30 40h1M35 40h1M45 40h1M81 40h1M84 40h1M90 40h1M91 40h1M112 40h1M119 40h1M132 40h1M147 40h1M149 40h1M2 41h1M23 41h1M24 41h1M35 41h1M36 41h1M40 41h1M41 41h1M45 41h1M48 41h1M56 41h1M71 41h1M72 41h1M75 41h1M81 41h1M82 41h1M103 41h1M104 41h1M108 41h1M112 41h1M9 42h1M14 42h1M22 42h1M25 42h1M32 42h1M45 42h1M61 42h1M77 42h1M83 42h1M88 42h1M112 42h1M118 42h1M119 42h1M120 42h1M121 42h1M8 43h1M34 43h1M35 43h1M40 43h1M44 43h1M55 43h1M58 43h1M67 43h1M71 43h1M78 43h1M85 43h1M95 43h1M99 43h1M101 43h1M103 43h1M110 43h1M117 43h1M119 43h1M125 43h1M127 43h1M143 43h1M6 44h1M16 44h1M19 44h1M28 44h1M32 44h1M36 44h1M39 44h1M42 44h1M48 44h1M61 44h1M68 44h1M70 44h1M73 44h1M74 44h1M78 44h1M89 44h1M92 44h1M104 44h1M113 44h1M117 44h1M131 44h1M138 44h1M18 45h1M27 45h1M39 45h1M42 45h1M44 45h1M45 45h1M47 45h1M56 45h1M66 45h1M77 45h1M78 45h1M87 45h1M88 45h1M91 45h1M105 45h1M106 45h1M110 45h1M113 45h1M117 45h1M121 45h1M123 45h1M24 46h1M30 46h1M31 46h1M36 46h1M37 46h1M38 46h1M41 46h1M53 46h1M55 46h1M80 46h1M81 46h1M83 46h1M85 46h1M90 46h1M99 46h1M108 46h1M126 46h1M127 46h1M128 46h1M131 46h1M140 46h1M19 47h1M21 47h1M34 47h1M40 47h1M41 47h1M42 47h1M50 47h1M55 47h1M59 47h1M70 47h1M79 47h1M81 47h1M86 47h1M102 47h1M109 47h1M114 47h1M143 47h1M9 48h1M14 48h1M15 48h1M32 48h1M34 48h1M40 48h1M53 48h1M66 48h1M68 48h1M85 48h1M89 48h1M92 48h1M110 48h1M115 48h1M124 48h1M130 48h1M134 48h1M135 48h1M149 48h1M19 49h1M32 49h1M50 49h1M51 49h1M58 49h1M62 49h1M91 49h1M128 49h1M140 49h1M22 50h1M34 50h1M44 50h1M56 50h1M59 50h1M74 50h1M79 50h1M92 50h1M98 50h1M103 50h1M113 50h1M121 50h1M122 50h1M125 50h1M144 50h1M31 51h1M37 51h1M49 51h1M52 51h1M54 51h1M59 51h1M69 51h1M80 51h1M84 51h1M86 51h1M88 51h1M99 51h1M104 51h1M106 51h1M124 51h1M14 52h1M28 52h1M32 52h1M39 52h1M48 52h1M53 52h1M67 52h1M81 52h1M87 52h1M96 52h1M99 52h1M104 52h1M107 52h1M109 52h1M120 52h1M139 52h1M23 53h1M28 53h1M30 53h1M37 53h1M43 53h1M51 53h1M59 53h1M63 53h1M75 53h1M77 53h1M87 53h1M96 53h1M110 53h1M115 53h1M117 53h1M128 53h1M130 53h1M134 53h1M135 53h1M13 54h1M16 54h1M35 54h1M45 54h1M57 54h1M73 54h1M83 54h1M86 54h1M93 54h1M95 54h1M116 54h1M136 54h1M155 54h1M3 55h1M46 55h1M53 55h1M54 55h1M56 55h1M62 55h1M75 55h1M91 55h1M101 55h1M123 55h1M132 55h1M137 55h1M9 56h1M24 56h1M35 56h1M37 56h1M42 56h1M53 56h1M61 56h1M64 56h1M65 56h1M69 56h1M89 56h1M126 56h1M47 57h1M63 57h1M68 57h1M72 57h1M85 57h1M101 57h1M103 57h1M107 57h1M112 57h1M121 57h1M132 57h1M139 57h1M39 58h1M62 58h1M64 58h1M66 58h1M71 58h1M72 58h1M87 58h1M88 58h1M101 58h1M115 58h1M122 58h1M25 59h1M29 59h1M40 59h1M70 59h1M82 59h1M87 59h1M89 59h1M95 59h1M97 59h1M101 59h1M102 59h1M103 59h1M105 59h1M107 59h1M114 59h1M129 59h1M21 60h1M22 60h1M30 60h1M39 60h1M51 60h1M67 60h1M70 60h1M74 60h1M84 60h1M87 60h1M101 60h1M115 60h1M117 60h1M122 60h1M141 60h1M30 61h1M36 61h1M41 61h1M51 61h1M58 61h1M59 61h1M80 61h1M83 61h1M88 61h1M97 61h1M102 61h1M103 61h1M106 61h1M113 61h1M120 61h1M16 62h1M51 62h1M54 62h1M80 62h1M83 62h1M101 62h1M104 62h1M119 62h1M131 62h1M134 62h1M11 63h1M81 63h1M95 63h1M43 64h1M79 64h1M114 64h1M129 64h1M136 64h1M142 64h1M83 65h1M89 65h1M90 65h1M110 65h1M123 65h1M65 66h1M70 66h1M71 66h1M72 66h1M98 66h1M103 66h1M106 66h1M43 67h1M93 67h1M96 67h1M100 67h1M132 67h1M139 67h1M33 68h1M46 68h1M97 68h1M122 68h1M124 68h1M133 68h1M144 68h1M68 69h1M83 69h1M84 69h1M99 69h1M104 69h1M115 69h1M123 69h1M155 69h1M27 70h1M35 70h1M78 70h1M83 70h1M103 70h1M106 70h1M123 70h1M124 70h1M135 70h1M75 71h1M97 71h1M134 71h1M152 71h1M23 72h1M51 72h1M104 72h1M123 72h1M135 72h1M84 73h1M92 73h1M68 74h1M93 74h1M113 74h1M145 74h1M8 75h1M54 75h1M58 75h1M77 75h1M79 75h1M148 75h1M51 76h1M86 76h1M105 76h1M120 76h1M96 77h1M109 77h1M111 77h1M140 77h1M65 78h1M89 78h1M109 78h1M126 78h1M128 78h1M130 78h1M133 78h1M76 79h1M82 79h1M93 79h1M100 79h1M126 79h1M143 79h1M18 80h1M60 80h1M77 80h1M87 80h1M98 80h1M99 80h1M105 80h1M125 80h1M56 81h1M90 81h1M108 81h1M88 82h1M95 82h1M96 82h1M104 82h1M113 82h1M60 83h1M106 83h1M111 83h1M117 83h1M130 83h1M102 84h1M108 84h1M123 84h1M131 85h1M65 86h1M110 86h1M86 87h1M97 87h1M60 88h1M65 88h1M130 88h1M97 89h1M150 89h1M140 90h1M112 92h1M142 92h1M53 93h1M89 96h1M107 96h1M125 96h1M129 96h1M114 97h1M139 98h1M122 99h1M121 100h1M137 100h1M138 101h1M111 102h1M116 107h1M134 107h1M108 108h1M112 108h1M70 109h1M127 109h1M148 109h1M54 110h1M113 111h1M123 111h1M124 111h1M127 113h1M95 114h1M128 115h1M47 116h1M66 117h1M125 119h1M91 120h1M61 121h1M34 122h1M123 122h1M138 122h1M145 122h1M101 123h1M133 123h1M136 123h1M102 124h1M112 124h1M146 125h1M122 126h1M153 127h1M79 128h1M112 128h1M117 128h1M39 129h1M96 129h1M113 129h1M145 129h1M50 130h1M68 130h1M102 130h1M150 130h1M42 131h1M112 131h1M153 131h1M41 132h1M91 132h1M102 132h1M117 132h1M120 132h1M83 133h1M123 133h1M127 133h1M136 133h1M137 133h1M35 134h1M36 134h1M96 134h1M105 134h1M60 136h1M56 137h1M93 137h1M117 137h1M125 137h1M80 138h1M90 138h1M97 138h1M105 138h1M106 138h1M87 139h1M140 139h1M59 140h1M77 140h1M83 140h1M139 140h1M28 141h1M87 141h1M90 141h1M120 141h1M99 142h1M114 142h1M124 142h1M85 143h1M86 143h1M97 143h1M118 143h1M83 144h1M106 144h1M117 144h1M142 144h1M153 144h1M45 145h1M61 145h1M99 145h1M128 145h1M134 145h1M75 146h1M99 146h1M117 147h1M150 147h1M36 148h1M45 148h1M46 148h1M68 148h1M73 148h1M124 148h1M69 149h1M112 149h1M127 149h1M68 150h1M119 150h1M127 150h1M93 151h1M105 151h1M124 151h1M141 151h1M154 151h1M100 152h1M26 153h1M41 153h1M78 153h1M85 153h1M104 153h1M105 153h1M108 153h1M115 153h1M130 153h1M54 154h1M104 154h1M143 154h1M45 155h1M54 155h1M65 155h1M81 155h1M145 156h1M126 157h1M139 157h1M39 158h1M62 158h1M66 158h1M67 158h1M113 158h1M140 158h1M58 159h1M95 159h1M111 159h1M135 159h1M137 159h1M56 160h1M61 160h1M87 160h1M102 160h1M135 160h1M95 161h1M103 161h1M110 161h1M31 162h1M90 162h1M95 162h1M54 163h1M86 163h1M126 163h1M51 164h1M64 164h1M100 164h1M111 164h1M74 165h1M98 165h1M124 165h1M131 165h1M153 165h1M31 166h1M62 166h1M136 166h1M36 167h1M70 167h1M102 167h1M119 167h1M127 167h1M142 167h1M104 168h1M113 168h1M122 168h1M69 169h1M74 169h1M95 169h1M108 169h1M115 169h1M122 169h1M34 170h1M77 170h1M130 170h1M132 170h1M150 170h1M114 171h1M124 171h1M74 172h1M76 172h1M88 172h1M75 173h1M136 173h1M6 174h1M103 175h1M44 176h1M86 176h1M98 176h1M125 176h1M17 177h1M102 177h1M135 177h1M81 178h1M105 178h1M119 178h1M134 178h1M136 178h1M99 179h1M111 179h1M68 180h1M114 180h1M137 180h1M138 180h1M44 181h1M110 181h1M117 182h1M121 182h1M122 182h1M141 182h1M128 183h1M82 184h1M142 184h1M106 185h1M43 187h1M125 187h1M136 187h1M135 188h1" stroke="#1010ff" stroke-width="1" fill="none"/>
<path d="M6 28h1M38 28h1M33 29h1M46 29h1M66 29h1M68 29h1M116 29h1M12 30h1M42 30h1M78 30h1M96 30h1M110 30h1M116 30h1M138 30h1M139 30h1M21 31h1M25 31h1M48 31h1M67 31h1M68 31h1M76 31h1M78 31h1M85 31h1M90 31h1M96 31h1M106 31h1M123 31h1M129 31h1M134 31h1M33 32h1M47 32h1M70 32h1M79 32h1M88 32h1M94 32h1M99 32h1M105 32h1M113 32h1M129 32h1M135 32h1M36 33h1M42 33h1M94 33h1M99 33h1M100 33h1M108 33h1M113 33h1M115 33h1M121 33h1M147 33h1M1 34h1M22 34h1M34 34h1M36 34h1M43 34h1M58 34h1M72 34h1M74 34h1M84 34h1M91 34h1M98 34h1M101 34h1M109 34h1M112 34h1M113 34h1M122 34h1M131 34h1M142 34h1M148 34h1M3 35h1M18 35h1M25 35h1M42 35h1M43 35h1M54 35h1M56 35h1M58 35h1M59 35h1M61 35h1M69 35h1M74 35h1M78 35h1M101 35h1M109 35h1M111 35h1M115 35h1M118 35h1M125 35h1M130 35h1M8 36h1M10 36h1M43 36h1M53 36h1M54 36h1M63 36h1M71 36h1M75 36h1M80 36h1M84 36h1M91 36h1M97 36h1M104 36h1M105 36h1M111 36h1M117 36h1M138 36h1M140 36h1M141 36h1M13 37h1M47 37h1M60 37h1M62 37h1M67 37h1M71 37h1M74 37h1M78 37h1M80 37h1M85 37h1M95 37h1M130 37h1M131 37h1M24 38h1M27 38h1M31 38h1M42 38h1M50 38h1M51 38h1M54 38h1M60 38h1M62 38h1M70 38h1M89 38h1M97 38h1M102 38h1M112 38h1M115 38h1M145 38h1M149 38h1M8 39h1M9 39h1M35 39h1M47 39h1M57 39h1M58 39h1M64 39h1M65 39h1M78 39h1M86 39h1M96 39h1M102 39h1M106 39h1M116 39h1M121 39h1M122 39h1M125 39h1M135 39h1M138 39h1M145 39h1M152 39h1M6 40h1M7 40h1M10 40h1M27 40h1M39 40h1M46 40h1M49 40h1M50 40h1M54 40h1M66 40h1M71 40h1M73 40h1M76 40h1M83 40h1M89 40h1M93 40h1M102 40h1M109 40h1M117 40h1M123 40h1M124 40h1M126 40h1M134 40h1M150 40h1M21 41h1M25 41h1M31 41h1M33 41h1M37 41h1M39 41h1M44 41h1M51 41h1M64 41h1M67 41h1M79 41h1M85 41h1M89 41h1M90 41h1M92 41h1M94 41h1M99 41h1M106 41h1M109 41h1M110 41h1M113 41h1M114 41h1M121 41h1M133 41h1M136 41h1M138 41h1M11 42h1M36 42h1M38 42h1M42 42h1M66 42h1M68 42h1M75 42h1M76 42h1M86 42h1M89 42h1M96 42h1M102 42h1M107 42h1M111 42h1M114 42h1M123 42h1M147 42h1M153 42h1M7 43h1M12 43h1M26 43h1M39 43h1M42 43h1M52 43h1M64 43h1M65 43h1M69 43h1M70 43h1M81 43h1M87 43h1M89 43h1M93 43h1M96 43h1M98 43h1M100 43h1M129 43h1M136 43h1M137 43h1M139 43h1M10 44h1M13 44h1M18 44h1M27 44h1M37 44h1M38 44h1M49 44h1M56 44h1M60 44h1M64 44h1M81 44h1M83 44h1M86 44h1M88 44h1M94 44h1M106 44h1M109 44h1M116 44h1M125 44h1M129 44h1M142 44h1M144 44h1M145 44h1M15 45h1M16 45h1M25 45h1M26 45h1M30 45h1M31 45h1M43 45h1M54 45h1M64 45h1M67 45h1M70 45h1M74 45h1M89 45h1M95 45h1M96 45h1M98 45h1M101 45h1M116 45h1M132 45h1M133 45h1M6 46h1M19 46h1M23 46h1M32 46h1M35 46h1M40 46h1M45 46h1M48 46h1M54 46h1M57 46h1M59 46h1M65 46h1M71 46h1M75 46h1M82 46h1M84 46h1M86 46h1M97 46h1M105 46h1M116 46h1M120 46h1M121 46h1M122 46h1M124 46h1M137 46h1M152 46h1M20 47h1M24 47h1M27 47h1M35 47h1M36 47h1M48 47h1M65 47h1M74 47h1M80 47h1M83 47h1M132 47h1M138 47h1M142 47h1M148 47h1M13 48h1M17 48h1M52 48h1M62 48h1M63 48h1M65 48h1M67 48h1M78 48h1M80 48h1M81 48h1M83 48h1M88 48h1M90 48h1M96 48h1M105 48h1M106 48h1M127 48h1M128 48h1M129 48h1M132 48h1M137 48h1M144 48h1M25 49h1M27 49h1M31 49h1M47 49h1M49 49h1M63 49h1M65 49h1M67 49h1M83 49h1M90 49h1M93 49h1M101 49h1M109 49h1M110 49h1M112 49h1M114 49h1M121 49h1M133 49h1M1 50h1M21 50h1M28 50h1M42 50h1M45 50h1M72 50h1M73 50h1M75 50h1M77 50h1M84 50h1M86 50h1M87 50h1M88 50h1M91 50h1M117 50h1M123 50h1M127 50h1M131 50h1M132 50h1M139 50h1M13 51h1M16 51h1M23 51h1M26 51h1M38 51h1M48 51h1M51 51h1M57 51h1M73 51h1M77 51h1M85 51h1M87 51h1M89 51h1M100 51h1M107 51h1M108 51h1M114 51h1M115 51h1M128 51h1M30 52h1M42 52h1M44 52h1M45 52h1M49 52h1M65 52h1M66 52h1M73 52h1M80 52h1M106 52h1M113 52h1M114 52h1M121 52h1M122 52h1M124 52h1M125 52h1M129 52h1M151 52h1M13 53h1M31 53h1M33 53h1M42 53h1M52 53h1M54 53h1M57 53h1M58 53h1M60 53h1M62 53h1M65 53h1M76 53h1M81 53h1M83 53h1M92 53h1M100 53h1M103 53h1M108 53h1M113 53h1M127 53h1M27 54h1M30 54h1M43 54h1M52 54h1M64 54h1M69 54h1M85 54h1M97 54h1M106 54h1M112 54h1M120 54h1M134 54h1M25 55h1M52 55h1M57 55h1M77 55h1M82 55h1M90 55h1M93 55h1M100 55h1M108 55h1M109 55h1M136 55h1M140 55h1M14 56h1M15 56h1M34 56h1M49 56h1M70 56h1M79 56h1M86 56h1M87 56h1M96 56h1M97 56h1M104 56h1M108 56h1M117 56h1M128 56h1M130 56h1M148 56h1M16 57h1M25 57h1M40 57h1M50 57h1M57 57h1M67 57h1M86 57h1M88 57h1M92 57h1M96 57h1M100 57h1M135 57h1M146 57h1M12 58h1M26 58h1M28 58h1M69 58h1M79 58h1M83 58h1M109 58h1M113 58h1M121 58h1M139 58h1M2 59h1M7 59h1M21 59h1M35 59h1M37 59h1M56 59h1M62 59h1M64 59h1M75 59h1M86 59h1M93 59h1M99 59h1M113 59h1M120 59h1M125 59h1M132 59h1M138 59h1M27 60h1M34 60h1M64 60h1M82 60h1M106 60h1M109 60h1M111 60h1M120 60h1M128 60h1M129 60h1M135 60h1M138 60h1M139 60h1M17 61h1M34 61h1M42 61h1M44 61h1M50 61h1M65 61h1M74 61h1M81 61h1M86 61h1M91 61h1M99 61h1M100 61h1M101 61h1M127 61h1M144 61h1M26 62h1M67 62h1M76 62h1M96 62h1M103 62h1M108 62h1M111 62h1M121 62h1M5 63h1M35 63h1M40 63h1M47 63h1M71 63h1M84 63h1M91 63h1M94 63h1M98 63h1M101 63h1M106 63h1M139 63h1M141 63h1M143 63h1M41 64h1M47 64h1M50 64h1M56 64h1M57 64h1M82 64h1M84 64h1M89 64h1M90 64h1M91 64h1M109 64h1M120 64h1M124 64h1M128 64h1M69 65h1M91 65h1M93 65h1M130 65h1M144 65h1M7 66h1M35 66h1M58 66h1M76 66h1M77 66h1M79 66h1M80 66h1M109 66h1M110 66h1M113 66h1M118 66h1M119 66h1M14 67h1M81 67h1M83 67h1M105 67h1M108 67h1M110 67h1M122 67h1M143 67h1M44 68h1M79 68h1M91 68h1M101 68h1M105 68h1M118 68h1M119 68h1M138 68h1M69 69h1M75 69h1M78 69h1M80 69h1M85 69h1M97 69h1M117 69h1M119 69h1M121 69h1M131 69h1M81 70h1M87 70h1M110 70h1M150 70h1M152 70h1M64 71h1M91 71h1M99 71h1M131 72h1M137 72h1M139 72h1M58 73h1M71 73h1M85 73h1M90 73h1M104 73h1M108 73h1M112 73h1M114 73h1M116 73h1M117 73h1M51 74h1M74 74h1M91 74h1M114 74h1M144 74h1M105 75h1M117 75h1M128 75h1M55 76h1M80 76h1M94 76h1M96 76h1M103 76h1M125 76h1M129 76h1M133 76h1M137 76h1M110 77h1M77 78h1M90 78h1M94 78h1M131 78h1M132 78h1M142 78h1M143 78h1M58 79h1M71 79h1M84 79h1M107 79h1M137 79h1M101 80h1M102 80h1M108 80h1M109 80h1M114 80h1M133 80h1M66 81h1M87 82h1M97 82h1M99 82h1M101 82h1M136 82h1M142 82h1M147 82h1M101 83h1M127 83h1M61 84h1M76 84h1M82 84h1M130 84h1M63 85h1M65 85h1M107 85h1M144 85h1M114 86h1M103 87h1M108 87h1M112 88h1M94 89h1M117 89h1M118 89h1M106 90h1M78 91h1M86 91h1M111 91h1M115 91h1M137 91h1M93 92h1M132 92h1M137 92h1M76 93h1M87 93h1M100 93h1M122 93h1M142 93h1M102 94h1M120 94h1M145 95h1M99 96h1M118 96h1M117 97h1M103 100h1M106 100h1M122 100h1M125 100h1M143 102h1M116 103h1M101 104h1M128 104h1M147 105h1M100 106h1M133 106h1M122 108h1M146 109h1M111 111h1M137 111h1M133 112h1M102 113h1M114 114h1M123 114h1M143 114h1M49 115h1M111 115h1M112 117h1M98 118h1M120 118h1M121 118h1M56 119h1M130 119h1M138 119h1M42 120h1M136 120h1M131 122h1M106 123h1M123 123h1M119 124h1M122 124h1M120 125h1M103 126h1M100 128h1M105 128h1M147 131h1M74 132h1M114 132h1M65 133h1M97 133h1M110 133h1M126 133h1M44 134h1M51 134h1M93 134h1M107 134h1M111 134h1M119 134h1M128 134h1M132 134h1M52 135h1M74 135h1M75 135h1M87 135h1M30 136h1M65 136h1M48 137h1M51 138h1M122 138h1M79 139h1M94 139h1M110 139h1M121 139h1M66 140h1M81 140h1M98 140h1M107 140h1M142 140h1M32 141h1M82 141h1M114 141h1M121 141h1M123 141h1M150 141h1M38 142h1M45 142h1M74 142h1M82 142h1M111 142h1M119 142h1M133 142h1M104 143h1M121 143h1M125 143h1M144 143h1M39 144h1M50 144h1M51 144h1M58 144h1M71 144h1M123 144h1M124 144h1M143 144h1M54 145h1M107 145h1M114 145h1M122 145h1M63 146h1M90 146h1M96 146h1M114 146h1M115 146h1M122 146h1M142 146h1M72 147h1M99 147h1M79 148h1M101 148h1M130 148h1M138 148h1M37 149h1M90 149h1M94 149h1M107 149h1M129 149h1M40 150h1M67 150h1M70 150h1M92 150h1M96 150h1M130 150h1M110 151h1M116 151h1M125 151h1M130 151h1M138 151h1M146 151h1M41 152h1M60 152h1M64 152h1M70 152h1M84 152h1M90 152h1M122 152h1M131 152h1M31 153h1M53 153h1M61 153h1M116 153h1M124 153h1M63 154h1M77 154h1M118 154h1M20 155h1M69 155h1M70 155h1M73 155h1M106 155h1M126 155h1M131 155h1M63 156h1M88 156h1M107 156h1M122 156h1M146 156h1M8 157h1M70 157h1M101 157h1M104 157h1M105 157h1M133 157h1M93 158h1M101 158h1M106 158h1M116 158h1M46 159h1M55 159h1M56 159h1M88 159h1M92 159h1M129 159h1M133 159h1M145 159h1M27 160h1M67 160h1M80 160h1M91 160h1M125 160h1M82 161h1M99 161h1M114 161h1M129 161h1M46 162h1M68 162h1M82 162h1M115 162h1M118 162h1M129 162h1M139 162h1M140 162h1M41 163h1M74 163h1M113 163h1M133 163h1M150 163h1M70 164h1M104 164h1M107 164h1M114 164h1M127 164h1M140 164h1M63 165h1M75 165h1M76 165h1M87 165h1M93 165h1M100 166h1M107 166h1M119 166h1M133 166h1M88 167h1M98 167h1M138 167h1M146 167h1M149 167h1M152 167h1M33 168h1M56 168h1M71 168h1M77 168h1M99 168h1M107 168h1M118 168h1M128 168h1M131 168h1M66 169h1M118 169h1M121 169h1M49 170h1M138 170h1M140 171h1M146 171h1M37 172h1M114 172h1M119 172h1M57 174h1M71 174h1M103 174h1M118 174h1M119 174h1M33 175h1M89 175h1M114 175h1M144 175h1M149 175h1M115 176h1M48 177h1M91 177h1M59 178h1M64 178h1M83 178h1M97 178h1M99 178h1M112 178h1M143 178h1M56 179h1M102 179h1M78 180h1M84 180h1M140 180h1M142 180h1M94 181h1M32 183h1M56 183h1M122 183h1M31 184h1M67 184h1M107 185h1M113 185h1M128 185h1M129 185h1M34 186h1M82 186h1M131 186h1M140 186h1M67 187h1M95 187h1M107 187h1M112 187h1M141 188h1M72 189h1" stroke="#ccccff" stroke-width="1" fill="none"/>
<path d="M130 31h1M75 32h1M98 32h1M78 34h1M108 35h1M113 35h1M57 36h1M98 36h1M119 36h1M24 37h1M35 37h1M58 37h1M69 37h1M70 37h1M82 37h1M99 37h1M125 37h1M19 38h1M56 38h1M85 38h1M94 38h1M100 38h1M107 38h1M123 38h1M131 38h1M40 39h1M54 39h1M61 39h1M63 39h1M95 39h1M114 39h1M118 39h1M126 39h1M134 39h1M34 40h1M48 40h1M56 40h1M68 40h1M75 40h1M98 40h1M111 40h1M142 40h1M61 41h1M117 41h1M119 41h1M41 42h1M44 42h1M71 42h1M84 42h1M85 42h1M94 42h1M108 42h1M110 42h1M141 42h1M33 43h1M46 43h1M51 43h1M61 43h1M66 43h1M68 43h1M79 43h1M88 43h1M92 43h1M97 43h1M104 43h1M105 43h1M109 43h1M29 44h1M30 44h1M35 44h1M46 44h1M52 44h1M65 44h1M71 44h1M77 44h1M84 44h1M85 44h1M95 44h1M103 44h1M111 44h1M112 44h1M134 44h1M136 44h1M137 44h1M41 45h1M62 45h1M68 45h1M79 45h1M81 45h1M103 45h1M108 45h1M114 45h1M130 45h1M15 46h1M49 46h1M52 46h1M66 46h1M72 46h1M73 46h1M94 46h1M109 46h1M138 46h1M23 47h1M26 47h1M60 47h1M61 47h1M75 47h1M77 47h1M88 47h1M106 47h1M108 47h1M118 47h1M131 47h1M23 48h1M33 48h1M35 48h1M42 48h1M57 48h1M58 48h1M69 48h1M70 48h1M74 48h1M76 48h1M114 48h1M120 48h1M44 49h1M85 49h1M88 49h1M96 49h1M97 49h1M98 49h1M105 49h1M124 49h1M131 49h1M47 50h1M49 50h1M51 50h1M60 50h1M81 50h1M90 50h1M96 50h1M112 50h1M116 50h1M119 50h1M35 51h1M42 51h1M63 51h1M67 51h1M95 51h1M96 51h1M69 52h1M79 52h1M85 52h1M88 52h1M110 52h1M126 52h1M68 53h1M72 53h1M82 53h1M94 53h1M101 53h1M109 53h1M121 53h1M40 54h1M50 54h1M55 54h1M94 54h1M96 54h1M74 55h1M89 55h1M112 55h1M122 55h1M58 56h1M74 56h1M91 56h1M94 56h1M102 56h1M118 56h1M44 57h1M45 57h1M61 57h1M130 57h1M49 58h1M44 59h1M65 59h1M78 59h1M92 59h1M93 60h1M99 60h1M130 60h1M70 61h1M126 61h1M90 62h1M115 62h1M117 62h1M131 63h1M92 64h1M94 64h1M117 64h1M94 65h1M62 67h1M87 67h1M103 67h1M113 67h1M38 68h1M85 68h1M87 69h1M96 69h1M76 70h1M93 70h1M128 71h1M91 72h1M103 72h1M84 74h1M92 74h1M102 74h1M99 75h1M59 76h1M93 76h1M110 76h1M122 80h1M135 83h1M106 84h1M108 113h1M146 120h1M128 135h1M87 142h1M106 145h1M99 151h1M128 155h1M75 156h1M136 159h1M85 162h1M130 163h1M122 164h1M103 166h1M97 170h1M109 171h1M116 175h1M123 177h1M124 177h1M110 180h1" stroke="#e8e010" stroke-width="1" fill="none"/>
<path d="M21 32h1M117 32h1M118 32h1M89 33h1M39 34h1M132 34h1M52 35h1M87 35h1M89 35h1M99 35h1M12 36h1M61 36h1M92 36h1M123 36h1M20 37h1M73 37h1M97 37h1M10 38h1M36 38h1M48 38h1M63 38h1M64 38h1M67 38h1M71 38h1M87 38h1M96 38h1M104 38h1M122 38h1M135 38h1M62 39h1M88 39h1M89 39h1M101 39h1M151 39h1M16 40h1M31 40h1M40 40h1M53 40h1M64 40h1M65 40h1M72 40h1M77 40h1M87 40h1M92 40h1M100 40h1M103 40h1M106 40h1M118 40h1M87 41h1M93 41h1M95 41h1M97 41h1M35 42h1M50 42h1M62 42h1M63 42h1M65 42h1M67 42h1M70 42h1M78 42h1M80 42h1M101 42h1M127 42h1M37 43h1M53 43h1M62 43h1M73 43h1M76 43h1M91 43h1M112 43h1M114 43h1M115 43h1M118 43h1M124 43h1M57 44h1M63 44h1M82 44h1M87 44h1M90 44h1M97 44h1M101 44h1M105 44h1M110 44h1M121 44h1M126 44h1M46 45h1M49 45h1M51 45h1M59 45h1M61 45h1M76 45h1M93 45h1M100 45h1M109 45h1M115 45h1M122 45h1M127 45h1M136 45h1M138 45h1M29 46h1M42 46h1M58 46h1M76 46h1M98 46h1M32 47h1M38 47h1M46 47h1M63 47h1M64 47h1M66 47h1M71 47h1M100 47h1M110 47h1M111 47h1M112 47h1M36 48h1M61 48h1M79 48h1M82 48h1M98 48h1M112 48h1M117 48h1M141 48h1M35 49h1M40 49h1M60 49h1M71 49h1M92 49h1M103 49h1M52 50h1M63 50h1M64 50h1M66 50h1M89 50h1M93 50h1M94 50h1M104 50h1M109 50h1M128 50h1M41 51h1M53 51h1M71 51h1M97 51h1M105 51h1M112 51h1M120 51h1M138 51h1M54 52h1M74 52h1M77 52h1M91 52h1M97 52h1M134 52h1M136 52h1M55 53h1M66 53h1M74 53h1M90 53h1M105 53h1M114 53h1M36 54h1M54 54h1M66 54h1M81 54h1M88 54h1M101 54h1M117 54h1M123 54h1M133 54h1M39 55h1M68 55h1M97 55h1M102 55h1M104 55h1M129 55h1M47 56h1M76 56h1M88 56h1M101 56h1M115 56h1M122 56h1M34 57h1M52 57h1M59 57h1M91 57h1M94 57h1M113 57h1M123 57h1M124 57h1M29 58h1M90 58h1M107 58h1M80 60h1M88 60h1M103 60h1M112 60h1M76 61h1M98 61h1M108 61h1M92 63h1M111 63h1M62 64h1M100 64h1M112 64h1M103 65h1M78 66h1M124 66h1M84 67h1M119 67h1M99 68h1M86 72h1M108 74h1M119 78h1M113 79h1M130 79h1M97 81h1M125 82h1M120 83h1M108 131h1M104 134h1M128 137h1M138 140h1M77 143h1M123 175h1M111 177h1M105 179h1" stroke="#0000f0" stroke-width="1" fill="none"/>
<path d="M97 35h1M106 35h1M53 39h1M63 40h1M20 41h1M96 41h1M72 42h1M107 43h1M120 43h1M140 43h1M50 44h1M96 44h1M53 45h1M83 45h1M141 46h1M90 47h1M93 47h1M77 48h1M103 51h1M112 52h1M118 55h1M99 57h1M110 63h1M104 64h1" stroke="#ff8a10" stroke-width="1" fill="none"/>
<path d="M67 36h1M89 37h1M100 37h1M111 37h1M39 38h1M76 38h1M78 38h1M86 38h1M91 38h1M81 39h1M82 39h1M115 39h1M58 40h1M94 40h1M96 40h1M110 40h1M68 41h1M80 41h1M107 41h1M24 42h1M58 42h1M90 42h1M92 42h1M104 42h1M117 42h1M59 43h1M60 43h1M80 43h1M43 44h1M55 44h1M59 44h1M67 44h1M80 44h1M120 44h1M60 45h1M73 45h1M111 45h1M47 46h1M51 46h1M61 46h1M78 46h1M95 46h1M30 47h1M49 47h1M51 47h1M72 47h1M85 47h1M96 47h1M98 47h1M29 48h1M31 48h1M45 48h1M84 48h1M100 48h1M101 48h1M107 48h1M74 49h1M78 49h1M100 49h1M58 50h1M95 50h1M120 50h1M62 52h1M89 52h1M70 53h1M125 53h1M79 54h1M128 55h1M96 58h1M99 58h1M100 60h1M86 69h1M104 70h1" stroke="#f0e000" stroke-width="1" fill="none"/>
<path d="M70 36h1M78 36h1M116 36h1M92 38h1M119 38h1M49 39h1M61 40h1M86 40h1M54 41h1M57 42h1M49 43h1M50 46h1M100 46h1M47 48h1M72 48h1M78 50h1M110 50h1M84 54h1M99 55h1M110 61h1M107 141h1" stroke="#e8d020" stroke-width="1" fill="none"/>
<path d="M80 39h1M33 40h1M37 40h1M57 40h1M91 41h1M102 44h1M114 44h1M67 46h1M93 46h1M103 46h1M43 47h1M117 47h1M70 49h1M89 49h1M54 50h1M87 55h1" stroke="#ff7a10" stroke-width="1" fill="none"/>
<path d="M119 39h1M69 40h1M38 41h1M41 43h1M47 43h1M76 44h1M63 45h1M112 45h1M95 47h1M71 48h1M113 48h1M110 51h1M94 52h1M89 54h1M84 57h1M112 130h1" stroke="#ff2000" stroke-width="1" fill="none"/>
</g>
<rect x="953.3" y="424.6" width="254.5" height="255.0" fill="none" stroke="#9a9a9a" stroke-width="1.3"/>
<line x1="952.8" y1="679.6" x2="1208.3" y2="679.6" stroke="#222" stroke-width="1.4"/>
<line x1="953.3" y1="424.6" x2="953.3" y2="679.6" stroke="#777" stroke-width="1.4"/>
<line x1="1085.0" y1="425.6" x2="1085.0" y2="679.6" stroke="#000" stroke-width="4"/>
<line x1="953.3" y1="546.9" x2="1207.8" y2="546.9" stroke="#000" stroke-width="3.6"/>
<path d="M953.5 679.6v7.5M972.1 679.6v4M983.0 679.6v4M990.7 679.6v4M996.7 679.6v4M1001.6 679.6v4M1005.7 679.6v4M1009.3 679.6v4M1012.5 679.6v4M1015.3 679.6v7.5M1033.7 679.6v4M1044.5 679.6v4M1052.1 679.6v4M1058.1 679.6v4M1062.9 679.6v4M1067.0 679.6v4M1070.6 679.6v4M1073.7 679.6v4M1076.5 679.6v7.5M1095.5 679.6v4M1106.6 679.6v4M1114.4 679.6v4M1120.5 679.6v4M1125.5 679.6v4M1129.7 679.6v4M1133.4 679.6v4M1136.6 679.6v4M1139.5 679.6v7.5M1158.3 679.6v4M1169.2 679.6v4M1177.0 679.6v4M1183.0 679.6v4M1188.0 679.6v4M1192.1 679.6v4M1195.8 679.6v4M1198.9 679.6v4M1201.8 679.6v7.5" stroke="#111" stroke-width="1.3" fill="none"/>
<path d="M953.3 647.8h-8M953.3 629.0h-4M953.3 618.0h-4M953.3 610.2h-4M953.3 604.2h-4M953.3 599.2h-4M953.3 595.1h-4M953.3 591.4h-4M953.3 588.3h-4M953.3 585.1h-8M953.3 566.3h-4M953.3 555.3h-4M953.3 547.5h-4M953.3 541.5h-4M953.3 536.5h-4M953.3 532.4h-4M953.3 528.7h-4M953.3 525.6h-4M953.3 523.3h-8M953.3 504.5h-4M953.3 493.5h-4M953.3 485.7h-4M953.3 479.7h-4M953.3 474.7h-4M953.3 470.6h-4M953.3 466.9h-4M953.3 463.8h-4M953.3 460.6h-8M953.3 441.8h-4M953.3 430.8h-4M953.3 672.6h-4M953.3 666.6h-4M953.3 661.6h-4M953.3 657.5h-4M953.3 653.8h-4M953.3 650.7h-4" stroke="#111" stroke-width="1.3" fill="none"/>
<g font-size="18.2" font-weight="bold" class="tl" stroke="#000" stroke-width="0.35" filter="url(#bt)">
<text x="955.9" y="726.5">10</text><text x="976.5" y="712.7">2</text>
<text x="1004.7" y="726.5">10</text><text x="1025.3" y="712.7">3</text>
<text x="1067.7" y="726.5">10</text><text x="1088.3" y="712.7">4</text>
<text x="1129.7" y="726.5">10</text><text x="1150.3" y="712.7">5</text>
<text x="1177.1" y="726.5">10</text><text x="1197.7" y="712.7">6</text>
<text x="911.7" y="660.1">10</text><text x="931.7" y="646.3">3</text>
<text x="911.7" y="597.4">10</text><text x="931.7" y="583.6">4</text>
<text x="911.7" y="535.6">10</text><text x="931.7" y="521.8">5</text>
<text x="911.7" y="472.9">10</text><text x="931.7" y="459.1">6</text>
</g>
<text x="970.4" y="457.6" font-size="31.5">50.4</text>
<text x="438" y="59.7" font-size="39" font-weight="bold" text-anchor="middle" >0.1 nM</text>
<text x="758" y="59.7" font-size="39" font-weight="bold" text-anchor="middle" >0.3 nM</text>
<text x="1075" y="59.7" font-size="39" font-weight="bold" text-anchor="middle" >1 nM</text>
<text transform="translate(-3.5,222.7) scale(0.99,1)" font-size="40" font-weight="bold" text-anchor="start" >IL-21IgFc</text>
<text transform="translate(-3.5,567) scale(0.985,1)" font-size="40" font-weight="bold" text-anchor="start" >PD-1Ab21</text>
<text transform="translate(13.0,32.8) scale(1.05,1)" font-size="61" font-weight="bold" text-anchor="start" >a</text>
<text transform="translate(12.3,915.8) scale(1.05,1)" font-size="61" font-weight="bold" text-anchor="start" >b</text>
<line x1="236" y1="130" x2="236" y2="543.5" stroke="#000" stroke-width="4.6"/>
<polygon points="236,106.5 249.5,133 222.5,133" fill="#000"/>
<line x1="423.9" y1="748.1" x2="1186" y2="748.1" stroke="#000" stroke-width="5.1"/>
<polygon points="1211,748 1184,734.5 1184,761.5" fill="#000"/>
<text transform="translate(307.3,762.6) scale(0.965,1)" font-size="41" font-weight="normal" text-anchor="start" >CD44</text>
<text transform="translate(252,686.6) rotate(-90) scale(0.95,1)" font-size="42">CD62L</text>
<polyline points="1462.2,453.9 1533.6,447.7 1605.1,435.0 1676.5,417.9 1747.9,385.3 1819.4,350.5 1890.8,319.7 1962.2,303.5" fill="none" stroke="#0000ff" stroke-width="6.2" stroke-linejoin="round"/>
<rect x="1454.4" y="446.1" width="15.6" height="15.6" fill="#0000ff"/>
<rect x="1525.8" y="439.9" width="15.6" height="15.6" fill="#0000ff"/>
<rect x="1597.3" y="427.2" width="15.6" height="15.6" fill="#0000ff"/>
<rect x="1668.7" y="410.1" width="15.6" height="15.6" fill="#0000ff"/>
<rect x="1740.1" y="377.5" width="15.6" height="15.6" fill="#0000ff"/>
<rect x="1811.6" y="342.7" width="15.6" height="15.6" fill="#0000ff"/>
<rect x="1883.0" y="311.9" width="15.6" height="15.6" fill="#0000ff"/>
<rect x="1954.4" y="295.7" width="15.6" height="15.6" fill="#0000ff"/>
<polyline points="1462.2,453.9 1533.6,439.8 1605.1,420.0 1676.5,395.3 1747.9,316.0 1819.4,241.1 1890.8,219.8 1962.2,225.9" fill="none" stroke="#ff0000" stroke-width="6.2" stroke-linejoin="round"/>
<circle cx="1462.2" cy="453.9" r="8.0" fill="#ff0000"/>
<circle cx="1533.6" cy="439.8" r="8.0" fill="#ff0000"/>
<circle cx="1605.1" cy="420.0" r="8.0" fill="#ff0000"/>
<circle cx="1676.5" cy="395.3" r="8.0" fill="#ff0000"/>
<circle cx="1747.9" cy="316.0" r="8.0" fill="#ff0000"/>
<circle cx="1819.4" cy="241.1" r="8.0" fill="#ff0000"/>
<circle cx="1890.8" cy="219.8" r="8.0" fill="#ff0000"/>
<circle cx="1962.2" cy="225.9" r="8.0" fill="#ff0000"/>
<path d="M1454.5 450.0h15.4v7.8h-15.4zM1525.9 441.4h15.4v5.9h-15.4zM1525.9 448.1h15.4v5.9h-15.4zM1530.8 442.4h5.6v10.6h-5.6zM1597.4 429.8h15.4v10.4h-15.4zM1668.8 410.6h15.4v5.9h-15.4zM1668.8 419.3h15.4v5.9h-15.4zM1673.7 411.6h5.6v12.6h-5.6zM1740.2 378.4h15.4v5.9h-15.4zM1740.2 386.3h15.4v5.9h-15.4zM1745.1 379.4h5.6v11.8h-5.6zM1811.7 342.4h15.4v5.9h-15.4zM1811.7 352.7h15.4v5.9h-15.4zM1816.6 343.4h5.6v14.2h-5.6zM1883.1 313.7h15.4v12.0h-15.4zM1954.5 295.0h15.4v5.9h-15.4zM1954.5 306.1h15.4v5.9h-15.4zM1959.4 296.0h5.6v15.0h-5.6zM1454.5 450.0h15.4v7.8h-15.4zM1525.9 433.5h15.4v5.9h-15.4zM1525.9 440.1h15.4v5.9h-15.4zM1530.8 434.5h5.6v10.5h-5.6zM1597.4 410.2h15.4v5.9h-15.4zM1597.4 423.9h15.4v5.9h-15.4zM1602.3 411.2h5.6v17.6h-5.6zM1668.8 389.8h15.4v11.1h-15.4zM1740.2 308.6h15.4v5.9h-15.4zM1740.2 317.5h15.4v5.9h-15.4zM1745.1 309.6h5.6v12.8h-5.6zM1811.7 234.7h15.4v5.9h-15.4zM1811.7 241.6h15.4v5.9h-15.4zM1816.6 235.7h5.6v10.9h-5.6zM1883.1 209.9h15.4v5.9h-15.4zM1883.1 223.8h15.4v5.9h-15.4zM1888.0 210.9h5.6v17.8h-5.6zM1954.5 213.1h15.4v5.9h-15.4zM1954.5 232.8h15.4v5.9h-15.4zM1959.4 214.1h5.6v23.6h-5.6z" fill="#000" stroke="none"/>
<path d="M1426.95 181.0V566.05M1415.75 564.0H2000" stroke="#000" stroke-width="4.1" fill="none"/>
<path d="M1415.75 437.0H1426.95M1415.75 310.0H1426.95M1415.75 183.1H1426.95M1462.2 564.0v11M1533.6 564.0v11M1605.1 564.0v11M1676.5 564.0v11M1747.9 564.0v11M1819.4 564.0v11M1890.8 564.0v11M1962.2 564.0v11" stroke="#000" stroke-width="4.1" fill="none"/>
<text x="1391.4" y="576.7" font-size="23.5" font-weight="bold" stroke="#000" stroke-width="0.5">0</text>
<text x="1370.5" y="449.7" font-size="23.5" font-weight="bold" letter-spacing="7.7" stroke="#000" stroke-width="0.5">20</text>
<text x="1370.5" y="322.7" font-size="23.5" font-weight="bold" letter-spacing="7.7" stroke="#000" stroke-width="0.5">40</text>
<text x="1370.5" y="195.8" font-size="23.5" font-weight="bold" letter-spacing="7.7" stroke="#000" stroke-width="0.5">60</text>
<text transform="translate(1477.8,601.2) scale(1.035,1) rotate(-45)" font-size="34.5" font-weight="bold" text-anchor="end" stroke="#000" stroke-width="0.7" stroke-linejoin="round">0</text>
<text transform="translate(1551.1,602.0) scale(1.035,1) rotate(-45)" font-size="34.5" font-weight="bold" text-anchor="end" stroke="#000" stroke-width="0.7" stroke-linejoin="round">0.01</text>
<text transform="translate(1622.6,602.0) scale(1.035,1) rotate(-45)" font-size="34.5" font-weight="bold" text-anchor="end" stroke="#000" stroke-width="0.7" stroke-linejoin="round">0.03</text>
<text transform="translate(1697.5,602.4) scale(1.035,1) rotate(-45)" font-size="34.5" font-weight="bold" text-anchor="end" stroke="#000" stroke-width="0.7" stroke-linejoin="round">0.1</text>
<text transform="translate(1768.9,602.4) scale(1.035,1) rotate(-45)" font-size="34.5" font-weight="bold" text-anchor="end" stroke="#000" stroke-width="0.7" stroke-linejoin="round">0.3</text>
<text transform="translate(1838.6,601.2) scale(1.035,1) rotate(-45)" font-size="34.5" font-weight="bold" text-anchor="end" stroke="#000" stroke-width="0.7" stroke-linejoin="round">1</text>
<text transform="translate(1910.0,601.2) scale(1.035,1) rotate(-45)" font-size="34.5" font-weight="bold" text-anchor="end" stroke="#000" stroke-width="0.7" stroke-linejoin="round">2</text>
<text transform="translate(1981.4,601.2) scale(1.035,1) rotate(-45)" font-size="34.5" font-weight="bold" text-anchor="end" stroke="#000" stroke-width="0.7" stroke-linejoin="round">3</text>
<text x="1537.9" y="421" font-size="35" font-weight="normal" text-anchor="middle" >n.s.</text>
<text x="1590.9" y="404.1" font-size="33" font-weight="bold" letter-spacing="2.66">**</text>
<text x="1643.3" y="369.3" font-size="33" font-weight="bold" letter-spacing="2.66">****</text>
<text x="1713.4" y="296.4" font-size="33" font-weight="bold" letter-spacing="2.66">****</text>
<text x="1784.5" y="223.0" font-size="33" font-weight="bold" letter-spacing="2.66">****</text>
<text x="1858.5" y="193.9" font-size="33" font-weight="bold" letter-spacing="2.66">****</text>
<text x="1933.1" y="212.0" font-size="33" font-weight="bold" letter-spacing="2.66">****</text>
<text transform="translate(1717,679.8) scale(1.035,1)" font-size="39.7" font-weight="normal" text-anchor="middle" >(nM)</text>
<text transform="translate(1348,625) rotate(-90) scale(0.9325,1)" font-size="42.2">CD44<tspan font-size="27.9" dy="-12.9">low</tspan><tspan dy="12.9" dx="-3.0"> CD62L</tspan><tspan font-size="27.9" dy="-12.9">hi</tspan><tspan dy="12.9"> in</tspan><tspan dx="3.0"> CD8</tspan><tspan font-size="27.9" dy="-12.9">+</tspan><tspan dy="12.9" letter-spacing="0.5"> (%)</tspan></text>
<line x1="1457" y1="144" x2="1506" y2="144" stroke="#0000ff" stroke-width="6.6"/>
<circle cx="1481.6" cy="144" r="12.4" fill="#0000ff"/>
<line x1="1457" y1="193.2" x2="1506" y2="193.2" stroke="#ff0000" stroke-width="6.6"/>
<rect x="1469.1" y="180.7" width="25" height="25" fill="#ff0000"/>
<text transform="translate(1527,159) scale(0.99,1)" font-size="40" font-weight="normal" text-anchor="start" >IL-21IgFc</text>
<text transform="translate(1527,208.2) scale(0.985,1)" font-size="40" font-weight="normal" text-anchor="start" >PD-1Ab21</text>
<polyline points="339.3,1313.2 434.5,1306.7 529.6,1285.4 624.8,1264.9 719.9,1225.6 815.0,1187.0" fill="none" stroke="#0000ff" stroke-width="6.2" stroke-linejoin="round"/>
<rect x="331.5" y="1305.4" width="15.6" height="15.6" fill="#0000ff"/>
<rect x="426.7" y="1298.9" width="15.6" height="15.6" fill="#0000ff"/>
<rect x="521.8" y="1277.6" width="15.6" height="15.6" fill="#0000ff"/>
<rect x="617.0" y="1257.1" width="15.6" height="15.6" fill="#0000ff"/>
<rect x="712.1" y="1217.8" width="15.6" height="15.6" fill="#0000ff"/>
<rect x="807.2" y="1179.2" width="15.6" height="15.6" fill="#0000ff"/>
<polyline points="339.3,1313.2 434.5,1279.7 529.6,1241.3 624.8,1204.5 719.9,1125.7 815.0,1092.0" fill="none" stroke="#ff0000" stroke-width="6.2" stroke-linejoin="round"/>
<circle cx="339.3" cy="1313.2" r="8.0" fill="#ff0000"/>
<circle cx="434.5" cy="1279.7" r="8.0" fill="#ff0000"/>
<circle cx="529.6" cy="1241.3" r="8.0" fill="#ff0000"/>
<circle cx="624.8" cy="1204.5" r="8.0" fill="#ff0000"/>
<circle cx="719.9" cy="1125.7" r="8.0" fill="#ff0000"/>
<circle cx="815.0" cy="1092.0" r="8.0" fill="#ff0000"/>
<path d="M331.6 1307.2h15.4v12.0h-15.4zM426.8 1302.2h15.4v9.1h-15.4zM521.9 1278.8h15.4v5.9h-15.4zM521.9 1286.2h15.4v5.9h-15.4zM526.8 1279.8h5.6v11.3h-5.6zM617.0 1253.8h15.4v5.9h-15.4zM617.0 1270.1h15.4v5.9h-15.4zM622.0 1254.8h5.6v20.2h-5.6zM712.2 1219.6h15.4v11.9h-15.4zM807.3 1179.3h15.4v5.9h-15.4zM807.3 1188.8h15.4v5.9h-15.4zM812.2 1180.3h5.6v13.3h-5.6zM331.6 1307.2h15.4v12.0h-15.4zM426.8 1268.0h15.4v5.9h-15.4zM426.8 1285.5h15.4v5.9h-15.4zM431.7 1269.0h5.6v21.4h-5.6zM521.9 1235.3h15.4v11.9h-15.4zM617.0 1194.1h15.4v5.9h-15.4zM617.0 1209.0h15.4v5.9h-15.4zM622.0 1195.1h5.6v18.8h-5.6zM712.2 1113.2h15.4v5.9h-15.4zM712.2 1132.3h15.4v5.9h-15.4zM717.1 1114.2h5.6v23.0h-5.6zM807.3 1085.2h15.4v5.9h-15.4zM807.3 1092.8h15.4v5.9h-15.4zM812.2 1086.2h5.6v11.5h-5.6z" fill="#000" stroke="none"/>
<path d="M291.9 998.25V1383.45M280.7 1381.4H865" stroke="#000" stroke-width="4.1" fill="none"/>
<path d="M280.7 1254.4H291.9M280.7 1127.3H291.9M280.7 1000.3H291.9M339.3 1381.4v11M434.5 1381.4v11M529.6 1381.4v11M624.8 1381.4v11M719.9 1381.4v11M815.0 1381.4v11" stroke="#000" stroke-width="4.1" fill="none"/>
<text x="256.3" y="1394.1" font-size="23.5" font-weight="bold" stroke="#000" stroke-width="0.5">0</text>
<text x="235.5" y="1267.1" font-size="23.5" font-weight="bold" letter-spacing="7.7" stroke="#000" stroke-width="0.5">20</text>
<text x="235.5" y="1140.0" font-size="23.5" font-weight="bold" letter-spacing="7.7" stroke="#000" stroke-width="0.5">40</text>
<text x="235.5" y="1013.0" font-size="23.5" font-weight="bold" letter-spacing="7.7" stroke="#000" stroke-width="0.5">60</text>
<text transform="translate(354.9,1418.6) scale(1.035,1) rotate(-45)" font-size="34.5" font-weight="bold" text-anchor="end" stroke="#000" stroke-width="0.7" stroke-linejoin="round">0</text>
<text transform="translate(452.0,1419.4) scale(1.035,1) rotate(-45)" font-size="34.5" font-weight="bold" text-anchor="end" stroke="#000" stroke-width="0.7" stroke-linejoin="round">0.01</text>
<text transform="translate(547.1,1419.4) scale(1.035,1) rotate(-45)" font-size="34.5" font-weight="bold" text-anchor="end" stroke="#000" stroke-width="0.7" stroke-linejoin="round">0.03</text>
<text transform="translate(645.8,1419.8) scale(1.035,1) rotate(-45)" font-size="34.5" font-weight="bold" text-anchor="end" stroke="#000" stroke-width="0.7" stroke-linejoin="round">0.1</text>
<text transform="translate(740.9,1419.8) scale(1.035,1) rotate(-45)" font-size="34.5" font-weight="bold" text-anchor="end" stroke="#000" stroke-width="0.7" stroke-linejoin="round">0.3</text>
<text transform="translate(834.2,1418.6) scale(1.035,1) rotate(-45)" font-size="34.5" font-weight="bold" text-anchor="end" stroke="#000" stroke-width="0.7" stroke-linejoin="round">1</text>
<text x="406.3" y="1259.3" font-size="33" font-weight="bold" letter-spacing="2.66">****</text>
<text x="501.5" y="1228.2" font-size="33" font-weight="bold" letter-spacing="2.66">****</text>
<text x="591.0" y="1186.5" font-size="33" font-weight="bold" letter-spacing="2.66">****</text>
<text x="688.6" y="1108.6" font-size="33" font-weight="bold" letter-spacing="2.66">****</text>
<text x="790.1" y="1077.5" font-size="33" font-weight="bold" letter-spacing="2.66">****</text>
<text transform="translate(560,1503) scale(1.035,1)" font-size="39.7" font-weight="normal" text-anchor="middle" >(nM)</text>
<text transform="translate(204.6,1447) rotate(-90) scale(0.9325,1)" font-size="42.2">CD44<tspan font-size="27.9" dy="-12.9">low</tspan><tspan dy="12.9" dx="-3.0"> CD62L</tspan><tspan font-size="27.9" dy="-12.9">hi</tspan><tspan dy="12.9"> in</tspan><tspan dx="3.0"> CD8</tspan><tspan font-size="27.9" dy="-12.9">+</tspan><tspan dy="12.9" letter-spacing="0.5"> (%)</tspan></text>
<text x="580" y="945" font-size="38" font-weight="bold" text-anchor="middle" >WT</text>
<polyline points="1030.1,1314.1 1125.3,1299.9 1220.6,1266.3 1315.8,1235.0 1411.1,1217.4 1506.3,1208.0" fill="none" stroke="#0000ff" stroke-width="6.2" stroke-linejoin="round"/>
<rect x="1022.3" y="1306.3" width="15.6" height="15.6" fill="#0000ff"/>
<rect x="1117.5" y="1292.1" width="15.6" height="15.6" fill="#0000ff"/>
<rect x="1212.8" y="1258.5" width="15.6" height="15.6" fill="#0000ff"/>
<rect x="1308.0" y="1227.2" width="15.6" height="15.6" fill="#0000ff"/>
<rect x="1403.3" y="1209.6" width="15.6" height="15.6" fill="#0000ff"/>
<rect x="1498.5" y="1200.2" width="15.6" height="15.6" fill="#0000ff"/>
<polyline points="1030.1,1314.1 1125.3,1285.8 1220.6,1250.3 1315.8,1211.1 1411.1,1182.2 1506.3,1147.3" fill="none" stroke="#ff0000" stroke-width="6.2" stroke-linejoin="round"/>
<circle cx="1030.1" cy="1314.1" r="8.0" fill="#ff0000"/>
<circle cx="1125.3" cy="1285.8" r="8.0" fill="#ff0000"/>
<circle cx="1220.6" cy="1250.3" r="8.0" fill="#ff0000"/>
<circle cx="1315.8" cy="1211.1" r="8.0" fill="#ff0000"/>
<circle cx="1411.1" cy="1182.2" r="8.0" fill="#ff0000"/>
<circle cx="1506.3" cy="1147.3" r="8.0" fill="#ff0000"/>
<path d="M1022.4 1309.3h15.4v9.6h-15.4zM1117.6 1294.0h15.4v11.8h-15.4zM1212.9 1260.5h15.4v11.6h-15.4zM1308.1 1225.3h15.4v5.9h-15.4zM1308.1 1238.8h15.4v5.9h-15.4zM1313.0 1226.3h5.6v17.4h-5.6zM1403.4 1210.9h15.4v5.9h-15.4zM1403.4 1218.0h15.4v5.9h-15.4zM1408.3 1211.9h5.6v11.1h-5.6zM1498.6 1198.1h15.4v5.9h-15.4zM1498.6 1212.0h15.4v5.9h-15.4zM1503.5 1199.1h5.6v17.8h-5.6zM1022.4 1309.3h15.4v9.6h-15.4zM1117.6 1276.5h15.4v5.9h-15.4zM1117.6 1289.2h15.4v5.9h-15.4zM1122.5 1277.5h5.6v16.6h-5.6zM1212.9 1242.5h15.4v5.9h-15.4zM1212.9 1252.1h15.4v5.9h-15.4zM1217.8 1243.5h5.6v13.5h-5.6zM1308.1 1202.5h15.4v5.9h-15.4zM1308.1 1213.8h15.4v5.9h-15.4zM1313.0 1203.5h5.6v15.2h-5.6zM1403.4 1168.8h15.4v5.9h-15.4zM1403.4 1189.8h15.4v5.9h-15.4zM1408.3 1169.8h5.6v24.9h-5.6zM1498.6 1143.6h15.4v7.4h-15.4z" fill="#000" stroke="none"/>
<path d="M982.5 998.25V1383.45M971.3 1381.4H1555" stroke="#000" stroke-width="4.1" fill="none"/>
<path d="M971.3 1254.4H982.5M971.3 1127.3H982.5M971.3 1000.3H982.5M1030.1 1381.4v11M1125.3 1381.4v11M1220.6 1381.4v11M1315.8 1381.4v11M1411.1 1381.4v11M1506.3 1381.4v11" stroke="#000" stroke-width="4.1" fill="none"/>
<text x="946.9" y="1394.1" font-size="23.5" font-weight="bold" stroke="#000" stroke-width="0.5">0</text>
<text x="926.1" y="1267.1" font-size="23.5" font-weight="bold" letter-spacing="7.7" stroke="#000" stroke-width="0.5">20</text>
<text x="926.1" y="1140.0" font-size="23.5" font-weight="bold" letter-spacing="7.7" stroke="#000" stroke-width="0.5">40</text>
<text x="926.1" y="1013.0" font-size="23.5" font-weight="bold" letter-spacing="7.7" stroke="#000" stroke-width="0.5">60</text>
<text transform="translate(1045.7,1418.6) scale(1.035,1) rotate(-45)" font-size="34.5" font-weight="bold" text-anchor="end" stroke="#000" stroke-width="0.7" stroke-linejoin="round">0</text>
<text transform="translate(1142.8,1419.4) scale(1.035,1) rotate(-45)" font-size="34.5" font-weight="bold" text-anchor="end" stroke="#000" stroke-width="0.7" stroke-linejoin="round">0.01</text>
<text transform="translate(1238.1,1419.4) scale(1.035,1) rotate(-45)" font-size="34.5" font-weight="bold" text-anchor="end" stroke="#000" stroke-width="0.7" stroke-linejoin="round">0.03</text>
<text transform="translate(1336.8,1419.8) scale(1.035,1) rotate(-45)" font-size="34.5" font-weight="bold" text-anchor="end" stroke="#000" stroke-width="0.7" stroke-linejoin="round">0.1</text>
<text transform="translate(1432.1,1419.8) scale(1.035,1) rotate(-45)" font-size="34.5" font-weight="bold" text-anchor="end" stroke="#000" stroke-width="0.7" stroke-linejoin="round">0.3</text>
<text transform="translate(1525.5,1418.6) scale(1.035,1) rotate(-45)" font-size="34.5" font-weight="bold" text-anchor="end" stroke="#000" stroke-width="0.7" stroke-linejoin="round">1</text>
<text x="1120.6" y="1265.8" font-size="33" font-weight="bold" letter-spacing="2.66">*</text>
<text x="1207.6" y="1233.6" font-size="33" font-weight="bold" letter-spacing="2.66">**</text>
<text x="1293.8" y="1193.3" font-size="33" font-weight="bold" letter-spacing="2.66">***</text>
<text x="1379.4" y="1155.7" font-size="33" font-weight="bold" letter-spacing="2.66">****</text>
<text x="1474.7" y="1127.6" font-size="33" font-weight="bold" letter-spacing="2.66">****</text>
<text transform="translate(1260,1503) scale(1.035,1)" font-size="39.7" font-weight="normal" text-anchor="middle" >(nM)</text>
<text x="1234.5" y="945" font-size="38" font-weight="bold">PD-1<tspan font-size="27.5" dy="-11.5" dx="2.5">-/-</tspan></text>
<line x1="1591" y1="1005" x2="1640" y2="1005" stroke="#0000ff" stroke-width="6.6"/>
<circle cx="1615.6" cy="1005" r="12.4" fill="#0000ff"/>
<line x1="1591" y1="1053.5" x2="1640" y2="1053.5" stroke="#ff0000" stroke-width="6.6"/>
<rect x="1603.1" y="1041.0" width="25" height="25" fill="#ff0000"/>
<text transform="translate(1661,1020) scale(0.99,1)" font-size="40" font-weight="normal" text-anchor="start" >IL-21IgFc</text>
<text transform="translate(1661,1068.5) scale(0.985,1)" font-size="40" font-weight="normal" text-anchor="start" >PD-1Ab21</text>
</svg>
</body></html>
